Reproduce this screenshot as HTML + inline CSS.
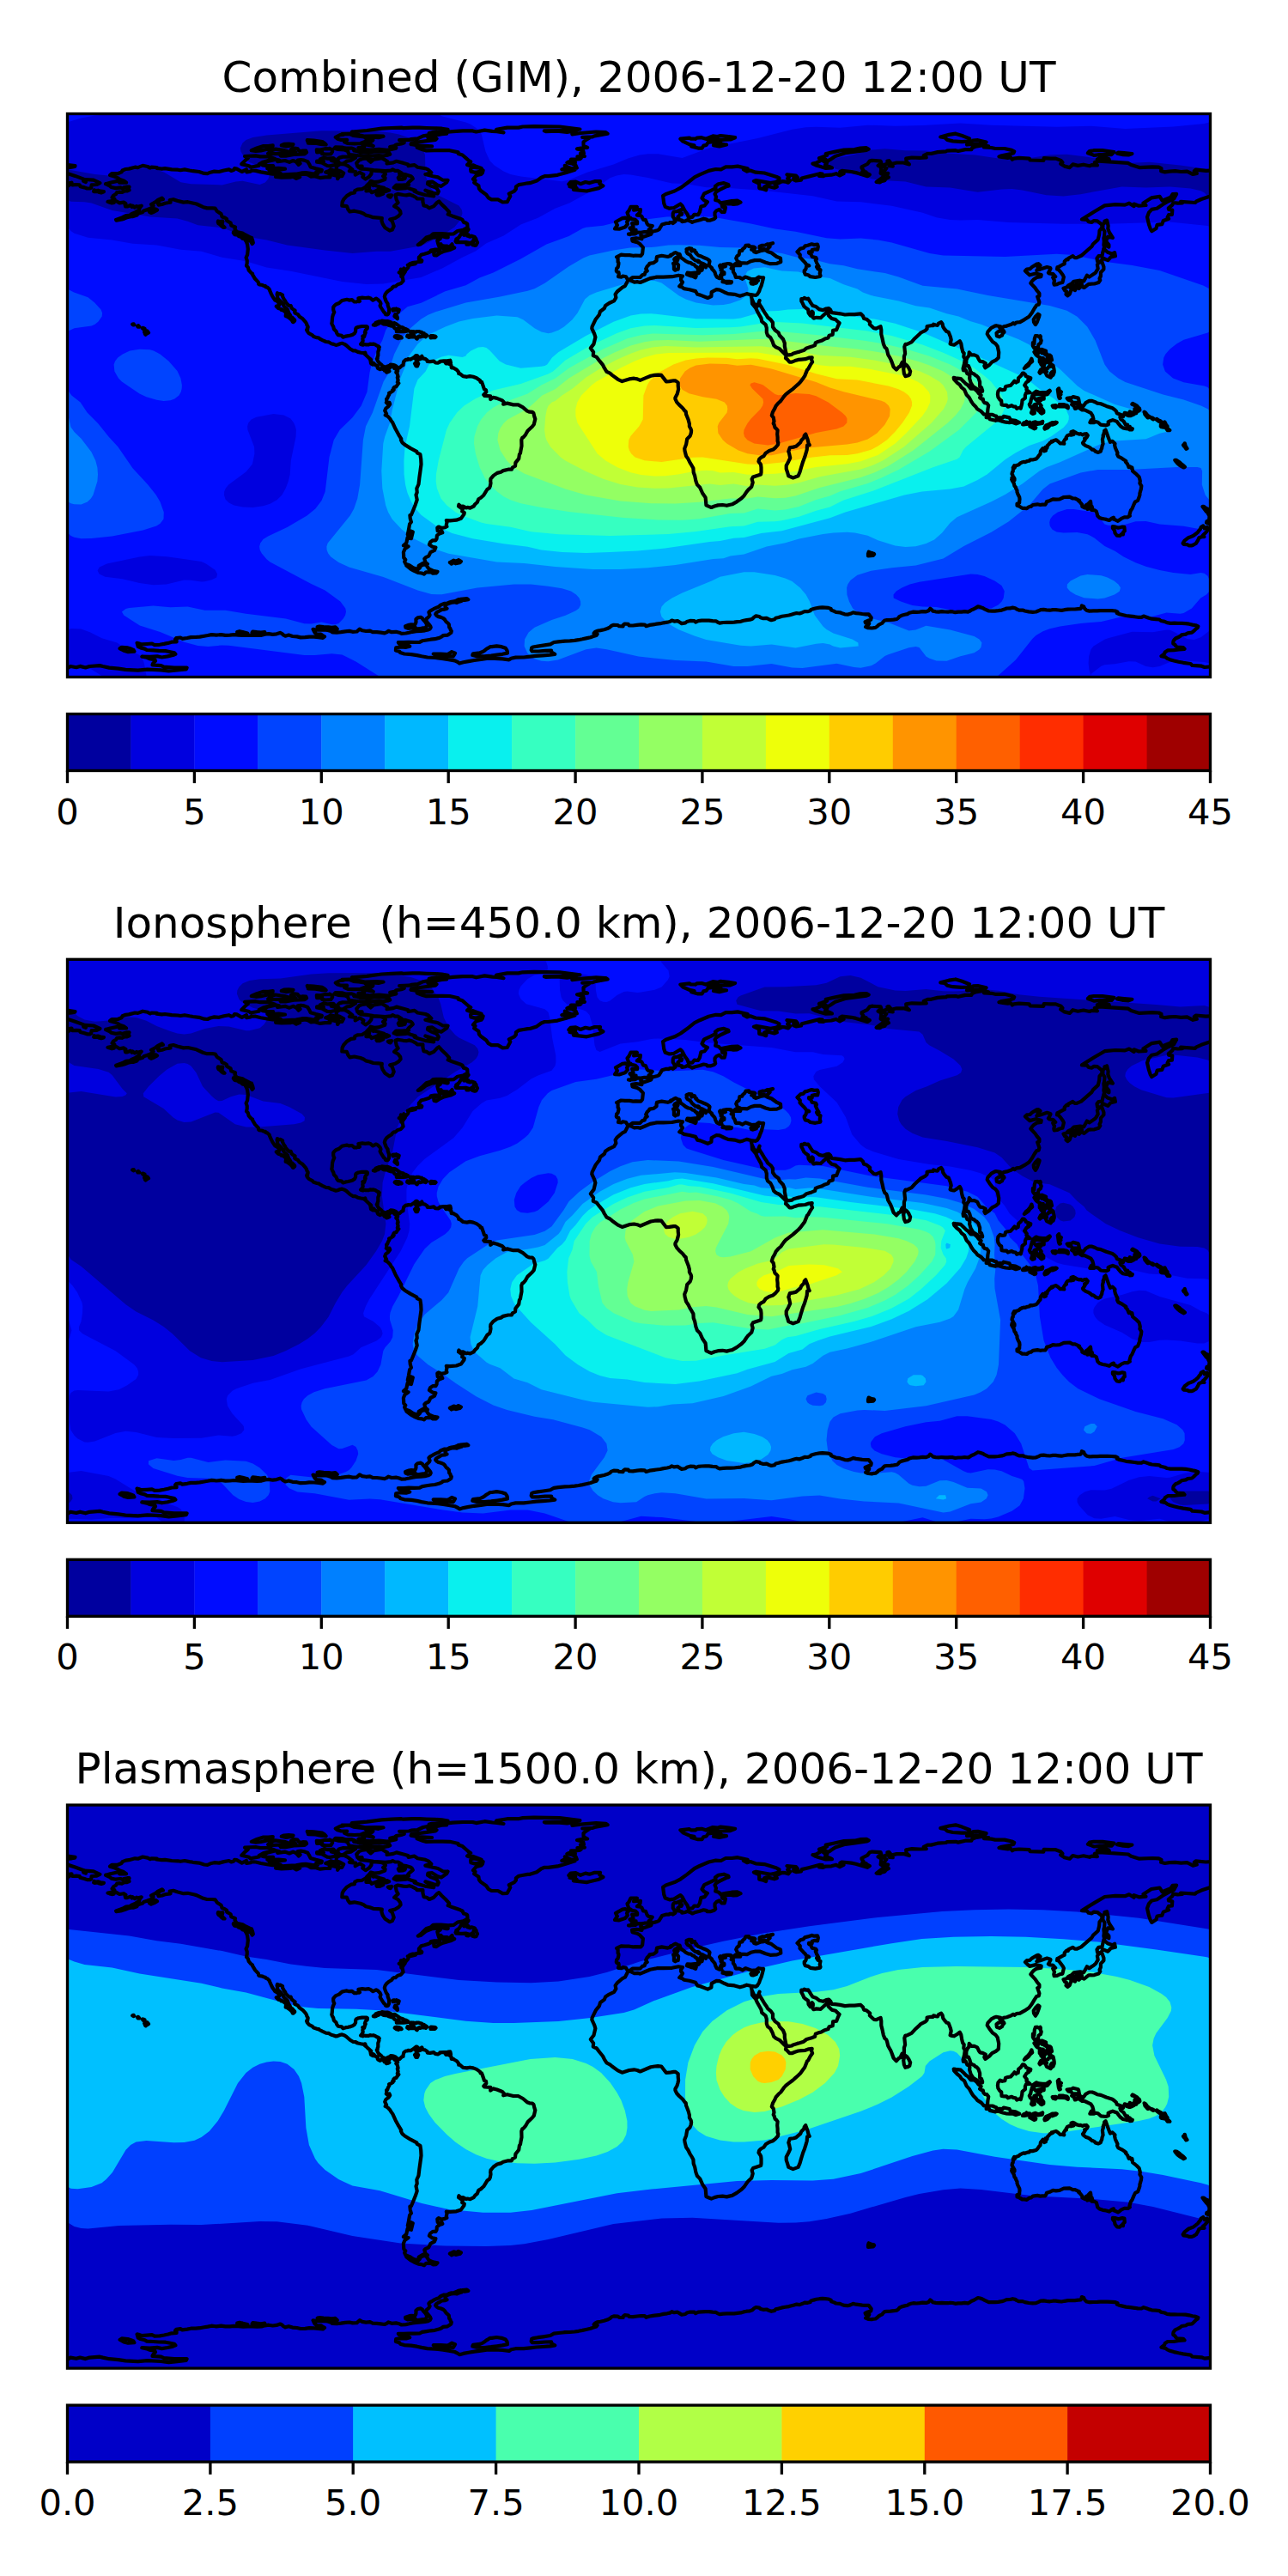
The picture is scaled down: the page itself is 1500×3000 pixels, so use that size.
<!DOCTYPE html>
<html lang="en"><head><meta charset="utf-8"><title>GIM TEC maps</title>
<style>html,body{margin:0;padding:0;background:#fff}body{width:1500px;height:3000px;overflow:hidden}svg{display:block}text{font-family:"DejaVu Sans","Liberation Sans",sans-serif;fill:#000}.ti{font-size:50px;text-anchor:middle}.tk{font-size:41.67px;text-anchor:middle}.fr{fill:none;stroke:#000;stroke-width:3.33;stroke-linejoin:miter}.co{fill:none;stroke:#000;stroke-width:4.2;stroke-linejoin:round;stroke-linecap:round}</style></head><body>
<svg width="1500" height="3000" viewBox="0 0 1500 3000">
<rect width="1500" height="3000" fill="#fff"/>
<g id="panel1">
<clipPath id="cl0"><rect x="78.5" y="132.5" width="1331" height="656"/></clipPath>
<g clip-path="url(#cl0)">
<rect x="76.5" y="130.5" width="1335" height="660" fill="#00009f"/>
<g transform="translate(0 0)" fill-rule="evenodd">
<path d="M74.5 128.5L1414.5 128.5L1414.5 198.1L1374.5 192.4L1338.5 188.8L1306.5 190.3L1266.5 182.8L1242.5 179.8L1222.5 180.3L1190.5 185.5L1174.5 186.2L1135.7 180.5L1102.5 178.4L1078.5 175.4L1054.5 175.3L1030.5 173.3L1014.5 174.6L990.5 180.9L974.5 183.9L970.5 185.1L965.8 188.5L966.4 192.5L972.4 196.5L1016.1 208.5L1026.5 210.1L1054.5 211.5L1078.5 217.4L1106.5 218.5L1138.5 223.7L1166.5 220.5L1178.5 220.1L1190.5 221.5L1218.5 227.3L1238.5 228.5L1258.5 226.2L1306.5 217.4L1334.5 218.5L1362.5 217.5L1386.5 219.5L1398.5 222.3L1402.7 224.5L1410.5 233.2L1414.5 234.9L1414.5 792.5L74.5 792.5L74.5 226.8L78.6 232.5L82.5 234.7L98.5 235.2L106.5 236.5L130.5 244.9L174.8 252.5L206.5 254.6L218.5 257.8L230.5 262.3L258.5 265.3L286.5 275.6L310.5 279.6L334.5 285.5L378.5 291.6L410.5 294.9L438.5 292.7L454.5 292.8L486.5 287.1L494.5 284.6L511 276.5L529.4 264.5L535.9 256.5L538.5 248.5L537.9 244.5L534.5 239.6L510.5 227.5L506.2 224.5L499.8 216.5L495.5 204.5L495 180.5L492 172.5L489.3 168.5L484.7 164.5L478.5 161.3L464.8 156.5L454.5 154.4L438.5 152.7L374.5 152.2L310.5 157.6L294.5 160L286.5 163.1L282.5 166.5L279.8 172.5L280.5 176.5L285.2 184.5L290.5 188.9L298.5 192.2L306.5 193.8L310.8 196.5L313.1 200.5L313.7 204.5L312.3 208.5L308.8 212.5L302.5 214.9L282.5 210.8L274.5 211.6L258.5 215.4L222.5 214.3L210.5 212.2L191 200.5L182.5 197.8L174.5 196.5L166.5 196.3L154.5 197.5L126.5 204.4L110.5 203L74.5 196.5Z" fill="#0000df"/>
<path d="M74.5 128.5L78.5 128.5L171.3 128.5L158.5 130.5L110.5 134.6L94.5 137.6L74.5 143.5ZM503.1 128.5L1414.5 128.5L1414.5 140.7L1402.5 144L1366.5 147.5L1310.5 149.9L1270.5 146.8L1230.5 147.8L1154.5 145.8L1118.5 143.6L1074.5 146.1L1042.5 146.7L1010.5 145.7L978.5 148.8L950.5 147.8L938.5 148.3L922.5 150.8L882.5 161L825.5 172.5L794.5 183.9L766.5 179.2L754.5 179.2L744.8 180.5L731.3 184.5L714.5 191.5L684.5 200.5L662.5 209.5L654.5 211.3L606.5 205.6L594.5 202.9L586.5 199.4L575.6 192.5L570.5 187.2L565.5 176.5L560.8 156.5L558.3 152.5L554.5 148.9L547.7 144.5L542.5 142.5L514.5 135.2ZM718 204.5L726.5 203L734.5 203.5L754.5 207.1L782.5 213.6L798.5 214L822.5 218.3L842.5 218.5L890.5 221.9L946.5 228.2L974.5 234.5L1002.5 235.3L1038.5 239.8L1074.5 247.8L1090.5 253.2L1106.5 256L1118.5 256.6L1138.5 255.9L1174.5 259L1238.5 260.7L1282.5 260.9L1362.5 258.5L1406.5 263.1L1409.6 264.5L1414.5 269.7L1414.5 731.8L1410.5 733.2L1398.5 742.2L1390.5 745L1382.5 743.9L1366.5 735.4L1362.5 733.7L1358.5 733.5L1342.5 736.3L1318.5 735.7L1290.5 743.2L1286.8 744.5L1273.5 752.5L1270.5 756.3L1268.1 764.5L1267.6 772.5L1268.5 780.5L1270.5 786.9L1271.1 784.5L1282.5 775.7L1286.5 774.3L1298.5 773.2L1314.5 770.3L1322.5 770.5L1334.5 775.9L1342.5 777.2L1350.5 776L1362.5 770.9L1366.5 770.1L1382.5 769.7L1402.5 771.1L1408.6 772.5L1414.5 775.7L1414.5 792.5L1270.8 792.5L1270.5 789.9L1266.5 788.8L1262.6 792.5L171.6 792.5L167.9 772.5L166.5 768.5L162.5 763.1L158.5 760.8L150.5 758.4L136.4 748.5L118.5 743.2L105.3 736.5L94.5 732.6L82.5 731.9L74.5 736.8L74.5 262.8L78.5 264.3L82.5 268.9L86.5 271.7L102.5 276.7L130.5 279.4L154.5 283.7L182.5 285.4L210.5 290.8L234.5 292.7L258.5 299.7L286.5 304.3L310.5 311.5L338.5 315.8L398.5 328L426.5 331L446.5 330.5L490.5 322.9L515 312.5L538.5 299.7L553.9 292.5L566.5 283.2L586.5 274.5L606.5 261.6L626.5 253.7L646.5 242.8L663.1 236.5L692.2 220.5L710.5 207.3ZM162.5 648.4L124.5 656.5L115.8 660.5L113.6 664.5L115.6 668.5L122.5 671.8L142.5 674.2L162.5 679.1L178.5 681.3L193.8 680.5L214.5 675.5L222.5 675.7L234.5 677.6L238.5 677.2L246.5 675.3L252.2 672.5L253.1 668.5L250.5 663.7L239.9 656.5L234.5 654.1L194.5 648.2L174.5 647ZM318.5 482.1L298.5 485.8L292.7 488.5L289.2 492.5L288.1 496.5L288.4 500.5L296.1 520.5L296.4 528.5L293.9 540.5L286.5 549.4L266.2 564.5L262.9 568.5L261.2 572.5L261 576.5L262.5 581.4L266.5 585.6L272.6 588.5L282.5 590.5L294.5 590.9L306.5 589.3L314.5 586.7L322.5 582.2L328.4 576.5L332.8 568.5L335.8 560.5L337.7 552.5L338.8 536.5L344.6 508.5L344.9 500.5L343.9 496.5L342.2 492.5L338.5 487.6L330.5 483.4ZM74.5 792.5L74.5 771.6L77.6 772.5L86.5 776.5L102.5 778.2L106.5 779.6L120.8 788.5L124.4 792.5Z" fill="#000cff"/>
<path d="M776.3 252.5L798.5 251.8L830.5 252.8L874.5 260.4L902.5 266.4L926.5 269.8L962.5 277.2L978.5 278.4L1002.5 277.6L1022.5 279.5L1038.5 282.6L1082.5 294.9L1098.5 297.4L1170.5 299.1L1230.5 295.7L1250.5 297.1L1286.5 304.8L1318.5 308.9L1350.5 315L1401.2 332.5L1414.5 339.4L1414.5 383.1L1406.5 387.4L1378.5 395.7L1370.5 400.2L1362.5 406.6L1357.3 412.5L1355.3 416.5L1354.1 424.5L1356.9 432.5L1366.1 440.5L1378.5 445.2L1402.5 449.5L1406.5 451L1414.5 460.6L1414.5 624.6L1406.5 618.6L1398.8 616.5L1378.5 612.7L1350.5 610.5L1334.5 607L1322.5 607.2L1306.5 611.9L1290.5 611.8L1286.5 610.6L1278.4 600.5L1273.1 596.5L1250.5 593L1242.5 593L1231.8 596.5L1226.1 600.5L1223.1 604.5L1222.2 608.5L1222.7 612.5L1225.3 616.5L1230.5 619.4L1238.5 620.4L1254.5 620L1266.5 622.2L1274.5 626.4L1286.5 636L1298.5 641.8L1308.7 648.5L1322.5 655.3L1334.5 659.8L1350.5 664.1L1366.5 666.9L1386.5 668.9L1398.5 667L1402.5 667.8L1406.5 670.7L1409.1 676.5L1409.7 684.5L1408.6 688.5L1404.9 692.5L1398.2 696.5L1387.9 708.5L1378.5 713.9L1374.5 714.8L1358.5 713.5L1334.5 720.1L1318.5 717.6L1306.5 718.3L1282.5 723.9L1258.5 725.9L1234.5 729.4L1222.5 732.3L1214.5 735.2L1206.5 740L1202.5 743.7L1182.9 768.5L1156.1 792.5L449.4 792.5L414.5 770.5L398.5 762.6L386.5 761.2L366.5 763L354.5 762.9L266.5 751.7L258.5 751.4L242.5 752.9L230.5 752.1L214.5 747.7L186.5 736L162.8 728.5L144.2 716.5L141.9 712.5L146.5 709.1L150.5 708L178.5 705.6L198.5 707.2L218.5 706.4L238.5 710.7L262.5 710.7L286.5 714.8L332.9 720.5L354.5 726.3L362.5 726.4L374.5 724.6L386.5 727.3L390.5 727.3L394.5 725.9L399.7 720.5L402.1 716.5L403 712.5L402.3 708.5L396.4 700.5L378.5 687.5L362.5 680L314.5 654.4L310.5 651.2L304.8 644.5L302.7 640.5L302.1 636.5L303.2 632.5L306.5 628.1L312.2 624.5L334.5 614.1L357.5 600.5L367.3 592.5L374.5 583L378.7 572.5L383.5 532.5L388.7 512.5L395.8 500.5L410.5 486.2L420.7 472.5L427.5 456.5L430.5 434.1L432.8 424.5L438.6 408.5L445.2 396.5L449.2 384.5L451.8 380.5L466.5 364.1L474.5 357.2L490.5 352.8L518.5 339.3L542.5 332.3L558.5 323.4L574.5 317.4L606.5 301.6L636.4 284.5L662.5 274.9L678.5 266L682.5 264.8L702.5 262.8L730.5 255.7L754.5 255.3ZM1130.5 668.5L1070.5 677.7L1059.5 680.5L1050.3 684.5L1043.8 688.5L1040.5 692.5L1040.7 696.5L1049.1 700.5L1062.5 705L1074.5 706.4L1090.5 706.9L1118.5 712.6L1154.5 708.4L1162.6 704.5L1166.6 700.5L1168.7 696.5L1169.8 688.5L1166.5 682.1L1158.5 676.5L1146.5 671.1L1138.5 669.1ZM74.5 387.8L74.5 334.3L86.2 340.5L102.5 346.2L110.2 352.5L117.5 360.5L119.1 364.5L118.7 368.5L114.5 374.5L110.5 377.8L106.5 379.6L86.5 382.2ZM151.2 408.5L162.5 406.8L174.5 407.2L179 408.5L186.5 412.4L196.4 420.5L206.5 432.1L210.4 440.5L211.9 448.5L211.7 452.5L210.7 456.5L208.4 460.5L203.3 464.5L198.5 466.3L190.5 466.9L182.5 465.7L170.5 462.2L162.5 458.5L141.9 444.5L138 440.5L133.4 432.5L132.6 424.5L134.1 420.5L137.2 416.5L142.8 412.5ZM74.5 618.3L74.5 450.5L78.5 453.7L83.4 460.5L93.6 468.5L101.6 480.5L114.5 493.5L126.5 508.5L137.5 520.5L154.5 545.3L172.3 564.5L181.8 576.5L186.5 584.5L190.8 596.5L190.5 604.5L186.5 609.7L182.2 612.5L166.5 617.4L130.5 624.5L106.5 627L94.5 627.2L86.5 625.8L82.5 624L78.5 620.2ZM74.5 692.2L74.5 669.7L76.7 672.5L78.8 680.5L77.8 688.5Z" fill="#0044ff"/>
<path d="M733.9 288.5L758.5 288.1L778.5 285.6L790.5 285.2L814.5 285.7L838.5 288L874.5 288.8L890.5 292.3L910.5 295L926.5 299.2L946.5 302.1L966.5 307.2L982.5 309.2L998.5 313.2L1030.5 318.1L1046.5 322.4L1074.5 332.8L1114.5 336.5L1150.5 343.9L1222.5 356.1L1242.5 361.8L1254.5 368.8L1266.2 380.5L1275.6 396.5L1286.5 424.5L1292.2 432.5L1302.3 440.5L1310.5 445L1354.5 459.6L1378.5 465.4L1398.7 472.5L1407.1 476.5L1409.6 480.5L1413 496.5L1414.5 499.3L1414.5 586.5L1410.2 584.5L1403.7 576.5L1399.8 564.5L1400.1 548.5L1398.5 545L1394.5 544.1L1370.5 544L1314.5 546.9L1278.5 546.9L1258.5 550.5L1222.5 563.5L1214.5 569.8L1198.5 588.5L1174.5 607.4L1154.5 619.8L1122.5 636L1098.5 650.6L1066.5 658.6L1038.5 661.3L1014.5 664.7L998.5 669.8L990.5 675.7L987.3 680.5L986.1 684.5L986.4 692.5L988.9 700.5L993.1 708.5L997.9 712.5L1004.9 716.5L1014.5 720.2L1034.5 724.9L1058.5 734.4L1066.5 733.6L1078.5 728.7L1106.5 733.4L1134.5 741.1L1140.5 744.5L1143.4 748.5L1142.5 753.7L1140.4 756.5L1134.5 760.3L1118.5 764.3L1102.5 769.7L1090.5 769.5L1082.5 766.7L1078.5 764.4L1070.5 754.1L1066.5 753.1L1058.5 754.3L1034.5 762.2L1030.5 764.1L1019.7 772.5L1014.5 775.3L1002.5 777.7L994.5 777.1L974.5 772.8L934.5 778L922.5 777.4L898.5 773.1L870.5 776.1L854.5 775.9L822.5 770.6L786.5 769L743.6 764.5L706.5 756.2L694.5 754.6L682.5 756.2L649.7 768.5L638.5 770.2L630.5 769.7L622.5 767.2L618.1 764.5L614.2 760.5L610.6 752.5L611.1 744.5L615.6 736.5L622.5 730.8L642.5 722L658.5 716.7L670.5 711.2L674.2 708.5L676.2 704.5L676.1 700.5L674.6 696.5L671 692.5L665 688.5L654.5 685.2L638.5 682.7L618.5 680.6L598.5 680.4L555.9 684.5L514.5 692.3L502.5 692L486.5 687.6L446.5 672L406.5 660.6L394.5 654.9L385.3 648.5L382.2 644.5L380.6 640.5L380.4 636.5L381.7 632.5L407.7 600.5L412.2 592.5L416.3 580.5L419.1 564.5L422.9 512.5L426 496.5L433.9 480.5L446.6 444.5L451.4 436.5L459.1 412.5L469.3 392.5L478.5 381.7L490.5 371.5L498.5 366.7L506.5 363.4L542.5 352.5L582.5 345.5L614.5 338.8L622.5 336.2L634.5 329.8L662.5 310.3L679.3 300.5L686.5 297.5L714.5 291.4ZM74.5 579.3L74.5 475.5L76 476.5L78.7 480.5L82.5 497.6L86.5 503L94.5 510.8L106.5 526.6L111.3 536.5L113.4 544.5L114 552.5L113.4 560.5L108.4 576.5L105.9 580.5L101.8 584.5L94.5 587.5L86.5 587.3L82.5 586.2L78.5 583.8ZM1246.7 676.5L1258.5 670.4L1266.5 669L1282.5 670.3L1289.7 672.5L1297.5 676.5L1302.4 680.5L1305 684.5L1303.8 688.5L1302.5 689.6L1297.9 692.5L1286.5 696.5L1278.5 697.4L1262.5 696.3L1252.5 692.5L1246.1 688.5L1242.7 684.5L1242.9 680.5Z" fill="#0080ff"/>
<path d="M877.8 312.5L890.5 311.3L910.5 315.5L929.8 316.5L946.5 321.6L966.5 324.1L982.5 331.3L998.5 336.4L1004.8 340.5L1014.5 344.1L1046.5 350.5L1066.5 356.3L1082.5 358.4L1102.5 365.3L1116.3 368.5L1130.5 374.2L1142.5 377.8L1186.5 395.2L1198.5 401.2L1210.5 412.6L1234.5 430.1L1254.5 449.2L1262.5 454.9L1298.5 471.1L1326.5 479L1346.5 490.1L1362.5 496.4L1364.5 500.5L1362.5 502L1350.5 504.8L1334.5 511.3L1298.5 513.5L1282.5 516.7L1234.5 538.2L1218.5 544.2L1210.5 548.5L1190.5 563.4L1170.5 576L1154.5 584.2L1114.5 602.2L1106.5 609L1097.1 620.5L1088.1 628.5L1078.5 633.1L1066.5 636.3L1054.5 636.9L1042.5 635.5L1022.5 629.3L1010.5 623.8L995.7 620.5L986.5 619.8L970.5 620.5L958.5 621.9L930.5 627.6L914.5 632.3L892.8 636.5L866.5 645.5L850.5 647.6L842.5 650.2L830.5 651L786.5 658.1L754.5 661.3L722.5 663L690.5 663L646.5 659.9L610.5 656.1L578.5 654.5L522.5 644.8L506.5 639.5L482.5 627.5L467.8 616.5L456.6 604.5L452.1 596.5L449.2 588.5L445.3 568.5L444.3 548.5L446.3 516.5L448.2 508.5L454 492.5L457 476.5L466.3 440.5L472.8 424.5L474.5 417.1L486.5 400.5L498.5 390.1L518.7 380.5L534.5 374.5L550.5 371.1L578.5 367.5L602.5 369.2L609.6 372.5L622.5 382.3L630.5 386.6L638.5 388.3L642.5 387.6L650.5 384.4L657 380.5L666.3 372.5L672.6 364.5L681.2 348.5L686.5 344.1L694.5 340.4L722.5 331.9L754.5 326.9L762.5 327L770.5 329.5L790.9 344.5L798.7 348.5L810.5 352.5L830.5 355.4L842.5 354.9L850.5 353.5L862.5 349.2L868.7 344.5L871 340.5L871.6 336.5L867.7 324.5L867.7 320.5L870.5 315.9ZM838.5 671.7L866.5 666.3L878.5 666.3L902.5 669.9L914.5 673.5L922.5 677L931.8 684.5L938.6 692.5L942.9 700.5L948.8 716.5L958.5 729.6L962.5 732.9L970.5 737.4L992.5 744.5L999.4 748.5L999.7 752.5L978.5 754.5L970.3 752.5L966.5 750.6L958.5 749.1L950.5 749.7L926.5 754.6L898.5 750.5L874.5 752.5L862.5 751.7L822.5 744.9L808.7 740.5L790.5 733.2L782.5 728.8L776.3 724.5L770.5 718.3L768.9 712.5L770.5 706.6L774.5 702.1L782.6 696.5L794.5 690.4L828.8 676.5Z" fill="#00b8ff"/>
<path d="M917.7 360.5L934.5 359.9L982.5 367.2L1018.5 371.5L1042.5 376.8L1074.5 387.3L1146.5 418.4L1195.1 440.5L1210.5 453.1L1227.7 464.5L1241.3 476.5L1244.8 484.5L1244.7 488.5L1243.2 492.5L1238.5 497.9L1223.8 508.5L1214.5 513.4L1198.5 518.9L1182.5 527.5L1170.5 535.2L1149.5 552.5L1138.5 559L1122.5 566.5L1106.5 569.5L1073.7 572.5L1053.3 576.5L984.4 596.5L966.5 603.3L910.5 618.3L886.5 621.1L866.5 626L854.5 626.8L838.5 629.9L826.5 630.9L774.5 638.5L742.5 641.4L710.5 643L682.5 643.9L654.5 643.1L630.5 640.4L614.5 636.7L586.5 633.3L550.5 627.2L526.5 621.1L508 612.5L490.5 599.7L484 592.5L479 584.5L474.5 574L472.1 564.5L470.6 552.5L470.4 536.5L471.6 520.5L477 496.5L482.4 452.5L486.5 442.2L495.7 432.5L499.7 424.5L502.5 421.3L506.5 418.9L514.5 415.5L522.5 413.8L538.5 416L542.5 414.5L543.6 412.5L548.4 408.5L556.9 404.5L562.5 403.9L566.5 405L570.5 408.2L581.7 420.5L589.1 424.5L606.5 428.7L630.5 426.7L634.5 426.1L637.2 424.5L642.9 416.5L650.5 410.1L682.5 390.9L714.5 374.7L734.5 367.6L746.5 365.6L758.5 365.2L810.5 371.3L854.5 371.6L862.5 370.6L890.5 362.5L906.5 362.1Z" fill="#09f0ee"/>
<path d="M862.5 380.4L898.5 374.8L934.5 376.4L1010.5 385.6L1038.5 391L1074.5 401.6L1098.5 410.8L1118.5 419.7L1134.1 428.5L1146.5 437.7L1154.2 444.5L1166.5 460.5L1169.7 468.5L1169.7 476.5L1165.8 484.5L1159 492.5L1124.9 520.5L1121.5 524.5L1117.6 532.5L1114.5 534.7L1086.5 544.2L1018.5 571.1L982.5 582.6L966.5 590.4L950.5 594.7L930.5 601.7L910.5 606.3L902.5 607.3L882.5 607.8L866.5 612.5L850.5 613.3L810.5 619L778.5 622.1L710.5 624.1L650.5 622.3L618.5 619.3L594.5 613.8L566.5 610.1L560.2 608.5L538.6 600.5L530.6 596.5L520.3 588.5L513.5 580.5L508.8 568.5L507.7 560.5L507.9 552.5L510.7 536.5L520 500.5L523.7 492.5L532.2 480.5L540.5 472.5L553.3 464.5L574.5 454.6L606.5 446.9L638.5 435.5L644.1 432.5L658.5 419.4L686.5 403.1L718.5 387.9L734.5 382.3L750.5 379.5L762.5 378.9L810.5 382.1L850.5 381.3Z" fill="#36ffc1"/>
<path d="M760 388.5L818.5 390.2L854.5 389L890.5 385.5L902.5 385.4L950.5 389.9L1006.5 396.7L1030.5 400.7L1054.5 406.3L1082.5 414.7L1106.5 424.4L1114.1 428.5L1126.7 436.5L1139.5 448.5L1143.3 456.5L1144.1 460.5L1143.5 468.5L1142 472.5L1136.9 480.5L1117 500.5L1082.5 525.8L1046.5 546.9L1026.5 556.6L1010.5 562.9L978.5 572.2L966.5 577.4L950.5 582.1L930.5 589.9L914.5 593.4L902.5 594.6L882.5 592.6L866.5 597.6L850.5 598L814.5 604.3L794.5 605.8L766.5 605.4L726.5 603L662.5 596.1L630.5 591.1L606.5 586.2L594.5 582.3L586.5 578.2L578.9 572.5L570.6 564.5L564.6 556.5L558.7 544.5L553.9 528.5L552 516.5L552.4 508.5L556 496.5L560.3 488.5L566.9 480.5L574.5 474.6L582.5 470.2L614.5 458.5L630.3 448.5L646.5 440.8L662.5 428.8L702.5 406.5L730.5 394.3L746.5 390.2Z" fill="#63ff94"/>
<path d="M762.2 396.5L778.5 396L814.5 397.7L882.5 394.9L898.5 395.1L962.5 403.1L998.5 406.4L1022.5 409.9L1046.5 414.7L1070.5 421.3L1082.5 425.4L1098.6 432.5L1111.1 440.5L1118.9 448.5L1123 456.5L1123.6 464.5L1122.7 468.5L1118.6 476.5L1112.1 484.5L1103.7 492.5L1063.6 524.5L1034.5 542.7L1018.5 550.3L1002.5 555.9L954.5 567.9L926.5 577.4L914.5 579.8L902.5 580.2L882.5 578.5L870.5 580.6L850.5 580.4L814.5 584.8L786.5 586.5L758.5 586.3L722.5 583.4L682.5 576.5L658.5 569.5L610.5 551.6L598.5 544.4L590.3 536.5L582.6 524.5L579.4 512.5L580.3 504.5L582.5 498.7L586.5 493L591.3 488.5L614.5 475.9L631.4 460.5L646.5 453.3L662.5 440.5L698.5 419.1L714.5 410.9L734.5 402.6L750.5 398.2Z" fill="#94ff63"/>
<path d="M759.6 404.5L774.5 403.1L810.5 404.5L886.5 403.2L922.5 407.6L954.5 413.7L990.5 415.7L1018.5 419.5L1054.5 427.1L1071.5 432.5L1082.5 437.4L1094.2 444.5L1098.4 448.5L1103 456.5L1103.8 464.5L1102.8 468.5L1098.8 476.5L1084.8 492.5L1052.7 520.5L1028 536.5L1014.5 542.6L1002.5 546.5L954.5 555.3L930.5 562.2L918.5 564.6L902.5 565.7L882.5 564.4L870.5 566.2L854.5 563.6L838.5 565L826.5 563.6L778.5 568.5L762.5 568.8L742.5 567.5L722.5 563.9L702.5 557.8L681.4 548.5L658.5 536.5L652.9 532.5L641.1 520.5L636.4 512.5L635.1 508.5L634.1 500.5L635.3 484.5L636.9 476.5L638.6 472.5L642.7 468.5L646.5 466.9L654.5 460.5L666.8 452.5L682.5 439.4L700.1 428.5L718.5 418.8L734.5 411.7L746.5 407.6Z" fill="#c1ff36"/>
<path d="M763.9 412.5L778.5 411L882.5 410.5L920.1 416.5L954.5 425.3L966.5 426.4L990.5 426.8L1014.5 430.1L1046.9 436.5L1059.6 440.5L1068.6 444.5L1074.6 448.5L1081.8 456.5L1083.3 460.5L1083.2 468.5L1079.6 476.5L1074.1 484.5L1055.3 504.5L1042.6 516.5L1022.5 529.9L1002.5 537.2L986.5 540.2L950.5 544L922.5 549.4L902.5 551.7L870.5 552.8L854.5 550L838.5 550.4L830.5 548.2L822.5 547.7L810.5 548.6L789.6 552.5L774.5 554.3L762.5 554.5L746.5 553.1L734.5 550.3L719.5 544.5L705.4 536.5L695.8 528.5L672.5 492.5L670.4 484.5L670.3 476.5L672.3 468.5L677 460.5L689.1 448.5L694.4 444.5L722.7 428.5L739.3 420.5L749.4 416.5Z" fill="#eeff09"/>
<path d="M823.9 416.5L846.5 416.8L858.5 418.2L874.5 417.2L882.5 417.8L915.6 424.5L950.5 435.3L974.5 441.2L998.5 442.5L1034.5 449.5L1046.5 453.2L1053 456.5L1058.1 460.5L1060.9 464.5L1062.1 468.5L1062 472.5L1058.9 480.5L1050.9 492.5L1042.5 502.8L1032.7 512.5L1022.5 519.6L1014.5 523.7L998.5 528.2L986.5 529.9L966.5 530.3L942.5 532.9L910.5 538.6L886.5 541.1L870.5 540.5L818.5 532.4L806.5 532.8L770.5 538L750.5 536.2L739.6 532.5L735.3 528.5L732.9 524.5L731.7 520.5L732.2 512.5L734.5 507.8L744.3 496.5L748.7 488.5L749.4 460.5L753.8 448.5L756.1 444.5L766.5 434.3L784.2 424.5L798.5 419.6L810.5 417.5Z" fill="#ffcc00"/>
<path d="M810.5 425.6L826.5 423.4L846.5 424L858.5 425.7L874.5 424.8L898.5 429.4L950.5 445.1L966.5 451.4L982.5 456.3L1026.5 466.8L1030.7 468.5L1035 472.5L1036.7 476.5L1036.1 484.5L1030.5 494.5L1021.4 504.5L1010.5 511.6L998.5 515.6L986.5 517.6L938.5 521.7L898.5 530.3L886.5 530.5L870.5 528.3L859.9 524.5L846.3 516.5L841.9 512.5L836.4 504.5L835.7 496.5L837.2 492.5L846.6 480.5L847.3 476.5L846.8 472.5L843.7 468.5L834.5 464.7L818.5 462.2L802.5 458.2L794.5 453.7L791.2 448.5L792.1 440.5L797.7 432.5L803.5 428.5Z" fill="#ff9400"/>
<path d="M873.4 448.5L874.5 446.6L878.5 445.3L886.5 447.5L888.9 448.5L902.5 459L906.5 460.2L926.5 457.9L942.5 459.1L950.5 461.2L964.6 468.5L980.7 480.5L984.9 484.5L986.5 487.4L986.3 492.5L982.4 496.5L974.5 499.6L950.5 504.1L906.9 516.5L894.5 518.4L878.3 516.5L870.5 512.6L867 508.5L866 504.5L866.5 500.5L870.5 492.9L874.5 487.7L885.5 476.5L888.1 472.5L889.1 468.5L888.4 464.5L876 452.5Z" fill="#ff6000"/>
</g>
<g transform="translate(0 0)">
<path class="co" d="M731.3 326.3L733.5 326L738.8 328.6L742.5 328.2L745.5 329L751.1 326.7L757.1 324.1L765 322.6L772.5 322.6L782.6 322.2L790.1 320.7L795 321.5L793.1 324.1L793.1 326.3L795 328.6L793.9 330.5L791.2 333.5L794.6 334.6L796.5 336.1L802.9 337.2L810 339.1L812.2 342.8L815.6 343.6L824.2 347L828.4 345.1L828.7 340.2L834.4 337.2L838.1 337.6L843.4 340.2L847.9 342.1L855.4 342.8L861.7 344.7L865.5 343.6L869.6 342.1L874.5 343.2L875.6 348.1L876 353.7L880.1 358.6L882 362.7L886.5 370.6L887.2 374.3L891.7 378.1L892.8 381.8L892.8 387.1L894 390.5L897.3 393.1L899.6 397.6L901.1 402.1L903.7 404.3L907.8 406.2L913.5 411.8L915.7 414.1L915 417.1L916.5 418.2L919.5 421.6L922.1 421.6L925.8 420.1L929.6 418.9L933.3 418.6L937.8 418.2L942 416.7L945.7 416.3L945 418.6L946.1 421.6L943.8 424.9L941.2 429.8L940.1 430.6L937.1 438.1L935.2 440.7L932.2 444.8L929.6 447.4L925.8 450.8L923.2 453.1L918.3 456.8L915 459.4L912.7 462.1L909.3 466.9L906.7 469.2L903.7 472.6L902.2 475.9L900 479.7L898.8 483.8L900.7 486.1L901.5 490.6L900.7 493.2L901.5 494.3L902.6 498.1L904.1 499.2L905.6 501.1L905.2 505.6L905.6 509.3L905.6 513.8L906.3 515.7L906 517.9L903 521.3L900.3 523.6L895.8 525.1L891.7 527.7L889.5 531.1L886.1 532.9L884.2 534.8L883.5 537.4L884.6 538.9L886.1 541.2L886.5 544.5L886.5 550.2L886.1 552.4L881.6 553.9L877.1 555.4L875.6 558L876.7 561.8L875.2 567L871.5 570.4L869.6 572.7L866.6 577.2L863.6 580.2L858 584.3L852.7 587.3L849.4 588L846.4 588.8L841.5 588L836.2 588.4L832.1 589.5L828.4 591L825.7 589.9L822.4 588.4L822 583.2L821.6 579.4L818.2 574.5L815.2 567.8L811.9 564.4L810.4 560.3L809.2 554.3L807.7 550.2L807.4 545.3L805.5 541.9L803.6 538.9L801.4 534.4L799.1 531.1L797.6 525.4L797.2 522.4L799.1 517.6L800.2 511.2L803.6 507.8L804.7 504.8L805.1 501.8L804.7 499.9L802.9 496.6L802.9 493.6L801.7 489.1L799.5 483.4L799.1 482.7L798.7 479.3L797.6 478.6L795 475.2L790.9 471.4L788.2 468.4L786.4 464.7L786.4 463.2L788.6 459.1L789.4 456.4L790.1 453.1L789.7 449.3L789.7 445.6L786.7 443.3L784.5 443.3L779.6 444.1L775.9 444.4L773.6 441.4L770.2 436.9L766.1 436.6L762.4 436.9L757.9 437.7L752.6 439.9L745.5 442.9L742.1 441.4L738.4 440.7L732.8 441.4L724.5 444.1L719.6 441.8L712.9 436.9L710.3 434.7L706.5 432.8L703.9 428.7L702 424.9L698.3 420.4L694.9 415.9L690.8 414.1L691.1 409.9L687.8 405.4L691.5 400.6L693.4 392.7L692.3 389L689.3 382.6L689.6 380.3L693.8 371.7L697.9 366.5L699 362.7L703.9 359L705 356L709.5 353L715.1 350.3L717.4 346.6L716.6 342.8L718.9 339.5L724.9 334.6L727.9 333.1L730.1 329L731.3 326.3M938.2 505.6L940.5 511.6L941.6 516.1L942.7 518.3L940.1 518.7L939.7 523.9L938.6 527.7L937.1 532.6L935.2 537.4L933 544.5L931.5 549.8L929.6 554.3L923.6 556.5L918.3 554.3L917.2 550.5L915.7 546L915.7 542.3L918.3 537.4L920.2 533.3L919.1 528.1L918.3 525.8L919.8 521.3L924 520.6L927 519.8L929.6 517.6L932.2 515.3L933.3 512.7L936.3 509.7L936.7 507.4L938.2 505.6M874.5 343.2L880.1 344L882 342.8L884.2 339.1L885 336.5L886.8 332.3L888 327.8L889.1 323.3L886.5 323.3L883.5 322.6L880.5 324.8L875.2 325.2L869.6 323L868.1 322.6L864.7 324.8L861 323L856.9 323L855.7 319.2L853.9 316.6L853.9 313.2L851.6 312.5L855.7 309.1L862.1 309.1L862.9 306.1L870 306.5L874.5 304.2L879 303.1L885.3 303.1L891.7 305.7L897 307.2L904.8 306.8L909.3 305L909 300.8L904.5 299L898.5 294.5L894 293L891 291.1L893.6 290.3L896.6 287.3L894.7 285.8L900 283.2L896.6 284L893.6 284.3L891.3 285.5L887.6 285.8L884.6 287L884.6 289.2L886.5 290.3L890.2 290L889.5 291.5L885.3 292.2L880.5 294.1L878.2 293.3L879 291.8L875.2 290.7L875.6 290L879.4 288.5L878.2 287.7L872.2 287L872.2 285.5L868.5 285.8L867.4 288.1L864.4 290.7L864.4 291.8L861.4 292.2L860.6 296.7L858.4 298.2L857.2 300.8L858.4 303.1L858.7 304.6L862.1 305.7L861.4 306.5L856.9 306.8L855.4 308L852.4 309.8L850.9 308.3L851.2 307.6L848.6 307.2L846.7 307.2L842.2 308L844.9 310.2L843 310.6L840.7 310.6L838.9 308.7L838.1 309.5L838.9 311.7L840.7 313.6L839.6 314.7L841.5 316.2L843.4 317.3L843.4 319.2L840 318.5L841.1 320.3L838.9 320.7L840.4 324.1L837.7 324.1L834.7 322.6L833.2 319.6L832.5 317L831 315.1L829.1 313.2L829.1 312.1L826.1 309.5L825.7 308L826.5 304.2L826.1 303.5L824.2 302L822.7 301.2L819 299.7L816.7 298.6L813.4 297.5L810.4 294.8L811.1 294.5L809.2 293L809.2 291.5L807 291.1L805.5 292.6L804.7 291.5L804.7 290L805.5 289.6L802.5 289.2L799.5 290.3L799.9 292.2L799.5 293.3L800.6 295.2L804 297.1L805.9 300.1L810 303.5L813 303.5L814.1 304.2L813 305L816.4 306.1L819 307.2L822.4 309.1L822.7 309.8L822 311.3L819.7 309.5L816.7 309.1L814.9 311.3L817.9 312.8L817.5 314.7L815.6 315.1L813.7 318.1L812.2 318.5L812.2 317.3L813 315.1L813.7 314.5L812.2 312.5L811.1 310.6L809.6 309.8L808.5 308.3L806.2 307.6L804.4 306.1L801.7 305.7L798.7 304.2L795.4 301.6L792.7 299.7L791.6 296L789.7 295.6L786.7 294.1L784.9 294.8L783 296.3L781.1 296.7L781.5 297.8L777.7 299L770.6 297.8L765 299L764.6 301.2L764.6 303.5L761.2 306.1L756.4 306.8L756 308L753.7 310.2L752.2 313.2L753.7 315.5L751.5 317L750.7 319.6L748.1 320.3L745.5 323L740.6 323L736.9 323L734.6 324.5L733.1 326L731.3 325.6L730.1 324.1L729 322.2L725.3 321.5L723.8 322.6L720 322.2L720.8 319.2L720.4 317L718.5 316.6L717.8 315.5L718.1 312.8L719.6 311.3L720.4 307.6L720.4 306.1L719.6 305L719.6 303.5L719.6 300.8L718.1 299.3L723.4 296.7L727.9 297.1L733.1 297.1L737.3 297.8L740.3 297.5L746.3 297.8L748.1 295.6L748.9 288.1L745.1 284L742.1 282.1L736.5 280.6L736.1 278L741 277.2L747.4 278.3L746.3 273.8L749.6 275.7L758.2 272.7L759.4 269.7L762.7 269L765.7 268.2L767.6 267.1L771 261.5L776.2 260L779.2 260L780 259.2L783 259.2L783.7 260L786.4 258.1L785.6 256.6L785.2 254.4L783.7 252.5L783.7 248.7L784.5 246.9L785.2 246.5L788.6 246.1L790.1 245.4L793.1 244.2L792.7 246.1L791.6 247.2L792.4 248.4L794.2 248.7L793.5 250.2L792.4 249.9L789.4 252.5L790.5 254.4L788.2 255.1L790.5 255.9L794.2 256.6L794.2 258.1L798.2 257.4L800.2 256.2L804.4 257.7L806.2 258.9L808.9 257.7L814.9 256.2L819.4 254.7L823.1 255.5L823.5 256.6L827.2 256.6L831.7 255.1L833.2 253.6L832.5 250.6L832.5 247.6L834.4 245.4L837.7 243.9L840.7 246.9L843.7 246.9L844.5 243.9L844.9 241.6L843.7 242L841.1 240.9L840.7 238.6L845.6 237.5L850.5 237.1L854.2 237.9L858.4 237.5L862.5 235.6L858.7 233.7L852 234.1L845.2 235.2L839.2 236.4L837 234.1L833.2 233L834 229.2L832.5 225.9L834 223.6L837.4 221.4L846 217.2L848.6 216.5L848.2 215L843 213.1L836.6 214.2L832.9 216.9L833.6 219.1L827.6 222.1L820.1 225.5L817.5 230.7L820.1 233.4L823.9 235.2L820.5 239.5L816.4 240.5L814.9 246.9L813 250.2L808.5 249.9L806.2 252.9L801.7 252.9L800.6 249.5L797.6 245.4L794.6 239.7L792.4 237.5L784.9 242L779.6 242.7L774.7 240.9L773.2 236.7L772.1 228.1L775.5 225.9L785.6 222.5L792.7 218.7L799.9 213.5L808.9 206.4L814.9 203.4L825.4 198.9L833.6 197L839.6 197.4L845.2 194.4L852.4 194.4L859.1 193.6L870.7 196.2L865.9 197.4L870 199.6L873.7 198.5L880.1 200.7L890.2 201.5L904.5 206L907.5 207.5L907.5 210.1L903.3 212L897.3 213.1L880.5 210.1L877.9 210.9L883.8 213.5L884.2 215.4L884.2 219.1L889.1 220.2L892.1 221.4L892.5 219.5L890.2 217.6L892.8 216.5L901.8 218.7L904.8 217.6L902.6 215L911.2 211.2L914.6 211.6L918 212.7L920.2 210.1L917.2 207.9L919.1 205.6L916.5 203.4L927 204.5L928.8 206.7L924.3 207.1L924.3 209.4L927 210.5L933 209.7L933.7 207.5L941.6 205.6L954.7 202.2L957.7 202.6L954 204.9L958.5 205.2L961.1 204.1L968.2 203.7L973.8 202.2L978 204.5L982.5 202.2L978.3 200L980.6 198.9L991.5 200L996.7 201.1L1010.2 205.2L1012.8 203.4L1009.1 201.5L1008.7 200.4L1004.2 200L1005.7 198.5L1003.5 195.5L1003.5 194.4L1010.2 191L1012.8 187.6L1015.5 186.9L1025.6 187.6L1026.3 189.9L1022.6 192.9L1025.2 194L1026.3 196.6L1025.6 201.9L1029.7 204.1L1027.8 206.7L1020.7 212L1024.8 212.4L1026.3 211.2L1030.4 210.1L1031.6 208.2L1034.9 206.4L1032.7 204.5L1034.2 201.9L1030.1 201.5L1029.3 199.6L1032.3 195.9L1027.4 192.9L1034.2 190.2L1033.4 187.6L1035.3 187.2L1037.2 189.5L1035.7 193.2L1039.8 193.6L1037.9 191L1044.3 189.5L1052.2 189.5L1058.9 191.4L1055.6 188.4L1055.2 184.6L1061.9 183.5L1070.9 183.9L1078.8 183.5L1075.8 181.2L1080.3 179L1084.4 179L1091.9 177.1L1101.7 176.4L1102.8 175.6L1112.9 175.2L1115.9 176L1124.2 174.1L1131.3 174.1L1132.1 172.2L1135.8 170.7L1144.8 169.2L1151.2 170.4L1145.9 171.5L1154.5 172L1159 173L1169.9 173L1178.2 174.9L1181.2 176.4L1180.4 178.2L1176.3 179.4L1166.5 181.2L1163.5 182.4L1168 183.1L1173.7 183.9L1177 183.2L1178.9 185.7L1180.7 184.6L1186.8 183.9L1198.8 184.6L1199.5 186.5L1215.3 187L1215.7 184.2L1223.5 184.6L1229.5 184.6L1235.5 186.9L1237.4 189.1L1235.2 190.7L1239.7 193.6L1245.7 195.1L1249.4 191.4L1255.4 192.9L1261.8 191.7L1268.9 193.2L1271.5 192.1L1277.9 192.5L1274.9 189.1L1280.2 187.6L1313.9 189.9L1317.3 192.1L1326.9 195.1L1342 194.4L1349.5 194.7L1352.5 196.2L1352.1 199.2L1356.6 200.4L1361.9 199.6L1368.6 199.2L1375.4 200L1382.5 199.6L1389.3 203L1393.8 201.9L1390.8 199.2L1392.6 197.7L1404.3 198.9L1412.1 198.5M875.6 348.1L877.9 353.3L882 356.7L883.5 352.6L884.6 350L883.8 352.2L885 355.2L886.8 357.8L890.6 364.2L892.8 367.2L894 369.5L897.7 372.5L900 375.8L900 380.7L902.6 384.5L906.7 387.5L907.8 390.5L912 395L913.8 399.5L913.8 403.2L915.3 410.7L916.5 413.3L919.1 413.3L922.1 412.9L923.6 411.8L928.5 410.3L931.1 409.6L936 408.1L939.3 405.4L945.3 403.6L949.1 402.1L949.8 399.1L952.5 398L956.6 396.8L960.7 394.6L964.5 393.5L965.6 390.8L969.7 389.7L970.1 384.8L974.2 384.1L976.1 379.2L977.6 376.2L975.3 374.4L973.1 372.1L968.6 371L964.8 367.2L964.5 362.3L963.7 362.7L961.1 365.3L958.5 367.6L955.8 370.2L950.6 369.8L947.6 370.6L946.8 369.8L946.1 368.3L946.8 366.1L946.8 363.8L945.7 362.7L943.5 365L943.8 367.6L941.6 364.6L941.2 360.5L939 359L936.3 356.7L934.8 353.3L933.3 350.7L933.3 348.1L935.6 348.1L936.7 347L939.3 348.1L941.2 347.7L944.2 352.6L946.5 356L950.2 357.1L954 360.1L958.5 361.2L962.2 359.5L965.2 359L967.1 360.8L968.6 364.2L972.7 364.6L978.3 365.3L984 366.5L989.2 366.1L995.2 366.1L1002.3 365.3L1005 368L1006.1 371L1009.1 371.7L1013.2 375.1L1012.8 377.7L1017.7 382.2L1020.3 382.6L1025.6 380.3L1026.3 384.1L1026.3 389.3L1027.4 393.5L1028.9 400.6L1030.4 404.3L1032.3 405.8L1033.1 408.1L1034.2 412.9L1036.1 416.3L1037.2 418.2L1038.7 421.9L1040.6 427.2L1043.9 430.6L1046.9 427.2L1050.3 426.1L1049.2 424.9L1050.7 421.9L1052.9 421.6L1052.9 415.2L1054.1 411.8L1053.3 403.9L1054.4 400.9L1056.3 400.8L1061.6 398.3L1065.3 394.2L1070.9 389L1072.4 387.5L1077.7 384.8L1079.6 383L1079.6 380L1084.1 379.2L1086.7 379.2L1087.1 377.7L1089.7 378.5L1091.9 378.8L1093.1 376.6L1096.1 375.1L1097.6 377.3L1098.3 380.7L1099.8 383L1102.4 386L1104.7 386.7L1106.9 392.3L1107.7 395.7L1106.6 400.6L1108.8 401.3L1111.1 401.7L1115.2 399.1L1117.8 397.2L1119.3 400.2L1120.1 405.1L1121.2 409.6L1122.7 411.4L1122.3 415.6L1123.8 417.8L1123.1 423.4L1121.6 429.1L1121.9 431.3L1122.7 429.1L1124.6 430.9L1126.4 435.1L1128.7 436.2L1129.4 438.1L1129.1 440.7L1130.6 445.9L1133.2 450.1L1138.1 453.2L1141.4 456.1L1144.1 455.7L1144.1 454.6L1142.9 451.2L1141.1 450.1L1141.1 447.8L1141.1 444.8L1139.4 439.9L1137.3 437.7L1136.2 437.3L1134.3 435.4L1132.1 434.7L1130.2 432.8L1129.4 429.4L1127.9 426.1L1125.3 426.1L1125.3 419.5L1126.8 415.9L1128.3 414.4L1128.7 410.3L1131.3 413.3L1134.7 413.3L1138.1 414.8L1139.9 418.6L1141.4 420.8L1144.4 421.2L1147.8 423.1L1146.3 426.1L1147.4 428.3L1152.3 424.9L1155.3 421.6L1159.8 419.3L1162.8 416.7L1163.2 410.3L1161.7 403.2L1159.4 400.2L1156 398L1152.3 393.1L1149.7 389L1150.4 386.3L1153.4 383L1154.5 381.8L1158.7 379.6L1160.2 379.2L1165.4 380.3L1164.3 381.8L1165.4 384.5L1167.3 384.5L1167.3 381.5L1168.8 380.3L1172.5 379.6L1177.8 377.7L1180 376.2L1181.5 377.3L1183.8 375.5L1187.9 375.1L1193.2 372.1L1198.4 368.7L1201.8 364.2L1204.8 359L1207.4 355.2L1209.7 354.8L1210.4 351.8L1208.2 345.5L1210.4 344.7L1210.4 341.7L1207.8 338.7L1205.5 335.3L1200.3 329.7L1202.2 327.1L1204 325.2L1207.4 323L1212.3 322.2L1212.7 320L1206.3 318.5L1199.2 320.3L1196.2 317.7L1193.9 315.5L1195.8 313.6L1199.5 313.2L1201.8 311L1207.4 307.6L1209.3 307.2L1211.5 309.1L1208.5 311.3L1209.3 312.8L1207.4 314.7L1211.5 313.6L1219.4 311L1223.2 312.1L1223.5 312.8L1222.4 315.1L1220.9 317.7L1222 318.5L1226.5 319.2L1229.2 322.2L1226.2 323L1228 326.7L1227.3 329.7L1227.7 331.6L1231 331.2L1234 329.7L1237.4 329L1238.9 322.6L1237.8 320.3L1234.4 315.8L1232.5 313.6L1231 313.6L1231.4 311.3L1233.2 310.6L1237.8 308L1239.7 307.2L1239.7 304.6L1242.3 302L1243.8 302.3L1244.2 300.8L1249.4 298.2L1251.7 300.1L1253.9 300.1L1259.2 297.8L1271.5 287L1273 284.3L1278.7 279.1L1280.2 273.1L1280.5 268.6L1283.5 264.9L1283.2 261.5L1277.9 257.4L1273.8 257L1271.5 258.9L1267.8 258.2L1265.9 255.9L1259.9 255.5L1274.4 246.5L1286.5 239.4L1298.9 238.2L1310.1 238.6L1315 236.7L1320.6 240.1L1320.6 237.5L1326.3 239.7L1334.5 239L1331.5 236.4L1340.9 230.4L1350.6 228.9L1353.6 233.7L1363.4 229.6L1365.6 226.2L1370.1 225.9L1367.1 231.5L1360.4 234.5L1354 238.2L1347.3 242.7L1341.3 243.9L1337.9 247.6L1336 252.9L1337.9 261.1L1339.8 266.7L1341.3 269.3L1346.5 266L1347.6 261.9L1353.3 261.1L1354.8 257L1361.1 254.7L1359.6 253.2L1361.1 250.2L1364.9 249.9L1365.3 244.6L1361.1 243.9L1360.8 242.4L1365.3 238.6L1366.4 236L1371.6 236.7L1376.9 236.4L1375 234.9L1391.9 236L1393.4 234.5L1399 232L1408 228.9M78.5 202L87.5 204.9L97.6 208.6L97.2 210.9L99.9 212L98.7 209L108.9 209.7L116.4 213.2L112.6 215L106.6 215.4L106.2 218.7L104.7 219.5L101.4 219.5L98.4 218.4L93.5 217.2L92.7 215.4L89 215L84.5 215.4L82.6 214.2L83.4 212.7L78.9 213.5L80.7 215.4L78.5 216.9M937.5 286.6L940.8 285.8L945.3 284.3L948.3 285.1L952.1 284.7L952.8 287.3L952.1 290.7L949.1 290.3L945.7 291.1L945.7 293.7L942 293.3L942 294.5L944.2 295.6L945.7 299L950.2 300.1L951 301.6L949.8 303.1L950.2 303.8L951.3 306.5L951.7 307.2L953.6 310.6L951 310.6L952.5 313.2L955.5 314.3L954.7 318.5L955.5 321.1L955.1 322L949.5 323L943.8 322.2L941.2 320.3L937.8 319.6L936.7 317L936.7 315.1L937.8 314.3L938.6 312.8L939.3 309.8L942.3 309.5L941.2 308.7L939.3 308.3L937.5 305.7L935.6 303.8L931.5 299.4L931.8 296.7L928.5 293.3L932.2 289.6L935.6 288.8L937.5 286.6M732 272.7L739.9 272.3L742.5 270.5L746.3 270.8L750.4 270.1L755.6 270.1L758.6 268.6L755.6 267.5L757.1 266.4L759.7 263L755.2 262.2L753.7 260.7L751.9 256.2L749.2 255.9L747.4 252.1L745.9 251L741.8 250.6L745.5 247.2L745.9 244.2L741.8 244.2L738 244.6L741.8 240.9L734.6 240.9L732.4 245.4L730.5 247.6L732.4 253.2L734.6 254L735.4 255.1L739.9 255.9L742.1 258.1L742.1 260.4L736.1 260L737.6 264.5L733.5 265.6L734.7 267.1L740.6 267.8L737.3 268.6L733.9 273.1L732 272.7M730.1 258.5L730.9 261.1L727.9 264.5L721.1 266.7L716 266.4L718.9 262.2L717 258.5L722.3 255.5L724.9 254L728.3 253.6L732 255.9L730.1 258.5M699 211.2L698.3 213.9L702.4 216.5L697.5 219.1L686.6 221.7L683.3 222.5L667.9 220.8L671.6 219.1L663.5 217.2L670.1 216.5L670.1 215.4L662.3 214.6L664.5 212L670.5 211.6L676.1 214.2L681.8 212L686.6 213.1L692.6 211.2L699 211.2M810 161.7L811.5 160.6L817.1 160.2L822 161.7L834 164.5L824.6 165.9L822.7 168.9L819.4 169.6L817.5 172.6L813 172.6L805.1 170.4L808.5 169.2L802.9 168.1L795.4 164.7L792.4 161.7L802.9 160.6L804.7 161.7L810 161.7M822 161.7L830.2 158.4L835.5 159.1L839.2 158L848.6 159.1L856.1 160.2L850.5 162.5L839.6 162.9L828.7 162.1L822 161.7M846 168.5L837.7 170.4L831 169.2L833.6 168.5L831.4 167L839.2 166.2L840.7 167.7L846 168.5M946.5 190.6L950.2 192.5L954 193.6L961.8 195.9L969 195.5L966.7 194.4L961.1 192.1L963.3 189.5L961.8 185.7L954 184.2L957.3 184.6L954.7 187.6L950.2 189.9L946.5 190.6M954 184.2L963 180.9L961.8 179L970.5 177.1L982.8 174.5L995.2 174.1L1001.6 172.6L1009.1 172.2L1011.7 173.7L1009.1 174.9L995.6 176.7L984.3 178.2L972.7 182L967.1 185.7L961.1 189.1L954 184.2M1112.9 155.7L1120.4 158L1129.1 161.4L1127.9 164.7L1120.1 165.1L1109.6 164.4L1103.2 162.9L1100.2 160.2L1095.3 159.5L1105.1 156.9L1112.9 155.7M1126.1 168.5L1133.2 163.6L1138.8 163.2L1148.6 165.5L1147.4 167L1126.1 168.5L1126.1 168.5M1273.8 175.2L1283.9 175.2L1297.4 177.1L1294.4 180.1L1280.5 180.1L1274.4 180.9L1266.9 178.2L1268.9 176L1273.8 175.2M1301.1 178.6L1302.3 177.5L1309 178.2L1318.4 179L1314.3 180.5L1308.2 180.1L1301.1 178.6M1277.9 185.4L1281.3 183.9L1286.1 183.5L1291.4 185L1291.8 186.1L1286.1 186.1L1278.3 185.7L1277.9 185.4M78.5 192.5L78.9 192.1L87.5 193.2L87.1 194L83.4 194.7L78.5 195.1L78.5 192.5M1289.1 256.6L1290.6 263L1290.3 266.4L1291.8 270.5L1295.9 276.9L1290.3 275.7L1288 281L1291.4 285.1L1291.4 287.7L1288.4 285.5L1286.1 288.2L1285.4 285.1L1285.8 281.3L1285.4 277.2L1286.1 274.6L1286.5 269.5L1284.3 266L1284.6 260.7L1288 258.9L1286.5 257.4L1289.1 256.6M1285.4 289.6L1289.9 293.7L1295.5 295.7L1298.1 294.1L1298.9 298.2L1293.6 299.4L1290.3 303.1L1284.3 300.5L1282.4 304.6L1278.1 304.6L1277.5 300.8L1279.4 298.2L1283.5 297.8L1284.6 292.6L1285.7 289.6L1285.4 289.6M1281.9 305L1283.5 305.3L1285.4 310.6L1285.4 313.6L1281.9 317.3L1281.9 321.5L1280.5 324.5L1281.3 326.3L1279.4 329L1274.5 330.5L1267.8 330.8L1262.5 335L1259.9 333.8L1259.9 330.8L1253.2 331.6L1249 333.5L1244.5 333.5L1247.9 336.5L1245.7 342.5L1243.4 344.3L1241.5 342.8L1242.3 339.5L1240 338.3L1238.5 335.7L1242.3 334.6L1244.2 332.3L1247.9 330.5L1250.5 327.8L1258 326.7L1262.2 327.5L1265.9 320.7L1268.5 322.6L1274.2 318.8L1276 317.3L1278.7 312.8L1277.9 308.3L1279.4 306.1L1281.9 305M1258 332.7L1258.8 333.8L1256.5 336.1L1255 335L1253.2 335.7L1252 338L1249.8 336.9L1249.8 335L1251.7 332.7L1253.9 333.5L1255.4 331.6L1258 332.7M1210 369.1L1207.8 375.1L1205.9 378.1L1204 375.1L1203.7 372.1L1205.9 368.7L1208.9 365.7L1210.6 366.8L1210 369.1M1166.9 390.5L1163.9 392.3L1160.9 391.2L1160.5 387.8L1162.4 386.3L1166.5 385.2L1168.8 385.2L1169.5 386.7L1168 388.2L1166.9 390.5M1060.1 432.4L1059.3 436.2L1057.8 437.3L1054.4 438.2L1052.9 435.1L1052.2 429.8L1053.7 423.8L1056.3 425.7L1058.2 428.3L1060.1 432.4M1208.2 391.2L1210.4 392.3L1211.5 391.2L1211.9 392.3L1211.5 393.8L1212.7 396.5L1211.9 399.5L1209.7 400.9L1208.9 403.9L1209.7 406.9L1211.9 407.3L1213.4 406.9L1218.1 408.8L1217.9 411.1L1219 411.9L1218.7 413.7L1215.7 411.8L1214.2 409.6L1213.4 411.1L1210.8 408.8L1207.4 409.6L1205.5 408.4L1205.9 406.9L1207 406.2L1205.9 405.1L1205.5 406.6L1203.7 404.4L1202.9 402.8L1202.9 399.1L1204.4 400.6L1204.8 394.6L1205.9 391.2L1208.2 391.2M1208.9 411.4L1208.2 414.8L1206.3 412.9L1204.4 409.9L1207.8 410.3L1208.9 411.4M1223.9 414.8L1225 419.3L1222 418.2L1222 419.4L1223.2 421.6L1221.3 422.7L1221.3 420.1L1220.2 419.7L1219.4 417.4L1221.7 417.8L1221.7 416.3L1219.4 413.3L1222.8 413.7L1223.9 414.8M1213 423.1L1213.8 421.9L1214.4 419.7L1216.4 419.7L1215.7 421.9L1218.7 418.6L1218.2 421.9L1216.8 423.3L1215.7 425.7L1214.5 426.8L1212.3 424.2L1213 423.1M1210.8 421.6L1210.7 419.7L1210.8 417.8L1210.4 415.9L1212.7 417.1L1214.9 417.1L1214.9 418.6L1213 420.4L1210.8 421.6M1201.4 417.8L1202.2 420.8L1199.5 423.1L1197.7 425.7L1192.8 429.1L1194.7 426.4L1197.3 424.2L1199.5 421.6L1201.4 417.8M1227.3 429.1L1227.7 431.5L1227.7 433.6L1226.5 436.9L1225 433.2L1223.5 435.1L1224.7 438.1L1223.5 439.6L1219 437.3L1217.9 434.7L1219 432.8L1216.8 431.3L1215.7 432.8L1213.8 432.4L1211.2 434.7L1210.4 433.6L1211.9 430.6L1214.2 429.4L1216.4 427.9L1217.5 429.8L1220.5 428.7L1221.3 427L1223.9 426.9L1223.5 423.8L1226.5 425.7L1227.3 429.1M1195.4 445.2L1193.2 448.6L1195.8 451.9L1195.4 453.8L1199.5 457.2L1195 457.6L1193.9 460.2L1193.9 463.6L1190.5 466.2L1190.2 469.9L1188.7 475.6L1188.3 474.4L1184.2 475.9L1182.7 473.7L1180 473.3L1178.2 472.2L1173.7 473.7L1172.2 471.8L1169.5 471.8L1166.5 471.4L1166.2 466.6L1164.3 465.4L1162.4 462.4L1161.9 459.1L1162.4 455.7L1164.7 453.1L1167.3 454.2L1170.3 453.6L1171 450.4L1172.5 449.7L1177 448.9L1179.7 445.9L1181.5 443.7L1183.4 445.6L1184.2 444.4L1185.7 444.4L1186 440.3L1189 437.7L1190.9 434.7L1192.4 434.7L1194.3 436.6L1194.7 438.1L1200.3 440.3L1199.9 441.8L1197.3 441.9L1198 443.7L1195.4 445.2M1150 482.5L1145.9 482.7L1142.9 479.3L1138.1 476.3L1136.6 474.1L1133.6 471.1L1131.7 468.4L1128.7 463L1125.7 459.8L1124.4 456.8L1123.1 453.8L1119.7 451.2L1117.8 448.2L1114.8 445.9L1111.1 441.9L1110.7 439.9L1112.9 440.3L1118.9 441.1L1122.3 444.4L1124.9 447.1L1127.2 448.6L1130.6 452.7L1134.7 452.7L1137.7 455.3L1139.9 458.3L1142.6 460.2L1141.1 463.2L1143.3 464.7L1144.8 464.7L1145.2 467.3L1146.7 469.2L1149.3 469.6L1151.2 472.2L1150.4 476.7L1150 482.5M1160.5 486.1L1167.7 486.4L1168.8 484.9L1175.5 486.4L1177 489.1L1182.7 489.8L1187.2 492.1L1183 493.4L1178.9 491.7L1175.5 492.1L1171.4 491.7L1168 490.9L1163.5 489.4L1160.9 489.1L1159.4 489.8L1152.7 488.3L1151.9 486.4L1148.6 486.2L1151.2 482.7L1155.7 482.9L1158.7 484.2L1160.2 484.6L1160.5 486.1M1222.8 455.3L1219.8 459.1L1217.2 459.8L1213.4 459.1L1207.4 459.1L1204 459.8L1203.7 462.4L1206.7 465.8L1208.9 464.2L1215.7 462.8L1215.7 464.7L1213.8 463.9L1212.3 466.2L1208.9 467.7L1212.7 472.6L1211.9 473.7L1215.3 478.2L1215.3 480.4L1213 481.6L1211.5 480.4L1213.4 477.4L1209.7 478.7L1208.9 477.8L1209.3 476.3L1206.7 474.1L1206.9 470.3L1204.4 471.4L1204.8 481.2L1202.5 481.9L1201 480.8L1202.2 477.4L1201.4 473.7L1199.9 473.7L1198.8 471.1L1200.3 468.4L1200.7 465.8L1202.5 460L1203.3 458.3L1206.7 455.7L1209.7 456.8L1214.2 457.2L1218.7 457.2L1222.4 454.6L1222.8 455.3M1195.4 490.9L1196.9 492.1L1199.2 491.7L1199.9 493.2L1195.7 493.9L1193.2 494.3L1190.9 494.3L1192.4 492.4L1194.3 492.1L1195.4 490.9M1214.2 490.9L1213.8 493L1208.2 493.9L1202.9 493.6L1202.9 492.1L1205.9 491.3L1208.2 492.4L1210.8 492.4L1214.2 490.9M1204.4 499.2L1199.4 496.6L1202.9 495.8L1204.8 496.9L1206.3 497.9L1205.9 498.8L1204.4 499.2M1221.9 493.9L1222.4 495.8L1222.4 495.8L1219.8 498.4L1216.8 499.6L1216.4 498.8L1216.6 497.7L1218.2 495.4L1221.9 493.9L1225.4 492.1L1228 492.1L1229.4 491.7L1230.7 492.1L1229.4 493.2L1225.4 494.7L1221.9 493.9M1235.9 456.4L1233.3 454.6L1233.2 452.3L1231.8 453.8L1232.9 461.5L1233.7 463.9L1234.8 463.6L1233.3 459.1L1235.5 459.4L1233.7 458.3L1235.9 456.4L1235.9 456.4M1242.7 472.2L1238.5 471.1L1233.7 471.1L1232.9 473.3L1237 473.3L1240.7 473.5L1243.8 475.2L1243.8 473.3L1242.7 472.2M1230.3 473.7L1229.2 474.8L1226.5 474.1L1225.7 472.6L1229.5 472.2L1230.3 473.7M1256.2 464.9L1257.3 471.1L1261.4 473.3L1264.4 469.2L1268.5 466.9L1271.9 466.9L1275.3 468.2L1277.9 469.6L1282 470.3L1288.4 472.9L1295.5 475.2L1298.1 477.1L1300 478.9L1300.7 481.2L1306.8 483.4L1307.9 485.3L1304.4 485.7L1305.3 488.3L1308.6 490.6L1310.9 494.7L1313.1 494.7L1313.1 496.2L1315.8 496.9L1314.6 497.7L1318.8 499.2L1318.4 500.3L1315.8 500.5L1315 499.6L1311.6 499.2L1307.9 498.4L1304.9 496.2L1303 493.9L1300.8 490.9L1295.9 489.1L1292.9 490.2L1290.6 491.3L1291 494.2L1288 495.4L1282 494.7L1278.7 491.7L1274.9 490.9L1274.2 492.1L1269.3 492.1L1270.8 489.1L1273.4 487.9L1272.3 483.8L1270.4 480.8L1263.2 477.4L1260.3 477.4L1254.7 473.7L1253.5 475.6L1252 475.9L1251.3 474.4L1251.1 472.9L1248.2 471.1L1252.4 469.9L1255 469.9L1254.7 468.8L1249 468.8L1247.5 466.6L1244.2 465.8L1242.7 463.9L1247.9 463.2L1249.8 462.1L1255.7 463.6L1256.2 464.9M1323.6 476.1L1324.4 478.9L1323.2 481.2L1321.4 481.6L1320.6 482.3L1318.6 483.4L1316.5 484.2L1314.6 484.2L1311.6 483.1L1309.4 481.9L1309.8 480.8L1313.1 481.6L1315 481.2L1315.8 479.3L1316.1 479.3L1316.5 481.2L1318.8 481.2L1319.9 479.7L1321.8 478.6L1321.4 476.3L1323.6 476.1M1318.4 470.7L1319.1 469.9L1321.4 471.1L1324 472.6L1325.5 474.4L1327 475.6L1327.4 477.4L1326.3 478.6L1325.5 476.3L1324.8 474.8L1323.1 473.7L1321 471.8L1318.4 470.7M1333.8 480.4L1334.9 481.6L1336.4 483.8L1338.3 484.9L1337.9 486.1L1336.8 486.4L1335.3 484.9L1333.4 482.7L1332.6 479.7L1333.8 480.4M1340.1 486.1L1342.4 486.8L1343.9 487.9L1343.1 488.3L1341.6 487.6L1340.1 486.1L1340.1 486.1M1351.8 490.6L1352.9 491.7L1352.9 492.4L1349.9 490.9L1348 489.6L1346.5 488.3L1347.3 487.9L1348.8 489.1L1351.8 490.6M1351.8 495.1L1354.8 495.8L1355.9 496.6L1356.4 497.7L1355.1 497.7L1352.7 497.3L1351.8 496.6L1352.1 495.1L1351.8 495.1M1356.6 491.7L1358.1 494.7L1359.6 496.6L1358.9 497.3L1356.3 493.9L1355.5 491.7L1356.6 491.7M1359.6 498.8L1361.1 499.9L1362.3 501.1L1359.6 501.1L1358.1 498.8L1359.6 498.8M1368.3 535.9L1370.1 535.9L1373.9 538.5L1375 539.7L1378 541.9L1379.9 543.8L1378.4 544.5L1376.5 543.4L1373.9 541.9L1371.3 539.7L1369 537L1368.3 535.9M1378.8 519.4L1379.5 516.4L1380.3 520.2L1378 518.3L1378.8 519.4M1379.9 516.4L1380.6 519.4L1382.5 522.4L1381.4 522.8L1380.3 521.3L1380.3 520.2L1379.9 516.4M1287.6 500.7L1291.8 512.3L1292.9 514.9L1295.5 513.8L1298.5 516.7L1298.1 518.3L1298.9 521.7L1301.5 527.3L1301.1 529.2L1302.3 531.7L1306.4 533.7L1309 535.4L1311.3 537L1310.9 537.8L1313.1 540.4L1314.6 544.2L1316.1 543.4L1317.6 545.3L1318.4 544.5L1319.1 548.7L1323.6 552.4L1326.6 555.4L1327.4 558.4L1327.8 560.3L1327.4 562.9L1329.3 565.9L1328.9 569.3L1327.4 574.5L1327.4 576.4L1326.6 579L1325.1 582.8L1322.1 584.3L1320.6 587.3L1318.4 592.5L1316.9 594.4L1316.1 597L1315.4 599.7L1315.8 600.8L1313.5 602.3L1309.4 602.3L1306 603.8L1304.1 605.3L1301.9 606.8L1298.9 605.3L1296.6 604.5L1297 602.7L1295.1 603.4L1291.8 606L1288.4 604.9L1286.5 604.5L1284.3 604.2L1280.5 603L1278.2 600.8L1277.5 597.8L1276.8 595.5L1274.9 594.4L1271.2 594L1272.3 592.2L1271.5 589.5L1269.7 592.2L1266.3 592.9L1268.5 590.7L1268.9 588.4L1270.4 586.5L1270 583.9L1267 587.1L1264.8 588.4L1263.2 591.4L1260.3 589.9L1260.3 587.9L1258 585L1256.2 583.5L1256.9 582.8L1252 580.5L1249.4 580.5L1245.7 578.7L1238.9 579L1234 581.3L1229.9 581.7L1226.2 581.3L1222.4 583.2L1219 584.1L1218.3 586.2L1217.2 587.7L1213.8 587.7L1211.5 588L1208.2 587.3L1202.9 588L1200.7 589.9L1199.5 589.9L1197.7 590.7L1195.8 592.2L1193.2 591.8L1190.5 591.8L1186.8 589.5L1184.5 588.8L1184.5 586.5L1186.4 586.2L1187.2 585.4L1187.2 583.9L1187.5 581.3L1187.2 579L1185.3 575.3L1184.5 573L1184.5 571.2L1183 568.5L1183 567.4L1181.5 565.9L1180.8 562.9L1178.9 559.9L1178.2 558.4L1180 559.9L1178.5 556.5L1180.4 557.7L1181.5 559.2L1181.5 557.3L1179.7 554.3L1179.3 553.2L1178.5 552L1178.9 549.8L1179.7 549L1180 544.9L1179.7 544.9L1181.2 542.3L1181.5 544.9L1183 542.3L1186.4 541.2L1187.9 539.7L1190.9 538.2L1192.8 537.8L1193.5 538.2L1196.5 537L1198.8 536.7L1199.5 535.5L1200.7 535.4L1202.5 535.5L1206.7 534.4L1208.5 532.6L1209.7 530.7L1211.5 528.8L1211.9 525.4L1214.5 522.1L1216 525.4L1217.9 524.7L1216.4 522.8L1217.5 520.9L1219.4 521.7L1219.8 519.1L1221.7 517.2L1222.8 515.7L1224.7 514.9L1224.7 513.8L1226.2 514.2L1226.2 513.4L1229.9 512.3L1232.5 514.2L1234.8 516.4L1237 516.4L1239.3 516.7L1238.5 514.6L1240.4 511.6L1241.9 510.8L1241.5 509.7L1243 507.4L1245.3 506.3L1247.2 506.7L1250.5 505.9L1250.5 504.1L1247.5 502.9L1249.8 502.2L1252 503.3L1254.3 504.8L1257.3 505.6L1258.4 505.2L1260.7 506.3L1262.9 505.4L1264.4 505.6L1265.2 505.2L1266.8 507.1L1265.9 508.9L1264.4 510.4L1263.1 510.4L1263.7 511.9L1262.5 513.8L1261 515.7L1261.4 516.8L1264.4 519.1L1267.4 520.2L1269.3 521.3L1271.9 523.6L1273 523.6L1274.9 524.7L1275.7 525.8L1279 526.9L1281.7 525.8L1282.4 523.6L1283.2 522.1L1283.5 519.8L1284.6 516.8L1284.3 515.3L1284.3 514.2L1283.9 511.9L1284.6 508.9L1285 508.2L1284.6 507.1L1285.4 505.2L1286.1 502.9L1286.1 501.8L1287.6 500.7M1298.5 613.5L1302.3 614.7L1304.1 614.3L1307.1 613.5L1309.4 613.9L1309.8 618.4L1308.3 619.5L1307.9 622.5L1306.8 621.4L1304.1 624L1303.4 624L1300.8 623.7L1298.5 620.7L1298.1 618L1295.9 615L1295.9 613.2L1298.5 613.5M1402 613.9L1402.8 615.4L1405.6 613.9L1406.5 615.4L1406.5 617.3L1405.4 618.8L1402.8 621.7L1400.9 623.3L1402.4 625.2L1399.4 625.2L1396.4 626.3L1395.3 628.9L1393 632.7L1390 634.5L1388.1 635.3L1384.8 635.3L1382.5 634.2L1378.4 633.8L1377.6 632.7L1379.5 629.7L1384.4 625.9L1386.6 625.2L1389.6 624L1392.6 621.8L1394.9 619.9L1396.8 617.3L1397.9 616.2L1398.6 614.1L1401.3 612.4L1402 613.9M1408 596.3L1410.6 600L1411 597.4L1412.5 598.5L1413.1 601.5L1416.3 602.7M1415.1 612.8L1413.3 615.4L1410.3 616.9L1409.9 615.8L1408.4 615.4L1410.3 612.4L1409.1 610.2L1405 608.7L1405.4 607.2L1408 606L1408.4 603L1408.4 600.8L1406.9 598.2L1406.9 597.4L1405 595.9L1402.4 592.5L1400.5 589.9L1402 589.9L1404.3 591.8L1406.9 592.9L1408 596.3M811.5 317.3L810.4 320.3L810.7 321.5L810 323.3L807 321.8L805.1 321.5L799.9 319.6L800.6 317.7L804.7 318.1L811.5 317.3L811.5 317.3M787.9 306.1L790.1 308.7L789.7 313.6L787.9 313.6L786.4 314.7L784.9 313.6L784.9 309.1L784.1 306.8L786 307.2L787.9 306.1M789.4 302.3L787.9 305.3L786.4 304.6L785.2 302L786 300.8L788.6 299.3L789.4 302.3M842.2 326.7L844.1 327.8L847.1 327.8L850.1 327.8L849.7 328.6L852 328.2L851.6 329.3L846 329.7L846 329L841.5 328.2L842.2 326.7M876 329L876.7 327.8L879.7 327.8L883.1 326.7L880.5 328.6L880.9 329.4L877 330.8L875.2 330.5L874.5 329L876 329M1011.7 642.8L1014.3 643.9L1017.7 644.7L1018.1 645.4L1016.9 646.9L1011 647.3L1011 645L1011.7 642.8M170.4 389L169.6 389.7L168.9 389L168.9 388.2L168.1 386.7L169 385.7L168.9 384.8L171.5 385.6L173 387.5L170.4 389M168.1 383.3L167 383.3L165.9 382.2L166.2 381.8L167.4 382.2L168.5 382.6L168.1 383.3M162.1 380.7L160.6 380.7L159.9 379.6L161 379.2L162.3 380.7L162.1 380.7M156.1 378.2L155.4 378.5L154.2 377.7L155 377.3L155.7 377.3L156.1 378.2M523.9 655L528.4 652.7L531.6 653.7L533.9 652.2L536.9 653.8L535.7 655.2L530.7 656.3L529 655L525.8 656.7L523.9 655M123.1 214.2L128.4 212.7L136.6 210.9L139.6 210.9L139.2 212.7L147.1 212.7L144.1 210.5L139.6 209L137 207.1L133.2 205.6L128 204.1L130.2 202.2L137 202.2L141.5 200.4L142.6 198.5L146.4 197L150.1 196.6L157.2 194.7L160.6 195.1L166.2 192.9L171.9 194L174.9 195.5L176.4 194.7L182.7 195.1L182.4 195.9L188.4 196.6L192.1 196.2L200 197.4L207.1 197.7L210.1 198.2L215 197.4L220.6 198.5L224.8 199.2L231.8 200L237.8 201.9L241.6 202.2L245 200.7L249.5 199.6L255.1 200L260.7 198.5L266.7 197.4L269.3 198.9L272 198.1L273.1 196.2L275.7 196.6L281.7 200L287 197.4L287.3 200.4L291.8 199.6L293.3 198.5L297.8 198.9L303.8 200.4L312.5 201.9L317.7 202.6L321.5 202.2L326.3 204.1L321.1 206L327.8 206.7L338 206.4L341.3 205.7L345.1 207.9L349.2 206L345.5 204.5L347.7 203.2L352.4 203L355.2 202.6L358.6 203.4L362.3 205.6L366.4 205.2L372.8 207.1L378.8 206.4L384.4 206.4L383.7 204.1L387.1 203.4L393.1 204.9L393.1 208.2L395.3 205.2L398.3 205.2L400.2 201.5L396.1 199.2L391.6 197.7L391.9 193.6L396.4 191L401.3 191.4L405.1 193.2L410.3 197.4L406.9 199.2L414.1 200L413.7 203.7L418.9 200.7L423.4 203.4L422.3 206L425.7 208.6L429.8 206L432.4 202.6L432.8 198.5L438.1 198.9L443.7 199.2L448.6 201.1L448.9 203L446.1 205.2L448.6 207.1L448.2 209L441.1 211.6L435.8 212L431.7 210.9L430.6 212.7L427.2 216.1L426.1 217.6L421.6 220.2L416.3 220.6L413.3 222.1L412.9 224.5L408.8 225.1L403.9 228.1L400.2 232.2L398.7 235.2L398.3 239.7L403.9 240.1L405.4 243.9L407.3 246.5L412.6 245.7L419.7 247.2L423.4 248.7L426.1 250.6L430.6 251.7L434.7 253.2L440.7 253.6L444.8 254L444.4 257L445.6 260.7L448.2 264.9L453.8 268.6L456.8 267.5L458.7 263.4L456.8 257.7L454.2 255.5L460.2 254L464.3 251.4L466.6 248.7L466.2 246.1L463.6 242.7L459.1 240.1L463.6 236L461.7 232.6L460.6 227L463.2 225.9L469.6 227L473.3 227.4L476.7 226.6L480.1 227.7L484.5 230L485.7 231.5L492.4 231.5L492.4 234.9L493.5 239.5L496.9 240.1L499.9 242.4L505.2 240.1L508.9 236L511.2 234.5L514.2 237.9L519 242.4L523.2 247L521.7 249.5L526.5 251.4L536 254.7L538.5 255.9L540 258.9L542.7 259.6L544.2 260.7L544.5 265.2L541.9 266.4L539.3 267.8L532.9 269L528.4 272.3L522 272.7L513.8 272L508.2 272L504.4 272.3L501.4 275L496.5 276.5L491.1 281.7L486.8 285.1L489.8 284.4L496 279.5L503.7 276.5L509.3 276.1L512.7 278L509.3 280.2L510.4 284.4L511.5 287.3L516.4 289.2L522.8 288.5L526.5 284.3L526.9 287L529.2 288.5L524.7 290.7L516 293L512.7 294.5L508.2 297.5L505.5 297.1L505.2 293.7L511.9 290.7L505.9 290.7L501.8 291.5L502.3 292.6L498.4 294.5L494.3 295.7L490.5 296.7L488.7 299L487.9 299.7L487.9 302L489 303.8L490.5 303.8L490.2 302.7L491.3 303.5L491 304.6L488.7 305L486.8 305L483.8 305.7L480.1 306.1L477.1 307.2L482.7 306.5L483.8 307.2L478.6 308.3L476 308.3L474.8 308.7L476.1 309.1L475.2 311.7L472.6 314.7L471.4 313.6L470.3 312.5L471.1 314.5L471.8 315.1L471.8 316.6L470.7 318.1L468.8 321.1L469.6 318.5L467.7 317L466.9 313.6L466.6 315.5L467.3 317.7L464.7 317.3L467.3 318.5L467.3 322L468.5 322.2L468.8 323.3L469.6 327.1L466.9 330.1L463.2 331.2L460.6 333.5L458.7 333.5L456.8 335L456.4 336.1L452.3 338.7L450.1 340.6L448.6 342.8L447.8 345.5L448.6 348.1L449.8 351.1L451.6 353.7L451.6 355.6L453.1 359.7L453.1 362.3L453.1 363.8L451.9 366.1L450.8 366.5L448.9 366.1L448.6 364.6L447.1 363.5L445.2 360.5L443.3 357.5L442.6 356L443.5 353.5L442.6 351.5L439.6 348.5L438.1 347.7L434.3 349.6L433.6 349.2L431.7 347.5L429.4 346.6L425.3 347L421.9 346.6L418.9 347L417.4 347.3L418.2 348.5L418.2 350L418.9 350.7L418.2 351.1L416.7 350.7L415.2 351.5L412.6 351.5L409.9 349.2L406.6 349.6L403.9 348.8L401.7 349.2L398.3 350L394.9 353L391.2 354.5L389.3 356.3L388.2 357.8L388.2 360.5L388.6 362.3L389.3 363.5L387.8 366.8L387.1 369.5L386.7 374.7L386.3 376.6L387.1 378.5L388.2 380.3L388.9 383.3L391.6 386L392.3 388.2L393.8 390.1L397.9 390.8L399.4 392.7L402.8 391.6L405.4 391.2L408.4 390.5L410.7 389.7L412.9 388.2L414.1 386L414.2 383L414.8 381.8L417.4 380.7L421.6 380L424.6 380L426.8 380L427.9 380.7L427.7 382.6L425.7 384.5L424.9 387.1L425.7 387.5L424.9 389.3L424.2 392L423.1 391.2L422.3 391.6L423.1 392.7L422.3 394.6L422.7 396.8L421.9 398.7L420.1 400.9L422.7 401.7L423.8 400.9L425.7 401.3L429.4 401.3L430.9 400.6L433.2 400.9L434.8 400.6L436.9 401.3L439.2 402.8L440.7 403.2L441.8 404.3L441.1 405.4L441.4 406.9L440.3 409.6L440.3 412.2L440.3 414.1L439.6 415.9L439.7 417.1L438.8 417.8L439.6 419.7L440.7 421.6L442.2 423.1L444.1 424.6L445.2 426.1L445.2 426.8L447.1 426.8L448.2 427.6L450.1 427.2L451.6 426.4L453.8 425.7L454.9 424.6L457.2 424.8L459.1 425.3L460.6 425.9L462.1 427.2L463.4 427.9L465.4 428.3L468.1 425.7L469.6 425.3L469.6 423.8L470.3 420.8L472.6 418.9L474.8 418.9L475.2 418.2L478.2 418.6L481.2 416.7L482.7 415.7L484.4 414.1L485.7 414.1L486.8 415.2L486 416.3L485.7 417.4L483.8 417.8L484.9 419.4L484.9 421.6L483 423.4L484.5 426.4L486 426.4L487.2 423.4L485.9 422.3L485.7 419.4L490.2 417.8L489.8 416.1L491.3 414.8L492.4 417.4L495 417.8L497.7 419.7L497.7 421L501 421.2L505.2 420.6L507 422.3L510 422.7L512.3 421.6L512.3 420.8L516.8 420.4L521.3 420.4L518.3 421.6L519.4 423.4L522.4 423.4L525.4 425.3L525.8 428.3L527.9 428.3L529.2 429.1L531.8 430.6L534 433.2L534.2 435.1L535.5 435.1L539.3 438.2L543.8 438.8L547.2 438.1L551.1 438.8L555 440.3L559.2 443.3L559.5 444.8L561 444.8L561.8 446.9L564 453.4L566 454.2L566.3 456.6L563.3 459.8L564.4 460.9L571.2 461.3L571.2 465.1L574.2 462.8L578.7 463.9L585 466.4L586.9 468.4L586.2 470.7L590.7 469.6L597.8 471.4L603.5 471.4L609 474.4L613.9 478.6L616.7 479.7L619.9 479.9L621.4 481.2L622.5 485.7L623.3 487.9L621.8 494.3L619.9 496.7L614.5 501.8L612 506.3L609.4 509.3L608.3 509.7L607.3 512.3L607.5 519.4L606.4 525.1L606 527.7L604.9 529.2L604.2 534.1L600.4 538.9L600 542.7L596.8 544.5L595.9 546.7L591.8 546.7L586 548.1L583.3 549.8L579 550.9L574.7 553.9L571.5 557.7L571.2 560.3L571.5 562.5L570.8 566.3L570 568.2L567.4 570L563.3 576.7L559.9 579.8L557.3 581.3L555.8 585L553.2 587.3L551.7 589.5L547.5 591.6L544.5 590.9L542.7 591.4L539.3 589.5L536.7 589.9L534.4 587.7L534 589.5L538.9 592.9L538.2 595.5L540.8 597L540.4 598.9L536.9 603.8L531.4 605.7L523.9 606.4L519.8 606L520.5 608.3L519.8 611.3L520.4 613.2L518.1 614.3L514.2 615L510.8 613.5L509.3 614.7L509.7 618.4L512.3 619.5L514.2 618L515.3 620.3L511.9 621.4L508.9 623.7L508.5 627.4L507.4 629.3L504 629.3L501 631.5L499.9 634.2L503.7 636.8L507.4 637.5L506 640.9L501.4 643.2L499.2 647.7L495.8 649.2L494.3 650.7L495.4 654.8L497.9 656.8L496.2 656.7L492.8 655.9L487.7 658.9L487.2 662.3L485.7 662.7L481.2 661.2L477.1 658.5L472.4 656.7L471.1 654L472.3 651.8L470.3 649.5L469.9 643.2L471.4 639.4L475.6 636.4L469.9 635.3L473.3 632.3L474.6 625.9L478.9 627.2L480.8 619.5L478.2 618.4L477.1 623.3L474.8 622.5L475.9 617.3L477.1 610.2L478.9 607.9L477.8 604.2L477.4 600L478.9 599.7L481.4 593.7L483.8 587.7L485.7 582L484.5 576.4L485.7 573.4L485.3 568.9L487.5 564L488.3 556.9L489.4 549L490.5 540.8L490.2 534.8L489.4 529.2L485.7 527.3L485.3 525.8L478.2 522.1L471.4 517.9L468.4 515.3L466.9 512.3L467.3 511.2L464.3 506.3L460.6 499.6L457.2 492.1L455.7 490.2L454.2 487.6L451.6 484.9L448.7 483.4L450.1 481.9L448.2 478.2L449.3 475.6L452.3 473.3L454.2 470.7L453.5 468.8L451.9 470.7L449.8 468.8L450.4 467.9L450.1 464.7L451.2 463.9L451.9 461.7L453.4 459.1L453.1 457.6L455.3 456.8L457.6 455.3L457.2 454.2L458.7 453.8L458.3 451.9L459.4 450.8L461.3 450.4L462.8 448.2L464.3 446.3L462.8 445.2L463.6 442.9L462.8 439.6L463.6 438.8L462.8 435.4L461.3 433.6L461.9 431.7L463.2 432.1L462.8 428.7L460.2 429.4L459.4 429.1L458.7 427.9L456.8 426.8L454.9 427.2L454.2 428.3L452.7 429.4L451.6 430.2L453.4 432.4L451.9 433.2L450.1 433.6L449.3 431.3L447.8 431.7L447.1 430.2L444.4 429.4L442.9 429.4L442.6 430.2L440.3 429.1L439.6 427.9L439.9 426.4L438.8 425.7L436.2 424.6L435.8 423.4L434.8 422.7L435.1 423.8L434.3 424.6L432.1 423.4L431.7 421.6L432.1 420.3L431.3 419.7L432.1 418.9L429.1 416.3L426.4 413.7L424.6 412.2L425.7 412.2L425.3 410.7L423.8 411.3L420.4 410.7L416.7 409.9L413.7 408.4L411.4 408.4L407.7 406.2L403.2 402.1L401.3 400.9L398.3 399.8L396.3 400.2L393.1 401.5L391.2 401.9L388.6 400.9L385.9 400.2L382.6 398.3L379.6 398L375.4 396.1L372.1 394.4L371.3 393.5L369.1 393.2L365.3 392L363.8 390.3L359.7 388.2L357.8 385.8L357.1 384.1L358.2 383.7L357.8 382.6L358.6 381.5L358.6 380.3L357.4 378.5L357.1 377L355.9 375.1L352.6 371.3L348.8 368.7L346.9 366.1L343.6 364.6L343.2 363.8L343.6 361.6L341.7 360.5L339.5 358.6L338.7 356L336.5 356L334.2 353.7L332.7 352L332.3 350.7L330.5 348.1L329 345.1L329.1 343.6L326.3 342.1L325.2 342.5L323 341.3L322.6 342.8L323 344.7L323.3 347.3L324.8 349L327.5 351.5L328.2 352.6L329.3 354.1L330.5 356.3L331.6 357.5L332.7 358.6L335 360.5L336.1 364.2L337.2 365.7L338.3 367.6L338.3 369.5L340.2 369.5L341.7 371.3L343.2 372.8L343.2 373.6L341.5 375.1L341 375.1L339.8 372.8L337.4 370.6L334.6 368.7L332.7 368L333.1 365L332.3 363.1L330.5 362L327.8 360.1L327.5 360.8L326.7 359.7L324.1 359L321.8 356.7L322.3 356.3L323.7 356.7L325.2 355.2L325.2 353.3L322.6 350.7L320.3 349.6L318.8 347.3L317.3 345.1L315.8 342.1L314.3 338.7L313.6 336.8L311.3 334.6L309.5 334.2L309.1 333.1L306.8 332.7L305.7 332L302 331.4L301.2 330.8L300.8 328.6L297.1 324.8L294.1 319.8L294.1 318.8L292.4 317.7L289.6 314.5L288.8 311.3L287 309.5L287.7 306.5L287.7 303.1L286.6 300.1L288.1 296.7L288.8 290L288.1 284.7L287 281.7L285.8 279.8L286.2 279.1L291.8 280.6L293.7 284L294.8 282.8L294.1 279.8L293 276.8L292.3 276.8L285.1 273.2L282.5 271.6L275.7 270.1L273.5 266.7L274 264.5L269.3 262.6L268.6 259.6L264.1 257L264.1 255.1L261.8 253.6L258.6 252.5L257.5 249.1L252.8 246.1L250.6 242.7L247.2 242.4L241.2 242.4L236.7 241.2L228.8 237.5L225.5 236.7L218.7 235.2L213.6 235.6L206.4 233.7L201.9 232.2L197.7 233L198.5 235.7L196.2 236L192.1 236.7L188.7 237.9L184.6 238.6L183.9 236.7L185.7 233L189.9 231.9L188.7 230.7L183.9 233L181.2 235.2L176 238L178.6 239.7L175.2 242.7L171.1 244.2L167.4 245.4L166.2 246.9L160.6 248.7L159.5 250.6L155 252.1L152.4 252.1L149 252.9L145.2 254.4L141.9 255.5L135.5 256.6L135.1 255.9L139.2 254.4L142.6 253.2L146.7 251L151.2 250.6L153.1 249.1L158.4 246.9L159.1 246.1L162.1 244.6L162.7 242L164.7 239.7L160.2 240.9L159.1 240.1L156.9 241.6L154.6 239.7L153.6 240.9L152 239L148.2 240.5L146.1 240.5L145.6 238.2L146.4 237.1L144.1 235.6L139.2 236.4L135.9 234.5L133.6 233.7L133.4 231.5L130.6 230L132.1 227.7L135.1 225.9L136.2 224L139.4 223.6L141.9 224L144.9 222.5L147.9 222.5L150.5 221.4L149.9 219.9L147.9 219.1L150.5 217.6L148.2 217.6L144.1 218.4L143 219.5L140.4 218.4L134.9 219.1L129.5 218L128 216.5L123.1 214.2L123.1 214.2M496.2 657.8L497.5 659.7L499.4 662.5L504.2 664.7L509.5 665.7L507.8 667.5L504.2 667.7L502.3 666.4L500.1 666.3L496.1 666.3L493.9 668.6L491.1 667.5L487.2 667L482.3 664.9L478.6 662.9L473.3 658.7L476.7 659.5L481.9 661.9L486.8 663.3L488.7 661.5L489.9 659L493.4 657.4L496.2 657.8M478.6 168L479.1 166.6L493.2 164.7L507 162.9L508.5 161.5L498.4 160.2L501.6 158.7L514.5 156.1L520.2 155.7L518.5 154L527.3 153.1L538.9 152.4L550.5 152.4L554.5 153.5L564.4 151.6L573.4 152.9L578.7 153.2L586.5 154.4L577.5 152.4L578.1 150.8L590.7 148.6L603.8 148.6L608.7 147.5L621.8 147.1L651.8 147.5L675.4 150.5L668.3 152L654 152L633.8 152.4L635.6 153.1L648.9 152.7L660.4 153.9L667.5 152.7L670.6 154.2L666.4 156.3L676.1 155L694.1 153.5L705.5 154.2L707.6 155.7L692.3 158.4L690.2 159.3L678.2 159.9L687 160.2L682.5 162.9L679.5 165.3L679.6 169.6L684.1 171.9L678.2 172.2L672 173.4L679.1 175.2L679.9 178.4L675.9 178.8L680.8 182L672.4 182.4L676.9 183.9L675.5 185.1L670.3 185.7L665 185.7L669.8 188.4L669.8 189.9L662.3 188.4L660.4 189.5L665.6 190.3L670.5 192.5L671.8 195.6L665.3 196.2L662.3 194.9L657.8 192.9L658.9 195.3L654.4 197.4L664.5 197.4L669.6 197.7L659.5 200.9L649.3 203.8L638.4 205.2L634.2 205.2L630.4 206.7L625.1 210.6L617.1 213.2L614.5 213.3L609.5 214.2L604.2 215.1L600.9 217.5L600.9 220.1L598.9 222.6L592.8 225.6L594.3 228.5L592.6 231.6L590.7 235.2L585.4 235.5L579.9 232.4L572.4 232.4L568.8 230.4L566.3 226.7L559.8 222L557.9 219.6L557.4 216.2L552.2 212.7L553.5 210.1L551 208.6L554.7 204.3L560.4 202.9L561.9 201.3L562.6 198.4L558.4 199.7L556.3 200.2L552.9 200.8L548.4 199.6L548.1 197L549.6 195L553 195L560.7 196L554.2 193.6L550.9 192.3L547.2 192.9L544.1 191.9L548.2 188.4L545.9 187L543 184.4L538.5 180.5L533.7 179L533.7 177.4L523.7 175.2L515.7 175L505.7 175.1L496.5 175.4L492.2 174.2L485.7 171.8L495.5 170.7L503.1 170.4L487 169.5L478.6 168M521.5 209.9L520.2 212.4L513.8 216.9L509.3 215.4L503.3 211.6L498.4 212L498 214.2L501.8 216.5L507 218.4L508.5 219.1L510.8 222.9L509.7 225.5L504.8 224.7L495.4 221.7L500.7 224.7L504.8 227L505.2 228.5L495 227L487.2 224.7L482.7 222.9L483.8 221.7L478.2 219.9L472.9 218L472.9 219.1L462.1 219.9L458.7 218.4L461.3 215.7L468.4 215.7L476.1 215L474.8 213.9L476.3 212L480.8 208.2L480.1 206.7L478.6 205.2L472.9 203.4L465.1 202.2L467.7 201.5L463.6 198.9L460.2 198.9L457.3 197.4L455.3 198.5L448.6 199.2L435.1 198.2L426.8 197L420.8 196.6L417.8 195.1L421.6 193.6L416.3 193.6L415.2 189.9L418.2 186.5L421.9 185L431.7 183.9L428.7 186.1L431.7 188.7L435.2 185.7L444.8 184.1L451.2 188L450.6 190.4L458 189.3L461.7 187.8L469.9 189.9L475.2 191.4L475.6 193.2L482.7 192.1L486.4 194.7L495.4 196.2L498.8 197.7L502.3 201.1L495.4 203L504.2 205.2L510 206.4L515.7 209.7L521.5 209.9M321.5 185.7L325.2 186.5L323.3 188.2L332 187L337 188.9L341.3 187L344.7 188.4L347.7 191.9L349.6 190.4L346.9 186.5L350.3 186L354.1 186.6L358.2 188.1L360.4 191.7L361.6 194.4L367.9 196.2L374.8 198L374.3 199.7L368.3 200L370.6 201.4L369.4 202.8L362.7 202.2L356.1 201.2L351.8 201.4L344.7 202.7L335.3 203.2L328.6 203.7L326.5 201.9L321.5 200.8L318.1 201.2L313.6 198.3L315.8 197.9L321.8 197.2L327.1 197.4L332 196.7L324.6 195.9L316.6 196.2L311.3 196.2L318.1 193.2L312.1 193.2L305.7 192.3L308.9 189.5L311.3 188L321.5 185.7M301.6 192.9L291.8 194.7L290 193.2L281.3 191.1L285.5 186.9L288.8 184.2L285.1 182L297.8 181.4L303.1 182.4L312.5 182.4L316.2 183.5L320.3 185L315.5 186.1L306.5 188.7L301.6 191.4L301.6 192.9M409.9 153.5L427.2 152L444.4 149.7L456.1 149L467.5 148.6L469.6 149.1L480.4 148.6L488.3 148.6L496.5 149L506.7 149.3L514.5 149.7L521.5 150.9L521.3 151.6L512.3 153.5L503.1 154.2L499.7 155L507.8 155L499.2 157.2L492.8 158.4L486.4 161.4L478.9 162.1L476.3 162.9L465.1 163.2L470.3 163.6L467.7 164.4L470.7 166.2L467.3 167.4L461.3 168.5L459.4 170L454.2 171.1L454.9 171.9L461.3 171.8L461.3 172.6L451.2 174.9L441.4 173.9L430.6 174.5L424.9 174.1L417.8 173.7L417.4 172.1L424.2 171.1L422.3 168.5L424.7 168.2L434.8 170L429.8 167.4L423.6 166.6L426.4 164.2L433.2 164.4L434.3 163.1L429.1 161.7L427.6 159.7L437.7 159.9L440.7 160.2L446.5 158.7L438.1 158.4L424.9 158.7L418.2 157.2L415.2 155.7L410.7 154.8L409.9 153.5M427.2 161.7L431.7 163.2L426.4 164.4L419.7 167L412.9 167.4L405.1 167L401.1 165.3L401.3 164L404.1 162.9L397.3 162.9L393.1 161.7L390.8 159.9L396.1 157.2L399.8 156.9L398.3 156.1L406.9 155.9L411.8 158L418 158.7L424.2 159.5L427.2 161.7M402.4 172.7L409.9 172.6L413.3 173.9L412.3 175.4L416.7 176.2L418.9 177.1L424.2 177.2L429.4 177.5L435.4 176.7L443.1 176.4L449.3 176.7L453.2 178.1L454.2 179.7L451.7 180.6L446.1 181.5L441.4 181L430.6 181.6L422.9 181.6L416.8 181.2L406.9 180L405.6 177.9L405.1 176L401.3 174.5L393.6 174L389.3 172.8L390.6 171.3L398.3 171.5L402.4 172.7M347.7 174.9L349.2 176.2L352.6 175.6L356.3 175.7L357.1 177.5L354.8 179.4L342.1 179.9L332.7 181.6L327.1 181.6L326.3 180.5L334.2 178.6L317.3 179.2L312.1 178.6L317.1 174.9L320.7 173.7L331.2 175.2L338 177.3L344.4 177.6L339.1 174L342.5 172.6L346.4 173L347.7 174.9M376.9 183.7L381.4 184.6L388.2 184L389.3 185.1L385.8 186.9L391.6 188.5L390.8 191.9L384.4 193.4L381.1 193L374.7 189.5L369.1 188.7L369.1 187.5L376.9 188L372.8 185.5L376.9 183.7M403.9 187.7L399.8 190.5L395.7 190.4L393.3 187.1L393.4 185.2L395.3 183.6L399.1 182.6L406.9 182.7L414.1 183.6L408.4 187L403.9 187.7M384.1 173L387.1 174.6L387.1 176.6L385.3 179.4L379.2 179.7L375.1 179.1L375.2 177L369.1 177.3L368.8 174.3L372.8 174.5L378.5 173.2L383.8 173.4L384.1 173M394.8 201.5L392.4 202.8L387.4 201.6L384.4 202L379.2 200.4L382.6 199.2L385.2 197.6L389.1 198.6L391.3 199.3L392.5 200L394.8 201.5M434.1 214.4L434.8 216.1L436.7 215.5L438.9 216.5L442.9 217.7L447.3 218.9L447.6 220.7L450.4 220.4L453.1 221.6L449.7 222.9L443.9 221.9L441.8 220.2L438.1 222.2L432.8 224.2L431.4 222L426.4 222.3L429.6 220.5L430.2 217.6L431.3 214.1L434.1 214.4M317.7 169.4L317.3 172.2L314.3 173.6L310.8 173.8L303.8 175.4L297.8 176L292.8 175.2L299.1 172.4L306.8 170L312.5 170L317.7 169.4M357.8 163.2L365.3 163.7L375.4 165.1L378.2 167L379.6 168.5L373.6 168L367.4 166.8L358.9 166.6L362.7 165.5L358.2 164.7L357.8 163.2M340.2 169.2L333.3 170.4L327.8 169.2L330.8 167.9L336.1 167.6L341.5 168.1L340.2 169.2M468.8 204.5L471.8 205.6L471.8 207.1L471.4 207.9L468.8 208.8L464.7 209L463.8 207.1L465.4 205L468.8 204.5M456.1 227.4L454.7 229.6L453.1 229.2L451.9 228.1L452.3 227.7L456.1 227.4M441.2 224.7L446.3 224.7L446.3 225.5L441.8 227.4L439.2 227.4L438.5 226.4L441.2 224.7M543 270.5L540.4 273.8L542.9 272.5L545.4 273.3L544.2 274.6L547.5 275.7L549.1 274.7L552.9 275.9L551.7 278.7L554.3 278L554.8 280L556 282.5L554.4 285.6L552.8 285.8L550.2 285.1L551.1 282.1L550.2 281.5L545.7 284.7L543.4 284.6L546 282.9L542.5 282L538.4 282.2L531.2 282.1L530.6 281L532.9 279.7L531.3 278.6L534.5 276.4L538.3 270.4L540.6 268.3L543.9 267L545.6 267.1L544.9 268.1L543 270.5M513.4 284.3L514.7 286L517.5 286.6L520.9 286.6L519 288.1L517.7 288.2L512.9 286.6L511.9 285.5L513.4 284.3M511.5 273.6L512.8 273.2L517.7 274.2L521.7 275.7L521.7 276.5L519.8 276.5L514.9 275.3L511.5 273.6M290.3 278.7L288.5 279.1L282.1 277.6L281.1 276.1L277.8 275L277.1 273.8L273.2 273.1L271.8 271.1L272.1 270.2L276.1 271L278.3 271.6L281.9 272L283.2 273.3L285.1 275L288.8 276.6L290.3 278.7M254 257.5L255.8 258L259.4 257.7L258.3 261.9L261.5 264.9L260 264.9L257.8 263.2L256.4 261.5L254.5 260.3L253.8 258.7L254 257.5M179.7 246.5L176 248L174.1 246.9L173.5 245.1L176.9 243.9L179 243.2L181.4 243.5L183 244.6L179.7 246.5M109.6 221.4L111.9 222.1L114.1 221.7L117.1 222.7L120.9 223.2L120.5 223.6L117.9 224.4L114.9 223.6L113.5 222.9L110.2 223.2L109.2 222.9L109.6 221.4M132.6 236L130.3 236.5L127.8 235.8L125.5 234.9L129.2 234.2L132.2 234.5L132.6 236M444.8 373.6L448.2 374L451.2 374L454.6 375.1L456.1 376.6L459.6 376.2L461 377L464.3 379.4L466.6 381.1L467.7 381.1L469.9 381.8L469.7 383L472.6 383L475.3 384.5L474.8 385.4L472.3 385.9L469.8 386.1L467.3 385.8L461.8 386.1L464.4 384.1L462.8 383.1L460.4 382.8L459.1 381.7L458.2 379.6L456.1 379.7L452.7 378.7L451.6 377.9L446.7 377.3L445.3 376.6L446.7 375.7L443 375.5L440.3 377.4L438.8 377.5L438.2 378.4L436.4 378.8L434.8 378.5L436.7 377.3L437.6 375.9L439.3 375.1L441.2 374.4L444.1 374L444.8 373.6M478.9 386L481.2 386L484.5 386.7L484.9 386L487.9 386L490.2 387.1L491.1 386.9L491.8 388.2L493.8 388.2L493.7 389.3L495.4 389.4L497.3 390.8L495.8 392.3L494.1 391.5L492.3 391.7L491.1 391.5L490.4 392.1L489 392.4L488.4 391.5L487.2 392L485.7 394.6L484.7 394L484.5 392.9L482 392.3L480.3 392.5L478 392.3L476.2 393L474.2 391.8L474.5 390.6L478 391.1L480.8 391.4L482.2 390.6L480.5 389L480.5 387.5L478.1 386.9L478.9 386M462.5 391.2L465.1 391.6L467 392.5L467.7 393.5L465.1 393.6L463.9 394.2L461.8 393.6L459.7 392.2L460.1 391.4L461.7 391.1L462.5 391.2M504.9 391.2L506.8 391.5L507.5 392.2L506.5 393.2L503.7 393.2L501.5 393.3L501.3 391.7L501.8 391.1L504.9 391.2M462.8 371.3L460.9 369.5L459.4 368.3L460.2 366.1L461.3 366.1L462.8 369.5L462.8 371.3M461.7 359.7L464.7 360.8L463.9 363.5L463.2 361.2L461.7 359.7M457.3 360.1L459.1 359.7L461.5 360.1L461.7 360.8L457.6 361.6L457.3 360.1M522 420.1L524.3 419.7L525 422.7L521.7 423.1L521.1 422.7L522.2 421.6L522 420.1M78.5 778.2L82 776L88.8 777.2L93.2 775.9L99.6 777.5L104.3 776L116.2 775.1L119.7 776L127.2 777.6L137.8 778.6L146.2 779.8L160.7 780.6L171.5 779.6L187.5 780.4L196.5 781.5L206.4 780.5L216.8 779.4L217.6 777.6L202.9 777.5L190.8 776.6L187.6 775.1L177.5 774.3L178.2 772.7L179.6 771.1L181 769.7L180.3 768.2L174 767.1L171.1 765.8L165.3 764.6L174.4 764.9L183.1 764.3L188.5 765.5L195.2 764.4L201.4 763L204.4 761.8L203.1 760.2L198.3 759.2L192.7 758.1L185 757.9L178.3 757.4L171 757L168.6 755.6L163.7 754.4L160.8 753.1L159.6 748.8L161.4 749.2L164.8 750.4L171 750L177 749.5L180 751.1L186 750.8L191 749.9L195.7 748.9L199.9 747.7L205.6 747.3L205.5 745.9L204.1 744.5L205.2 743.2L210.1 742.5L212.3 743.8L218 743L222.3 742.1L227.7 742L232.7 741.6L237.8 740.7L241.9 740L246.4 739.1L249.4 739.4L251.9 739.7L257.5 739.1L262.5 739.8L267.7 739.7L272.6 739.2L277.6 739.6L283.2 740L288.4 739.8L293.9 739.9L299.4 740L304.6 739.8L308.4 738.7L312.9 738.1L317.6 738.9L322.1 738.3L326.2 736.9L328.6 738.1L329.9 739.4L332.3 740.7L336.2 739.6L340.7 741L345.8 741.4L350.1 742.4L355.4 742.2L360.1 741.6L365.8 741.7L370.9 742.2L376 742.9L378 741.3L375.6 740L373.8 738.7L368.9 738.4L366.8 737L366 735.6L364.6 732.8L367.5 733.3L372.4 733.6L377.3 733.3L381.7 733.9L385.5 735.1L387.1 736.4L392.2 736.6L397 736.1L402.2 735.3L406.8 734.9L410.6 735.8L415.6 735.5L418.8 732.6L421.9 734.3L426.2 735L430.9 734.6L434 736.1L438.9 736.2L443.4 736.7L447.9 737.4L450.8 736.1L452.3 734.8L456.1 736.2L461.2 735.8L465 736.7L467.6 737.9L472.6 737.5L476.5 736.7L480.3 735.8L484.8 735.2L490.1 734.8L494.9 734.3L498.6 733.5L500.8 732.3L501.7 730.7L501.2 729.2L500.1 727.7L498.7 726.2L497.6 724.7L496.6 723.4L496.4 722L496.7 720.5L498.5 719.1L500 717.5L500.6 716.1L499.8 714.5L499.4 713L501.2 711.3L503.3 710.2L505.7 708.8L508.3 707.6L511.3 706.5L512.7 704.9L514.8 703.9L517.2 702.9L520.8 702.7L523.1 701.5L525.8 700.8L528.8 700.4L531.6 699.4L533.7 698.2L536.6 697.8L538.8 698.8L537.4 700L533.6 701.1L532 701.9L529.2 701.3L526.1 701.7L523.5 702.5L520.8 703.5L519 704.6L518.5 706.1L518.7 707.5L520.5 708.7L517.9 709.6L514.4 709.9L512.3 711.2L510.1 712.3L507.8 713.9L507.2 715.3L508.5 716.9L510.5 718.1L513.6 718.9L516.4 720.1L518 721.6L518.8 723L519.9 724.4L521.6 725.7L522.8 727.1L523.2 730.6L524.4 731.9L524.7 733.4L525.8 734.9L525.3 736.9L523.2 738.4L521.1 739.7L516 740.2L514.4 741.5L512.1 742.7L506.4 744.2L501.5 744.7L496.7 745.5L491.7 746.3L488.7 747.9L482.6 748L476 747.9L470.1 748.2L463.8 748.2L464.9 749.6L470.7 750.3L474.9 751.4L477.2 752.7L473 753.8L466.6 753.5L461.2 754.4L460.9 757.4L465.2 758.7L466.1 760.1L470.8 761.5L478.8 762.1L485.5 763.1L490.9 764.3L497.7 765.5L507 766L516.2 767.1L522.6 768.2L529.6 769.4L533.3 771.2L535.1 772.6L539.6 771.3L545.8 770.1L552.3 769L560.1 768L566.8 767L576.1 766.9L585.3 767.4L592.9 768.3L595.3 766.7L600.5 765.6L610 765.5L617.4 764.7L624.4 763.9L632.2 763.4L640.5 762.7L646.3 761.8L643.7 760.5L642.1 759.1L642.1 757.7L634.8 757.9L627.1 758.5L619.7 758.5L618.7 757.1L619.2 754.3L620.9 753.5L626.3 752.6L632.6 751.7L640.9 750.4L645.1 748L650.2 747.4L655.3 746.9L657.9 746.6L663.7 746.4L669.2 745.9L673.8 745.2L678.4 744.3L682.5 743.4L687.7 742.2L691 741L694.5 739.9L695.6 738.4L691.6 737.5L693 736L695.4 734.8L699.3 734.1L703.5 733.2L707.3 732L710.2 730.6L712.1 728.8L714.8 727.8L719.3 728L721.1 729.2L725.6 729.4L725.7 728L727.6 726.5L731.7 726.9L732.6 728.3L737.1 728.5L741.9 727.9L746.6 727.4L750.9 727.6L752.5 729.2L756.6 727.9L760.5 727.3L764.7 726.7L768.9 726.2L772.7 725.3L776.9 724.7L780.1 724L782.4 722.6L785.2 723.6L789.1 723.1L791.8 724.8L793.9 726.1L798.2 725.4L799.9 724L803.7 722.9L808.6 723.1L810.1 724.5L813.2 723.1L817.2 722.7L821.6 722.5L825.6 722.6L829.8 723.1L833.8 723.3L835.6 724.5L838 725.6L842.1 725L846.5 724.8L850.8 724.8L854.9 724.7L858.7 724.2L862.7 723.8L866 722.8L869.5 722.1L873.3 721.7L876.2 720.7L878.2 718.7L880.4 717.4L884.3 718L885.7 719.3L888.9 720.2L892.8 719.9L895.5 721.2L898.3 722.2L902.1 721.3L903.4 719.7L906.8 719L910.7 717.8L914.4 717.2L918.8 716.5L921.7 715.7L924.8 714.8L927.7 714L931.2 714.5L934.6 713.2L937.1 712.1L940.6 712.2L943.7 711.3L944.4 710L947.6 709L950.6 708.2L954.4 707.6L957.8 707.3L961.1 707.6L964.7 707.9L967.7 709L968.1 710.6L971.4 711.8L973.6 712.9L978.1 713.3L980.6 714.3L983.7 715.3L987.3 715.6L990.3 714.8L993.5 713.3L997 714.1L1000.7 714.5L1004.2 715L1007.9 715.3L1011.7 715.3L1014.7 719.2L1014.6 720.1L1014.2 721.8L1010.6 722.8L1007.6 724.2L1008.1 725.6L1012.3 725.6L1011.8 727L1009.9 728.4L1008.1 730L1011 731.2L1015.3 731.5L1019.6 730.9L1021.7 729.4L1023 728L1025 726.8L1027.4 725.7L1028.3 724.4L1030.3 722.5L1032.7 722.2L1036.9 722L1040.7 721.6L1044.5 721L1046.3 719.5L1047.4 718.1L1050 716.8L1053.7 715.8L1056.8 715.1L1058.9 713.8L1061 713.2L1063.7 712.6L1067.5 712.9L1070.9 712.6L1074.5 712.1L1078.6 712.3L1081.4 711.3L1083.3 708.8L1084.7 709.8L1086.4 711.6L1089.6 712.3L1093.2 712.6L1096.8 712.2L1100.6 712.5L1104.1 712.6L1106.5 712.2L1109.6 712.4L1112.5 713.2L1115.9 712.7L1119.9 712.7L1123.4 712.2L1127.3 712.7L1129.7 711.5L1131.6 710.2L1134.2 709.2L1138.9 706.4L1141.4 706.9L1144.2 707.9L1146.7 709.3L1151.5 711.5L1155.1 711.6L1158.6 711.6L1162.6 711.2L1166.7 710.6L1169.8 709.6L1172.3 708.5L1176.5 708.4L1179.3 707.6L1182.3 708.3L1184.2 709.5L1186.8 710.6L1190.9 710.5L1193.5 711.5L1198 712.4L1202.7 712.8L1206.6 712.5L1209.5 711.3L1212 710.1L1215.4 709.8L1218.7 710.3L1222.6 710.7L1226.2 710.1L1229.5 710.1L1232.8 710.5L1236.3 710.9L1239.7 710.2L1243.7 709.6L1247.5 709.5L1251.8 709.5L1255.3 709.1L1258.6 708.8L1259.6 707L1259.8 705.4L1262.2 706.4L1262.8 708.1L1264.1 709.7L1265.6 710.9L1268.8 711.6L1273 711.4L1277.9 711.3L1281.3 711.1L1286.2 711.1L1289.7 711L1294.7 711.2L1298.9 711.5L1301.5 712.6L1300.8 714L1303.2 715.1L1307.2 716L1311.4 717L1316.3 717.6L1321.3 718.2L1325.1 718.8L1329.4 718.9L1331.8 717.6L1335.2 718.7L1338 719.8L1341.3 720.7L1345.9 721.1L1350.2 721.5L1352 723L1356.3 723.9L1359.1 725.2L1363.3 725.8L1367.7 725.7L1371.7 725.9L1376.2 725.9L1380.7 726.1L1384.9 726.7L1388.7 727.6L1392.6 728.3L1395.3 729.4L1394.8 730.9L1392.9 732.2L1391.2 733.9L1389.9 735.2L1388.1 736.7L1383.2 737.3L1381 738.6L1376.1 739.4L1374.4 740.9L1371.9 742.3L1369.1 743.5L1367.6 745L1366.6 746.4L1366.3 748.1L1366.3 749.5L1368.5 751L1369.3 752.4L1371 753.7L1378 754.2L1379.5 755.8L1372.7 756.4L1367 757.2L1359.9 757.4L1356.7 759.5L1356.1 761.3L1352.5 764.1L1357.5 765.3L1359.4 766.8L1362.6 768.2L1367.2 769.5L1372.4 770.7L1378 771.8L1386.6 773L1388.5 774.9L1399.3 775.7L1402.8 777L1413.2 776.1M496.7 726.6L497.2 728.3L496.5 729.8L495.5 731.2L491.1 731.7L486.9 732.4L482 732.3L483.8 730.9L475.2 731.9L472.4 730.8L472.1 729.2L476.2 727.8L478.8 727.3L483.2 727.5L484.2 725.6L484.5 724.2L484.4 721.2L486.5 719.4L490 718.8L492 720.2L492.8 721.6L494.4 723.3L495.7 724.9L496.7 726.6M369.7 730.1L372.1 729.5L376.8 730L382.3 730.3L386.4 730.8L390.5 730.3L392.7 732.5L389.8 732.2L385.2 732.3L380.6 732.2L375.5 732.4L371.7 731.7L369.7 730.1M590.9 760.6L585.1 761.8L579 762.7L571.9 763.6L564.1 764.4L555.2 764.1L550.3 762.9L550.9 761.3L559 760.3L562.2 759L564.6 757.4L566.2 756L568.5 754.7L570.9 753.2L572.8 753.2L578.4 752.4L584.1 753.2L588.7 754.8L590.3 757.1L590.8 758.7L590.9 760.6M139.6 755.3L141.8 753.8L148.8 754.4L152.5 755.6L155.4 756.9L156.4 758.6L149.2 759.1L144.3 757.8L142.1 756.5L139.6 755.3M298.9 736.1L303.8 736.7L308.3 736.1L306.1 737.4L302.6 738.3L297.4 738L293.6 736.7L294.4 735.5L298.9 736.1M282.6 736.1L288.3 737.5L286.1 737.4L281.3 737L276.2 736L278.9 735.2L282.6 736.1M530 760.7L528.9 762.6L527.8 764.3L519.9 763.7L511.6 764L506.9 762.7L506.9 762.6L504.8 761.5L513.3 761.6L521.4 762L524.1 760.4L526.1 759.1L530 760.7M536.3 697.9L538.9 697.5L543.8 697.1L545.3 698.3L541.2 699L536.3 697.9"/>
</g>
</g>
<rect class="fr" x="78.5" y="132.5" width="1331" height="656"/>
<text class="ti" x="744" y="107" xml:space="preserve">Combined (GIM), 2006-12-20 12:00 UT</text>
<rect x="78.5" y="831.5" width="74.4" height="66" fill="#00009f"/>
<rect x="152.4" y="831.5" width="74.4" height="66" fill="#0000df"/>
<rect x="226.4" y="831.5" width="74.4" height="66" fill="#000cff"/>
<rect x="300.3" y="831.5" width="74.4" height="66" fill="#0044ff"/>
<rect x="374.3" y="831.5" width="74.4" height="66" fill="#0080ff"/>
<rect x="448.2" y="831.5" width="74.4" height="66" fill="#00b8ff"/>
<rect x="522.2" y="831.5" width="74.4" height="66" fill="#09f0ee"/>
<rect x="596.1" y="831.5" width="74.4" height="66" fill="#36ffc1"/>
<rect x="670.1" y="831.5" width="74.4" height="66" fill="#63ff94"/>
<rect x="744" y="831.5" width="74.4" height="66" fill="#94ff63"/>
<rect x="817.9" y="831.5" width="74.4" height="66" fill="#c1ff36"/>
<rect x="891.9" y="831.5" width="74.4" height="66" fill="#eeff09"/>
<rect x="965.8" y="831.5" width="74.4" height="66" fill="#ffcc00"/>
<rect x="1039.8" y="831.5" width="74.4" height="66" fill="#ff9400"/>
<rect x="1113.7" y="831.5" width="74.4" height="66" fill="#ff6000"/>
<rect x="1187.7" y="831.5" width="74.4" height="66" fill="#ff2d00"/>
<rect x="1261.6" y="831.5" width="74.4" height="66" fill="#df0000"/>
<rect x="1335.6" y="831.5" width="73.9" height="66" fill="#9f0000"/>
<rect class="fr" x="78.5" y="831.5" width="1331" height="66"/>
<line x1="78.5" y1="897.5" x2="78.5" y2="912.1" stroke="#000" stroke-width="3.33"/>
<text class="tk" x="78.5" y="959.6">0</text>
<line x1="226.4" y1="897.5" x2="226.4" y2="912.1" stroke="#000" stroke-width="3.33"/>
<text class="tk" x="226.4" y="959.6">5</text>
<line x1="374.3" y1="897.5" x2="374.3" y2="912.1" stroke="#000" stroke-width="3.33"/>
<text class="tk" x="374.3" y="959.6">10</text>
<line x1="522.2" y1="897.5" x2="522.2" y2="912.1" stroke="#000" stroke-width="3.33"/>
<text class="tk" x="522.2" y="959.6">15</text>
<line x1="670.1" y1="897.5" x2="670.1" y2="912.1" stroke="#000" stroke-width="3.33"/>
<text class="tk" x="670.1" y="959.6">20</text>
<line x1="817.9" y1="897.5" x2="817.9" y2="912.1" stroke="#000" stroke-width="3.33"/>
<text class="tk" x="817.9" y="959.6">25</text>
<line x1="965.8" y1="897.5" x2="965.8" y2="912.1" stroke="#000" stroke-width="3.33"/>
<text class="tk" x="965.8" y="959.6">30</text>
<line x1="1113.7" y1="897.5" x2="1113.7" y2="912.1" stroke="#000" stroke-width="3.33"/>
<text class="tk" x="1113.7" y="959.6">35</text>
<line x1="1261.6" y1="897.5" x2="1261.6" y2="912.1" stroke="#000" stroke-width="3.33"/>
<text class="tk" x="1261.6" y="959.6">40</text>
<line x1="1409.5" y1="897.5" x2="1409.5" y2="912.1" stroke="#000" stroke-width="3.33"/>
<text class="tk" x="1409.5" y="959.6">45</text>
</g>
<g id="panel2">
<clipPath id="cl1"><rect x="78.5" y="1117.3" width="1331" height="656"/></clipPath>
<g clip-path="url(#cl1)">
<rect x="76.5" y="1115.3" width="1335" height="660" fill="#00009f"/>
<g transform="translate(0 984.8)" fill-rule="evenodd">
<path d="M74.5 128.5L1414.5 128.5L1414.5 192.8L1409.6 188.5L1402.5 186.3L1374.5 187.8L1346.5 185.2L1210.5 176L1186.5 173.5L1162.5 168.9L1150.5 167.6L1110.5 169.6L1098.5 169.4L1078.5 167.3L1054.5 169.3L1042.5 168.8L1022.5 164.4L1002.5 154L990.5 151.1L978.5 152.5L962.5 159.9L950.5 162.4L914.5 164.4L890.5 164.7L862.5 174.6L859.6 176.5L857.2 180.5L858.5 184.9L886.2 192.5L906.5 192.8L926.5 195.8L942.5 195.5L978.5 204.8L1014.5 209L1034.5 213.3L1070.5 216.7L1074.5 219.9L1078.5 229.3L1082.2 232.5L1094.5 238.9L1110.5 248.8L1118.5 256.1L1120.4 260.5L1119.1 264.5L1114.5 267.5L1094.5 273.6L1079.6 280.5L1066.5 285.2L1054.5 292.5L1050.5 296.1L1046.2 304.5L1045.2 312.5L1047.2 320.5L1049.5 324.5L1054.5 329.9L1062.5 335L1074.5 339.6L1102.5 344.1L1138.5 351.4L1158.5 357.6L1166.5 363.1L1178.5 376.5L1190.5 384.6L1202.5 390.9L1210.5 393L1222.5 394.5L1245.4 404.5L1254.5 414L1262.5 420.5L1265.3 424.5L1270.5 428.5L1287.8 440.5L1304.7 448.5L1325.4 456.5L1350.5 463.6L1374.5 466.9L1394.5 467.1L1402.5 468.8L1406.5 471.1L1412 480.5L1414.5 482.7L1414.5 756L1410.8 752.5L1406.5 751.7L1378.5 751.8L1374.1 752.5L1366.6 756.5L1362.6 760.5L1366.3 764.5L1374.5 767.8L1378.5 768.3L1406.5 766.7L1410.5 765.8L1414.5 762.2L1414.5 792.5L74.5 792.5L74.5 766.8L78.5 766.2L81.9 764.5L84.5 760.5L83.9 756.5L82.5 754.9L79.5 752.5L74.5 751.7L74.5 470.4L76.7 472.5L82.5 481.9L94.5 489.9L146.5 534.5L158.5 542.7L178.5 552.7L190.5 560.1L200.8 568.5L221.1 588.5L233.9 596.5L246.5 600.1L258.5 601.4L294.5 599.1L318.5 594.1L332.6 588.5L348.5 580.5L358.5 574.3L366.5 568L373.8 560.5L382.5 548.9L390.9 532.5L398.5 520L404.3 512.5L426.5 488.5L437.9 472.5L445 460.5L448 452.5L449.4 440.5L444.9 408.5L445.6 392.5L448.7 380.5L457.2 356.5L462.5 328.5L469.8 312.5L478.5 301.1L486.9 292.5L530.5 263.2L549.6 252.5L554.5 247.9L556.6 244.5L557.5 240.5L556.3 236.5L552.8 232.5L534.5 223.7L530.2 220.5L523.2 212.5L516.9 200.5L513.2 184.5L510.5 177.2L502.5 165.3L498.5 161.8L490.5 157.1L478.5 153.1L454.5 149.6L438.5 148.3L382.5 148.5L362.5 149.8L326.5 154.6L302.5 155.4L290.5 157.2L282.6 160.5L278.5 164.5L276.4 168.5L275.9 172.5L278.5 179.1L282.5 182.7L294.5 188.9L306.5 192L310.1 196.5L310.8 200.5L310 204.5L307.3 208.5L302.6 212.5L290.5 215.5L286.5 215.4L266.5 210.6L254.5 210.1L238.5 213.2L222.5 218.7L214.5 219.7L206.5 218.8L198.5 216.3L182.5 210.1L170.5 204L158.5 200.3L146.5 199.5L126.5 203.7L110.5 205L98.5 202.7L90.5 198.5L78.5 188.3L74.5 186.5ZM1238.5 416L1234.5 416.8L1230.3 420.5L1229.1 424.5L1230.5 432.4L1234.5 436.4L1238.5 437.6L1246.5 436.8L1251.4 432.5L1252.7 428.5L1252.2 424.5L1249.6 420.5L1246.5 418ZM1338.5 758.5L1336.1 760.5L1342.5 763.7L1346.5 763.6L1351.6 760.5L1342.5 757ZM1330.5 250.4L1362.5 243.1L1394.5 246.6L1406.5 249.6L1414.5 254.6L1414.5 287L1366.5 293.8L1358.5 293.4L1329 284.5L1321.1 280.5L1315.7 276.5L1312.2 272.5L1310.3 268.5L1310.9 264.5L1313.4 260.5L1318 256.5ZM74.5 288.4L74.5 249.1L86.5 256.1L114.5 260.1L126.5 264L130.5 267.3L142.5 283.3L147.8 288.5L146.5 290.5L142.5 292.3L134.5 292.6L94.5 286.2ZM194.5 260.7L206.5 254L214.5 253.1L218.5 254.2L222.5 256.8L228.5 264.5L236 280.5L246.5 291.7L250.5 295.3L254.5 297.4L258.5 297.2L268.8 292.5L278.5 289.6L286.5 290.1L306.5 297.6L326.5 300.2L337 304.5L351.6 312.5L355 316.5L354.6 320.5L350.5 322.7L342.5 324.5L298.5 327.9L286.5 327.7L273.8 324.5L254.5 311L250.5 310.7L222.5 321.8L214.5 322.1L206.5 319.7L201.5 316.5L190.5 306.3L167.3 292.5L166.8 288.5L173.1 280.5L185.2 268.5Z" fill="#0000df"/>
<path d="M633.8 128.5L768 128.5L768.6 132.5L770.6 136.5L778.5 145.5L779.7 152.5L777.8 156.5L770.5 164.6L762.5 167.9L746.5 170.8L742.5 171.2L730.5 169.7L726.5 170.3L718.5 174.2L710.7 180.5L706.5 182.3L702.5 182L698.6 180.5L695.5 176.5L693.9 168.5L693.5 156.5L689.5 152.5L682.5 150.3L670.5 149.2L658.5 150.1L653.4 152.5L651.7 156.5L652.1 168.5L653.6 176.5L655.7 180.5L660 184.5L666.7 188.5L678.5 191.1L682.5 192.9L686.5 197.3L689.8 208.5L692.5 232.5L694.5 238.2L698.5 240.1L722.5 230.6L742.5 228.5L758.5 225.1L766.5 224.6L798.5 226.2L822.5 229.4L898.5 235.3L926.5 240.5L946.5 240.4L958.5 243.3L980.6 244.5L982.5 245.9L983.6 248.5L981.4 252.5L974.5 257L954.5 261.2L950.5 263.3L947.3 268.5L947.9 272.5L954.7 280.5L974.5 299L985 316.5L992.3 336.5L1002.5 348.5L1007.9 352.5L1017.2 356.5L1046.5 365.2L1082.5 371.1L1106.5 373.6L1130.5 378.3L1142.5 381.8L1154.5 387.3L1156.2 388.5L1158.5 392.5L1159.3 408.5L1162.3 412.5L1166.5 415.3L1170.5 419.9L1175.7 428.5L1184.5 436.5L1189 448.5L1196.5 456.5L1203.5 468.5L1218.5 479.4L1230.5 485.6L1238.5 487.9L1266.5 492.5L1286.5 492L1318.5 494.3L1338.5 498.8L1362.5 499.9L1382.5 504L1402.5 504.4L1406.5 505L1410.5 507L1414.5 511.2L1414.5 636.2L1411.9 640.5L1411.1 648.5L1412.1 672.5L1414.5 682.8L1414.5 729.3L1410.5 730.2L1394.5 728.9L1386.5 729.5L1378.5 731.1L1362.5 736L1358.5 736.3L1338.5 734.2L1326.5 735.4L1314.5 739.3L1294.5 749L1286.5 750.7L1270.5 750.5L1263.5 752.5L1257.5 756.5L1254.5 760.5L1254.5 764.5L1256.6 768.5L1266.5 779.4L1274.5 783.5L1282.5 784L1298.5 781.1L1314.5 785.2L1326.5 786.5L1350.5 783.9L1366.5 788.6L1378.5 790.5L1390.5 789.5L1406.5 784.8L1414.5 784L1414.5 792.5L211.6 792.5L214.6 788.5L214.9 780.5L210.5 772.8L206.5 770.1L194.5 766L182.5 759.2L162.5 754.9L134.5 737.8L126.5 734.2L94.5 728.1L78.5 730.3L74.5 729.9L74.5 578.9L78.8 576.5L81.3 572.5L83.4 564.5L78.8 548.5L74.5 544.6L74.5 504.8L78.5 506.3L84.5 512.5L90.1 520.5L95.6 532.5L96.3 536.5L96 544.5L94.5 554.2L92 560.5L92 564.5L96.2 568.5L134.5 588.4L156.3 604.5L159.7 608.5L161.1 612.5L161.1 616.5L158.5 621.2L148.2 628.5L138.5 633.4L126.5 635.7L90.5 634.2L86.5 634.8L82.5 637.2L80.9 640.5L80.1 648.5L81.1 672.5L82.3 680.5L86.5 686.9L90.5 690.7L98.5 694.6L102.5 695L110.5 693.6L134.5 684.1L146.5 682L158.5 683.2L182.5 689.1L202.5 690.2L234.5 689.9L254.5 686.8L270.5 687.9L274.5 687.3L281.1 684.5L284.3 680.5L283.9 676.5L282.5 674.5L270.5 661.4L265 652.5L263.8 644.5L265.2 640.5L270.5 635L275.3 632.5L294.5 625.9L314.5 622.2L350.5 609.5L406.5 594.8L411.6 592.5L420.4 584.5L438.5 576.6L443.9 572.5L445.6 568.5L444.7 564.5L442.5 560.8L434.5 553.9L423.9 548.5L423.1 544.5L425.9 536.5L430 528.5L466.5 472.5L474.3 456.5L476.6 448.5L477.2 440.5L473.4 412.5L473.4 400.5L476.2 388.5L480.6 380.5L486.5 372.9L494.5 364.9L528.2 340.5L538.6 328.5L550.5 309.3L560.4 300.5L566.5 296.8L582.5 293.9L590.5 291.1L602.5 283.9L618.5 271.7L626.5 267.7L642.5 262L646.5 256.5L647.4 252.5L647.3 244.5L643.2 224.5L640.2 200.5L638.5 194L634.5 190.4L612.9 184.5L606.5 178.7L603.8 172.5L604.3 168.5L606.5 163.7L614.5 155.3L622.5 150.7L633.4 148.5L637.9 144.5L637.8 140.5ZM1318.5 519.4L1306.5 523.3L1286.5 527.8L1282.5 529.6L1278.4 532.5L1274.5 537.6L1273.4 540.5L1273.4 544.5L1275.1 548.5L1278.5 552.6L1286.5 558.1L1306.5 566.9L1318.5 574.5L1330.5 578.2L1338.5 578.2L1350.5 576L1358.5 575.8L1374.5 576.8L1394.5 579.7L1402.5 579.6L1409.7 576.5L1412.4 572.5L1413.8 568.5L1413.7 560.5L1409.8 548.5L1405.4 544.5L1398.5 541.9L1386.5 535.1L1350.5 525.1L1334.5 518.5L1326.5 518ZM74.5 785.1L82.5 784L106.5 784.9L130.5 782.9L154.5 783.5L178.5 781.5L182.5 782.8L195.7 792.5L74.5 792.5Z" fill="#000cff"/>
<path d="M742.7 260.5L778.5 262.6L818.5 261L830.5 263.4L842.3 268.5L854.5 275.6L903.5 300.5L914.9 308.5L918.7 312.5L921 316.5L921.5 320.5L920.3 324.5L918.5 327L914.5 329.6L906.5 331.1L890.5 330.5L874.5 331.4L858.5 328.1L846.5 327.6L826.5 323.1L814.5 322.4L806.5 323.4L802.5 325L798 328.5L793.4 336.5L792.8 340.5L795.5 348.5L799.3 352.5L802.5 353.7L842.5 366.3L894.5 377.9L914.5 378L919.8 376.5L926.5 372.7L930.5 371.9L958.5 373.1L1012.9 384.5L1102.5 396.5L1126.5 403L1138.5 408.9L1148.4 420.5L1158.5 428.1L1162.6 436.5L1172.6 448.5L1176.2 456.5L1184.5 464.5L1190.5 476.5L1202.9 492.5L1206.1 500.5L1209 512.5L1210.9 548.5L1215.6 576.5L1223.5 596.5L1230.5 607.9L1237.3 616.5L1245 624.5L1255.5 632.5L1280.3 644.5L1322.5 659.1L1354.5 667.5L1370.5 674.5L1377.4 680.5L1379.6 684.5L1379.8 692.5L1378.3 696.5L1373.6 700.5L1366.5 703.3L1306.5 713L1274.5 722.2L1202.5 727.8L1198.5 725L1189.2 696.5L1181.8 684.5L1170.5 674.7L1162.5 670.7L1154.5 668.2L1126.5 664.5L1114.5 664.4L1094.5 669.9L1078.5 671.5L1054.3 676.5L1026.9 684.5L1018.9 688.5L1014.5 694.3L1013.8 696.5L1014.6 700.5L1018.5 704.7L1027 708.5L1042.5 712.5L1050.5 713.1L1058.5 712.9L1078.5 710.2L1086.5 710.1L1094.5 712.9L1122.2 728.5L1126.5 730.1L1130.5 730.6L1150.5 726.5L1158.5 726.6L1166.5 728.5L1178.5 734.3L1186.5 736.6L1190.5 738.3L1192.2 740.5L1193.5 748.5L1191.9 760.5L1187.6 768.5L1178.5 775L1162.5 781.6L1154.5 783.8L1146.5 784.5L1130.5 783.9L1110.5 788.3L1102.5 789L1090.5 787.5L1074.5 782.5L1025.2 792.5L958.4 792.5L918.5 784.3L898.5 781.3L850.5 786.9L826.5 788.1L810.5 787.2L770.5 782.3L746.5 781L710.5 790.7L698.5 792L686.5 791.9L666.5 788.6L634.5 777.7L614.5 773.7L594.5 773.6L562.5 777.7L538.5 776.7L514.5 773.5L442.5 761.4L430.5 760.7L406.5 762L366.5 754.4L346.5 752.8L336.9 748.5L332.8 744.5L331.9 740.5L333.5 736.5L338.5 733L366.5 735.9L394.5 732.1L402.5 729.5L406.5 727.1L409.2 724.5L414.5 716.4L417.2 708.5L416.6 704.5L414.5 700.2L410.5 698L398.5 702.3L394.5 702.5L386.5 698.2L362.5 676.7L356.7 668.5L351 656.5L350.6 652.5L351.6 648.5L353.9 644.5L358.3 640.5L365.7 636.5L378.3 632.5L426.5 622.6L434.5 618.2L439.7 612.5L443.4 604.5L446.3 588.5L448.5 584.5L454.5 577.8L457.2 572.5L457.8 564.5L454.1 552.5L453.9 548.5L454.5 543.8L457.3 536.5L464.1 524.5L482.5 487.2L494.5 469.8L502.5 462.3L518.4 452.5L522.7 448.5L525.2 444.5L525.8 440.5L524.8 436.5L513.5 420.5L510.5 414.6L508.8 408.5L508.7 404.5L510.5 397.1L515.7 388.5L523.3 380.5L542.5 367.5L558.5 361.4L582.5 354.9L594.5 350.7L602.5 346.6L610.9 340.5L615.3 336.5L620.7 328.5L627.4 304.5L630.9 296.5L637.9 288.5L642.5 285.1L670.5 275.3L694.5 271.9ZM626.5 383.5L618.5 387.3L610.5 392.9L606.3 396.5L601.3 404.5L598.8 412.5L599.5 420.5L601.9 424.5L606.5 427.3L614.5 427.9L622.5 426.4L626.5 424.7L638.5 414.6L645.8 404.5L649.7 392.5L649.4 388.5L647.2 384.5L642.5 382L638.5 381.5ZM173 716.5L182.5 713.5L202.5 716.3L210.5 715.3L218.5 713L222.5 713L242.5 718.3L262.5 715.7L286.5 716.9L294.5 719.7L302.3 724.5L310.6 732.5L313.1 736.5L313.9 740.5L314.3 752.5L312.6 756.5L308.8 760.5L302.5 763.8L294.5 765.3L286.5 764.3L278.5 761.3L271.4 756.5L258.5 742.6L254.5 739.9L242.5 736.9L218.5 736.1L206.5 734L178.5 725.3L172.9 720.5Z" fill="#0044ff"/>
<path d="M736.6 368.5L754.5 366.3L790.5 367.6L830.5 374.1L890.5 388.2L910.5 389.3L918.5 388.4L926.5 388.6L938.5 386.7L954.5 387.6L1010.5 397.9L1078.5 406.7L1102.5 411.1L1118.5 415.9L1134.5 423.2L1146.3 432.5L1152.2 440.5L1157.8 456.5L1158.6 464.5L1158 476.5L1159.4 492.5L1158.2 504.5L1158.5 515.6L1165.1 552.5L1163 604.5L1160.6 616.5L1156.7 624.5L1149 632.5L1142.2 636.5L1134.5 639.6L1078.5 652.5L1030.5 658.1L1006.5 657.1L998.5 657.6L978.5 661.4L970.5 665.7L966.5 670.9L963.7 680.5L962.5 692.5L964.1 704.5L969.4 716.5L974.5 721.2L982.5 725.4L994.5 729.2L1002.5 730.6L1022.5 730.6L1038.5 729.5L1042.5 730.4L1046.5 732.7L1058.5 743L1062.5 745L1070.5 746.5L1078.5 746L1094.5 739.5L1102.5 739.1L1110.5 741.3L1126.5 747.9L1142.5 748.6L1149 752.5L1150.6 756.5L1148.7 760.5L1142.5 764.7L1130.5 766.5L1106.5 775.7L1098.5 776.6L1046.5 765.6L1006.5 763.8L978.5 760.8L954.5 756.7L934.5 757.6L898.5 762.5L866.5 760.1L822.5 760.8L786.5 754.5L770.5 753.5L762.5 754.4L754.4 756.5L750.5 758.1L741.1 764.5L722.5 765.5L713.9 764.5L702.6 760.5L696.1 756.5L690.5 751.2L686.4 744.5L686 740.5L688.9 732.5L703.8 712.5L707.6 704.5L706.4 696.5L700.2 688.5L686.8 680.5L678.5 677.7L644.1 668.5L622.5 665L590.5 657.3L574.5 651.7L554.5 641.4L530.5 626L514.5 614.4L498.5 604.5L486.5 594.3L482.2 588.5L480.6 580.5L482.5 568.5L486.5 557.3L494.5 546.1L514.5 529.2L522.3 520.5L534.6 492.5L540.2 484.5L544.2 480.5L570.5 463.2L578.5 459.7L622.5 453.3L634.5 449L642.5 443.4L656.4 424.5L662.5 414.4L674.5 403.3L690.5 391.4L710.5 379.1L722.5 373.4ZM950.5 636.7L940.4 640.5L938.5 644.5L940.3 648.5L942.5 650.3L946.5 651.9L954.5 652.5L958.5 651.7L961.8 648.5L962.7 644.5L961.7 640.5L958.5 638.2ZM1263.4 676.5L1270.5 673.1L1274.5 673.2L1277.8 676.5L1274.5 682.5L1270.5 685L1265.5 684.5L1262.5 681.3L1262 680.5Z" fill="#0080ff"/>
<path d="M785.8 380.5L798.5 381.1L834.5 386.7L866.5 394.1L878.5 395.8L886.5 398.4L906.5 399.7L918.5 398.2L926.5 400.1L942.5 398.8L950.5 399L1011.1 408.5L1074.5 416.3L1102.5 422.2L1114.5 426.5L1125.9 432.5L1131.2 436.5L1137.9 444.5L1141.1 452.5L1142.3 460.5L1142 472.5L1140.5 480.5L1136.1 492.5L1126.9 508.5L1123.4 516.5L1116.1 540.5L1110.5 548.1L1106.5 550.6L1094.5 554.9L1066.5 560.5L1014.5 578L986.5 585.7L966.5 590L958.5 594L946.5 603.3L938.5 606.9L922.5 610.5L910.5 615.3L898.5 618L874.5 629.7L842.5 641.2L806.5 649.4L782.5 650.8L766.5 653.4L754.5 654L690.5 647.9L678.5 645.5L630.5 633.5L614.5 625.5L598.5 620.7L582.5 608.5L570.5 604L566.5 601.6L554.5 591.3L550.5 585.5L548.4 580.5L547.5 572.5L556.3 536.5L559.6 500.5L562.5 494.3L567.7 488.5L577.5 480.5L590.5 473.2L614.5 470L626.5 467.8L634.5 465.2L650.5 452.2L653.3 448.5L658.5 438.3L666.5 430.7L678.5 417.1L698.5 402.9L714.5 394.2L730.5 388L746.5 384ZM1063.8 616.5L1072.3 616.5L1074.5 617.3L1077.8 620.5L1078.5 624.5L1075.7 628.5L1066.5 629.5L1060.2 628.5L1058.5 627.4L1056.4 624.5L1057.3 620.5ZM854.5 684.5L866.5 683L878.5 685.3L887.6 688.5L893.6 692.5L896.7 696.5L898.1 700.5L897.5 704.5L894.5 709.3L886.5 714.6L874.5 718.2L866.5 719.3L846.5 716.3L836.3 712.5L829.5 708.5L827 704.5L827.4 700.5L830 696.5L834.6 692.5L842.1 688.5ZM1093.9 756.5L1101.1 756.5L1102.2 760.5L1098.5 761.6L1089.8 760.5Z" fill="#00b8ff"/>
<path d="M786.2 388.5L794.5 387.8L830.5 393.4L890.5 407.6L906.5 409.5L918.5 408.4L926.5 410.2L942.5 409.1L950.5 409.5L990.5 415.2L1062.5 423.6L1088.7 428.5L1101.6 432.5L1110.3 436.5L1120.5 444.5L1123.8 448.5L1127.3 456.5L1128.6 464.5L1127.9 472.5L1125.2 480.5L1118.5 491.6L1102.5 509.8L1080.2 528.5L1058.5 541.9L1038.5 551.5L1014.5 560.2L966.5 571.6L952.4 576.5L942.4 580.5L934.5 586.8L918.5 591.2L902.5 601.1L870.5 609.9L858.5 614.5L814.5 623.7L786.5 627.3L750.5 625.2L730.5 621.8L710.5 620.1L698.5 617.2L686.7 612.5L673 604.5L658.5 593.6L646.5 580.8L618.5 555.5L602.5 537.8L598.5 532.5L595.1 524.5L594.3 516.5L596.2 508.5L601.9 500.5L619.2 488.5L622.5 486.7L634.5 483.3L638.5 481L649.3 468.5L654.5 464.5L658.5 459.6L664.1 448.5L670.5 441.8L678.5 431.1L685.4 424.5L694.5 418.3L714.5 406.5L734.5 398.4L750.5 394.1L778.5 390.4ZM1102.5 462.8L1101.3 464.5L1101.6 468.5L1102.5 469.6L1106.3 468.5L1106.8 464.5Z" fill="#09f0ee"/>
<path d="M778.5 398.3L790.5 394.8L794.5 394.7L802.5 396.5L814.5 397.1L850.5 404.7L886.5 415.1L906.5 418.3L918.5 418.1L930.5 420.5L954.5 420.5L1050.5 431.5L1078.8 436.5L1094.5 442.4L1097.9 444.5L1100.9 448.5L1096.3 460.5L1095.7 468.5L1098.5 476.2L1101.7 480.5L1102.3 484.5L1100.5 488.5L1090 500.5L1072.7 516.5L1058.5 527.6L1038.5 538.8L1014.5 548.5L994.5 554.2L954.5 563.3L926.5 571.1L917 572.5L910.5 575.5L902.5 581.8L890.5 585.9L842.5 593.7L810.5 600L794.5 600.3L774.9 596.5L706.5 570.2L694.5 562.8L684.3 552.5L674.4 544.5L664.9 528.5L663.5 524.5L660.9 508.5L660.4 496.5L662.2 480.5L666.5 470.7L668.7 460.5L682.1 440.5L690.1 432.5L714.5 417.3L730.5 409.7L750.5 403Z" fill="#36ffc1"/>
<path d="M750.5 411.7L794.5 403L802.5 404.1L810.5 403.8L834.5 408.1L850.5 412.5L859.4 416.5L874.5 426.3L881.4 428.5L886.5 431.3L890.5 431.9L914.5 431.6L926.5 433.5L946.5 432.4L958.5 432.9L1033.1 440.5L1070.5 447L1078.5 449.6L1082.5 451.7L1086.5 455.4L1088.8 460.5L1089.5 464.5L1089.3 476.5L1085.3 484.5L1070.8 500.5L1057.5 512.5L1042.5 523.2L1030.5 529.8L1010.5 538.2L978.5 547.2L934.5 556.5L918.5 558.7L894.5 563.6L874.5 562.7L830.5 555.5L814.5 556.1L798.5 558.6L774.5 558.9L746.5 556.5L738.5 555L714.6 544.5L706.5 538.6L701.4 532.5L696.8 512.5L695 496.5L688.1 484.5L686.5 477.6L686.7 460.5L688.7 452.5L693.2 444.5L698.5 438.9L722.5 423.6L737.4 416.5Z" fill="#63ff94"/>
<path d="M766.5 419.7L798.5 413.6L814.5 413.3L832.8 416.5L841.2 420.5L846.1 424.5L848.4 428.5L849.3 432.5L848.2 440.5L833.7 468.5L833.2 472.5L834.4 476.5L838.5 478.9L842.5 479.4L850.5 478.6L874.5 472.4L902.5 456.8L918.5 450.6L958.5 447.4L1018.5 452.8L1046.5 457.5L1055.9 460.5L1064.1 464.5L1068.5 468.5L1069.7 472.5L1069.1 476.5L1065.2 484.5L1055.8 496.5L1046.5 505.3L1034.5 514.3L1022.5 521.2L1006.5 528L990.5 533.2L974.5 537.2L898.5 548.4L870.5 546.2L834.5 537.7L822.5 536.1L806.5 537.5L790.5 540.8L758.5 542.2L750.5 541L739.3 536.5L734.5 532.6L730.7 524.5L730.2 516.5L731.4 508.5L738.4 484.5L737 476.5L728.7 460.5L727.7 456.5L728.5 448.5L729.9 444.5L736.2 436.5L750.5 426.2Z" fill="#94ff63"/>
<path d="M791.9 428.5L806.5 425.9L818.5 428.5L822.8 432.5L823.7 436.5L823 440.5L820.8 444.5L816.7 448.5L810.5 452.7L802.5 456L790.5 458.2L786.5 458.1L778.5 455.6L774.5 452.5L773.2 448.5L773.6 444.5L775.3 440.5L778.6 436.5L783.9 432.5ZM959.3 464.5L970.5 464.8L1006.5 468.3L1030.5 472L1038.1 476.5L1040.4 480.5L1040.6 484.5L1037 492.5L1029.2 500.5L1017.9 508.5L1001.3 516.5L974.5 523.8L910.5 535.2L890.5 535.8L871.6 532.5L861.9 528.5L855.5 524.5L851 520.5L848.2 516.5L847.3 512.5L848.1 508.5L850.5 504.5L860.3 496.5L868.2 492.5L882.5 486.7L898.5 483.1L902.5 481.2L910.5 473.8L918.5 469.7Z" fill="#c1ff36"/>
<path d="M918.5 489.2L942.5 487.6L960 488.5L975.9 492.5L980.9 496.5L974.2 500.5L942.5 510.9L926.5 514L906.5 519.8L898.5 520.2L890.5 518.9L884.8 516.5L881.5 512.5L881.4 508.5L883.8 504.5L889.7 500.5L906.5 495.2Z" fill="#eeff09"/>
</g>
<g transform="translate(0 984.8)">
<path class="co" d="M731.3 326.3L733.5 326L738.8 328.6L742.5 328.2L745.5 329L751.1 326.7L757.1 324.1L765 322.6L772.5 322.6L782.6 322.2L790.1 320.7L795 321.5L793.1 324.1L793.1 326.3L795 328.6L793.9 330.5L791.2 333.5L794.6 334.6L796.5 336.1L802.9 337.2L810 339.1L812.2 342.8L815.6 343.6L824.2 347L828.4 345.1L828.7 340.2L834.4 337.2L838.1 337.6L843.4 340.2L847.9 342.1L855.4 342.8L861.7 344.7L865.5 343.6L869.6 342.1L874.5 343.2L875.6 348.1L876 353.7L880.1 358.6L882 362.7L886.5 370.6L887.2 374.3L891.7 378.1L892.8 381.8L892.8 387.1L894 390.5L897.3 393.1L899.6 397.6L901.1 402.1L903.7 404.3L907.8 406.2L913.5 411.8L915.7 414.1L915 417.1L916.5 418.2L919.5 421.6L922.1 421.6L925.8 420.1L929.6 418.9L933.3 418.6L937.8 418.2L942 416.7L945.7 416.3L945 418.6L946.1 421.6L943.8 424.9L941.2 429.8L940.1 430.6L937.1 438.1L935.2 440.7L932.2 444.8L929.6 447.4L925.8 450.8L923.2 453.1L918.3 456.8L915 459.4L912.7 462.1L909.3 466.9L906.7 469.2L903.7 472.6L902.2 475.9L900 479.7L898.8 483.8L900.7 486.1L901.5 490.6L900.7 493.2L901.5 494.3L902.6 498.1L904.1 499.2L905.6 501.1L905.2 505.6L905.6 509.3L905.6 513.8L906.3 515.7L906 517.9L903 521.3L900.3 523.6L895.8 525.1L891.7 527.7L889.5 531.1L886.1 532.9L884.2 534.8L883.5 537.4L884.6 538.9L886.1 541.2L886.5 544.5L886.5 550.2L886.1 552.4L881.6 553.9L877.1 555.4L875.6 558L876.7 561.8L875.2 567L871.5 570.4L869.6 572.7L866.6 577.2L863.6 580.2L858 584.3L852.7 587.3L849.4 588L846.4 588.8L841.5 588L836.2 588.4L832.1 589.5L828.4 591L825.7 589.9L822.4 588.4L822 583.2L821.6 579.4L818.2 574.5L815.2 567.8L811.9 564.4L810.4 560.3L809.2 554.3L807.7 550.2L807.4 545.3L805.5 541.9L803.6 538.9L801.4 534.4L799.1 531.1L797.6 525.4L797.2 522.4L799.1 517.6L800.2 511.2L803.6 507.8L804.7 504.8L805.1 501.8L804.7 499.9L802.9 496.6L802.9 493.6L801.7 489.1L799.5 483.4L799.1 482.7L798.7 479.3L797.6 478.6L795 475.2L790.9 471.4L788.2 468.4L786.4 464.7L786.4 463.2L788.6 459.1L789.4 456.4L790.1 453.1L789.7 449.3L789.7 445.6L786.7 443.3L784.5 443.3L779.6 444.1L775.9 444.4L773.6 441.4L770.2 436.9L766.1 436.6L762.4 436.9L757.9 437.7L752.6 439.9L745.5 442.9L742.1 441.4L738.4 440.7L732.8 441.4L724.5 444.1L719.6 441.8L712.9 436.9L710.3 434.7L706.5 432.8L703.9 428.7L702 424.9L698.3 420.4L694.9 415.9L690.8 414.1L691.1 409.9L687.8 405.4L691.5 400.6L693.4 392.7L692.3 389L689.3 382.6L689.6 380.3L693.8 371.7L697.9 366.5L699 362.7L703.9 359L705 356L709.5 353L715.1 350.3L717.4 346.6L716.6 342.8L718.9 339.5L724.9 334.6L727.9 333.1L730.1 329L731.3 326.3M938.2 505.6L940.5 511.6L941.6 516.1L942.7 518.3L940.1 518.7L939.7 523.9L938.6 527.7L937.1 532.6L935.2 537.4L933 544.5L931.5 549.8L929.6 554.3L923.6 556.5L918.3 554.3L917.2 550.5L915.7 546L915.7 542.3L918.3 537.4L920.2 533.3L919.1 528.1L918.3 525.8L919.8 521.3L924 520.6L927 519.8L929.6 517.6L932.2 515.3L933.3 512.7L936.3 509.7L936.7 507.4L938.2 505.6M874.5 343.2L880.1 344L882 342.8L884.2 339.1L885 336.5L886.8 332.3L888 327.8L889.1 323.3L886.5 323.3L883.5 322.6L880.5 324.8L875.2 325.2L869.6 323L868.1 322.6L864.7 324.8L861 323L856.9 323L855.7 319.2L853.9 316.6L853.9 313.2L851.6 312.5L855.7 309.1L862.1 309.1L862.9 306.1L870 306.5L874.5 304.2L879 303.1L885.3 303.1L891.7 305.7L897 307.2L904.8 306.8L909.3 305L909 300.8L904.5 299L898.5 294.5L894 293L891 291.1L893.6 290.3L896.6 287.3L894.7 285.8L900 283.2L896.6 284L893.6 284.3L891.3 285.5L887.6 285.8L884.6 287L884.6 289.2L886.5 290.3L890.2 290L889.5 291.5L885.3 292.2L880.5 294.1L878.2 293.3L879 291.8L875.2 290.7L875.6 290L879.4 288.5L878.2 287.7L872.2 287L872.2 285.5L868.5 285.8L867.4 288.1L864.4 290.7L864.4 291.8L861.4 292.2L860.6 296.7L858.4 298.2L857.2 300.8L858.4 303.1L858.7 304.6L862.1 305.7L861.4 306.5L856.9 306.8L855.4 308L852.4 309.8L850.9 308.3L851.2 307.6L848.6 307.2L846.7 307.2L842.2 308L844.9 310.2L843 310.6L840.7 310.6L838.9 308.7L838.1 309.5L838.9 311.7L840.7 313.6L839.6 314.7L841.5 316.2L843.4 317.3L843.4 319.2L840 318.5L841.1 320.3L838.9 320.7L840.4 324.1L837.7 324.1L834.7 322.6L833.2 319.6L832.5 317L831 315.1L829.1 313.2L829.1 312.1L826.1 309.5L825.7 308L826.5 304.2L826.1 303.5L824.2 302L822.7 301.2L819 299.7L816.7 298.6L813.4 297.5L810.4 294.8L811.1 294.5L809.2 293L809.2 291.5L807 291.1L805.5 292.6L804.7 291.5L804.7 290L805.5 289.6L802.5 289.2L799.5 290.3L799.9 292.2L799.5 293.3L800.6 295.2L804 297.1L805.9 300.1L810 303.5L813 303.5L814.1 304.2L813 305L816.4 306.1L819 307.2L822.4 309.1L822.7 309.8L822 311.3L819.7 309.5L816.7 309.1L814.9 311.3L817.9 312.8L817.5 314.7L815.6 315.1L813.7 318.1L812.2 318.5L812.2 317.3L813 315.1L813.7 314.5L812.2 312.5L811.1 310.6L809.6 309.8L808.5 308.3L806.2 307.6L804.4 306.1L801.7 305.7L798.7 304.2L795.4 301.6L792.7 299.7L791.6 296L789.7 295.6L786.7 294.1L784.9 294.8L783 296.3L781.1 296.7L781.5 297.8L777.7 299L770.6 297.8L765 299L764.6 301.2L764.6 303.5L761.2 306.1L756.4 306.8L756 308L753.7 310.2L752.2 313.2L753.7 315.5L751.5 317L750.7 319.6L748.1 320.3L745.5 323L740.6 323L736.9 323L734.6 324.5L733.1 326L731.3 325.6L730.1 324.1L729 322.2L725.3 321.5L723.8 322.6L720 322.2L720.8 319.2L720.4 317L718.5 316.6L717.8 315.5L718.1 312.8L719.6 311.3L720.4 307.6L720.4 306.1L719.6 305L719.6 303.5L719.6 300.8L718.1 299.3L723.4 296.7L727.9 297.1L733.1 297.1L737.3 297.8L740.3 297.5L746.3 297.8L748.1 295.6L748.9 288.1L745.1 284L742.1 282.1L736.5 280.6L736.1 278L741 277.2L747.4 278.3L746.3 273.8L749.6 275.7L758.2 272.7L759.4 269.7L762.7 269L765.7 268.2L767.6 267.1L771 261.5L776.2 260L779.2 260L780 259.2L783 259.2L783.7 260L786.4 258.1L785.6 256.6L785.2 254.4L783.7 252.5L783.7 248.7L784.5 246.9L785.2 246.5L788.6 246.1L790.1 245.4L793.1 244.2L792.7 246.1L791.6 247.2L792.4 248.4L794.2 248.7L793.5 250.2L792.4 249.9L789.4 252.5L790.5 254.4L788.2 255.1L790.5 255.9L794.2 256.6L794.2 258.1L798.2 257.4L800.2 256.2L804.4 257.7L806.2 258.9L808.9 257.7L814.9 256.2L819.4 254.7L823.1 255.5L823.5 256.6L827.2 256.6L831.7 255.1L833.2 253.6L832.5 250.6L832.5 247.6L834.4 245.4L837.7 243.9L840.7 246.9L843.7 246.9L844.5 243.9L844.9 241.6L843.7 242L841.1 240.9L840.7 238.6L845.6 237.5L850.5 237.1L854.2 237.9L858.4 237.5L862.5 235.6L858.7 233.7L852 234.1L845.2 235.2L839.2 236.4L837 234.1L833.2 233L834 229.2L832.5 225.9L834 223.6L837.4 221.4L846 217.2L848.6 216.5L848.2 215L843 213.1L836.6 214.2L832.9 216.9L833.6 219.1L827.6 222.1L820.1 225.5L817.5 230.7L820.1 233.4L823.9 235.2L820.5 239.5L816.4 240.5L814.9 246.9L813 250.2L808.5 249.9L806.2 252.9L801.7 252.9L800.6 249.5L797.6 245.4L794.6 239.7L792.4 237.5L784.9 242L779.6 242.7L774.7 240.9L773.2 236.7L772.1 228.1L775.5 225.9L785.6 222.5L792.7 218.7L799.9 213.5L808.9 206.4L814.9 203.4L825.4 198.9L833.6 197L839.6 197.4L845.2 194.4L852.4 194.4L859.1 193.6L870.7 196.2L865.9 197.4L870 199.6L873.7 198.5L880.1 200.7L890.2 201.5L904.5 206L907.5 207.5L907.5 210.1L903.3 212L897.3 213.1L880.5 210.1L877.9 210.9L883.8 213.5L884.2 215.4L884.2 219.1L889.1 220.2L892.1 221.4L892.5 219.5L890.2 217.6L892.8 216.5L901.8 218.7L904.8 217.6L902.6 215L911.2 211.2L914.6 211.6L918 212.7L920.2 210.1L917.2 207.9L919.1 205.6L916.5 203.4L927 204.5L928.8 206.7L924.3 207.1L924.3 209.4L927 210.5L933 209.7L933.7 207.5L941.6 205.6L954.7 202.2L957.7 202.6L954 204.9L958.5 205.2L961.1 204.1L968.2 203.7L973.8 202.2L978 204.5L982.5 202.2L978.3 200L980.6 198.9L991.5 200L996.7 201.1L1010.2 205.2L1012.8 203.4L1009.1 201.5L1008.7 200.4L1004.2 200L1005.7 198.5L1003.5 195.5L1003.5 194.4L1010.2 191L1012.8 187.6L1015.5 186.9L1025.6 187.6L1026.3 189.9L1022.6 192.9L1025.2 194L1026.3 196.6L1025.6 201.9L1029.7 204.1L1027.8 206.7L1020.7 212L1024.8 212.4L1026.3 211.2L1030.4 210.1L1031.6 208.2L1034.9 206.4L1032.7 204.5L1034.2 201.9L1030.1 201.5L1029.3 199.6L1032.3 195.9L1027.4 192.9L1034.2 190.2L1033.4 187.6L1035.3 187.2L1037.2 189.5L1035.7 193.2L1039.8 193.6L1037.9 191L1044.3 189.5L1052.2 189.5L1058.9 191.4L1055.6 188.4L1055.2 184.6L1061.9 183.5L1070.9 183.9L1078.8 183.5L1075.8 181.2L1080.3 179L1084.4 179L1091.9 177.1L1101.7 176.4L1102.8 175.6L1112.9 175.2L1115.9 176L1124.2 174.1L1131.3 174.1L1132.1 172.2L1135.8 170.7L1144.8 169.2L1151.2 170.4L1145.9 171.5L1154.5 172L1159 173L1169.9 173L1178.2 174.9L1181.2 176.4L1180.4 178.2L1176.3 179.4L1166.5 181.2L1163.5 182.4L1168 183.1L1173.7 183.9L1177 183.2L1178.9 185.7L1180.7 184.6L1186.8 183.9L1198.8 184.6L1199.5 186.5L1215.3 187L1215.7 184.2L1223.5 184.6L1229.5 184.6L1235.5 186.9L1237.4 189.1L1235.2 190.7L1239.7 193.6L1245.7 195.1L1249.4 191.4L1255.4 192.9L1261.8 191.7L1268.9 193.2L1271.5 192.1L1277.9 192.5L1274.9 189.1L1280.2 187.6L1313.9 189.9L1317.3 192.1L1326.9 195.1L1342 194.4L1349.5 194.7L1352.5 196.2L1352.1 199.2L1356.6 200.4L1361.9 199.6L1368.6 199.2L1375.4 200L1382.5 199.6L1389.3 203L1393.8 201.9L1390.8 199.2L1392.6 197.7L1404.3 198.9L1412.1 198.5M875.6 348.1L877.9 353.3L882 356.7L883.5 352.6L884.6 350L883.8 352.2L885 355.2L886.8 357.8L890.6 364.2L892.8 367.2L894 369.5L897.7 372.5L900 375.8L900 380.7L902.6 384.5L906.7 387.5L907.8 390.5L912 395L913.8 399.5L913.8 403.2L915.3 410.7L916.5 413.3L919.1 413.3L922.1 412.9L923.6 411.8L928.5 410.3L931.1 409.6L936 408.1L939.3 405.4L945.3 403.6L949.1 402.1L949.8 399.1L952.5 398L956.6 396.8L960.7 394.6L964.5 393.5L965.6 390.8L969.7 389.7L970.1 384.8L974.2 384.1L976.1 379.2L977.6 376.2L975.3 374.4L973.1 372.1L968.6 371L964.8 367.2L964.5 362.3L963.7 362.7L961.1 365.3L958.5 367.6L955.8 370.2L950.6 369.8L947.6 370.6L946.8 369.8L946.1 368.3L946.8 366.1L946.8 363.8L945.7 362.7L943.5 365L943.8 367.6L941.6 364.6L941.2 360.5L939 359L936.3 356.7L934.8 353.3L933.3 350.7L933.3 348.1L935.6 348.1L936.7 347L939.3 348.1L941.2 347.7L944.2 352.6L946.5 356L950.2 357.1L954 360.1L958.5 361.2L962.2 359.5L965.2 359L967.1 360.8L968.6 364.2L972.7 364.6L978.3 365.3L984 366.5L989.2 366.1L995.2 366.1L1002.3 365.3L1005 368L1006.1 371L1009.1 371.7L1013.2 375.1L1012.8 377.7L1017.7 382.2L1020.3 382.6L1025.6 380.3L1026.3 384.1L1026.3 389.3L1027.4 393.5L1028.9 400.6L1030.4 404.3L1032.3 405.8L1033.1 408.1L1034.2 412.9L1036.1 416.3L1037.2 418.2L1038.7 421.9L1040.6 427.2L1043.9 430.6L1046.9 427.2L1050.3 426.1L1049.2 424.9L1050.7 421.9L1052.9 421.6L1052.9 415.2L1054.1 411.8L1053.3 403.9L1054.4 400.9L1056.3 400.8L1061.6 398.3L1065.3 394.2L1070.9 389L1072.4 387.5L1077.7 384.8L1079.6 383L1079.6 380L1084.1 379.2L1086.7 379.2L1087.1 377.7L1089.7 378.5L1091.9 378.8L1093.1 376.6L1096.1 375.1L1097.6 377.3L1098.3 380.7L1099.8 383L1102.4 386L1104.7 386.7L1106.9 392.3L1107.7 395.7L1106.6 400.6L1108.8 401.3L1111.1 401.7L1115.2 399.1L1117.8 397.2L1119.3 400.2L1120.1 405.1L1121.2 409.6L1122.7 411.4L1122.3 415.6L1123.8 417.8L1123.1 423.4L1121.6 429.1L1121.9 431.3L1122.7 429.1L1124.6 430.9L1126.4 435.1L1128.7 436.2L1129.4 438.1L1129.1 440.7L1130.6 445.9L1133.2 450.1L1138.1 453.2L1141.4 456.1L1144.1 455.7L1144.1 454.6L1142.9 451.2L1141.1 450.1L1141.1 447.8L1141.1 444.8L1139.4 439.9L1137.3 437.7L1136.2 437.3L1134.3 435.4L1132.1 434.7L1130.2 432.8L1129.4 429.4L1127.9 426.1L1125.3 426.1L1125.3 419.5L1126.8 415.9L1128.3 414.4L1128.7 410.3L1131.3 413.3L1134.7 413.3L1138.1 414.8L1139.9 418.6L1141.4 420.8L1144.4 421.2L1147.8 423.1L1146.3 426.1L1147.4 428.3L1152.3 424.9L1155.3 421.6L1159.8 419.3L1162.8 416.7L1163.2 410.3L1161.7 403.2L1159.4 400.2L1156 398L1152.3 393.1L1149.7 389L1150.4 386.3L1153.4 383L1154.5 381.8L1158.7 379.6L1160.2 379.2L1165.4 380.3L1164.3 381.8L1165.4 384.5L1167.3 384.5L1167.3 381.5L1168.8 380.3L1172.5 379.6L1177.8 377.7L1180 376.2L1181.5 377.3L1183.8 375.5L1187.9 375.1L1193.2 372.1L1198.4 368.7L1201.8 364.2L1204.8 359L1207.4 355.2L1209.7 354.8L1210.4 351.8L1208.2 345.5L1210.4 344.7L1210.4 341.7L1207.8 338.7L1205.5 335.3L1200.3 329.7L1202.2 327.1L1204 325.2L1207.4 323L1212.3 322.2L1212.7 320L1206.3 318.5L1199.2 320.3L1196.2 317.7L1193.9 315.5L1195.8 313.6L1199.5 313.2L1201.8 311L1207.4 307.6L1209.3 307.2L1211.5 309.1L1208.5 311.3L1209.3 312.8L1207.4 314.7L1211.5 313.6L1219.4 311L1223.2 312.1L1223.5 312.8L1222.4 315.1L1220.9 317.7L1222 318.5L1226.5 319.2L1229.2 322.2L1226.2 323L1228 326.7L1227.3 329.7L1227.7 331.6L1231 331.2L1234 329.7L1237.4 329L1238.9 322.6L1237.8 320.3L1234.4 315.8L1232.5 313.6L1231 313.6L1231.4 311.3L1233.2 310.6L1237.8 308L1239.7 307.2L1239.7 304.6L1242.3 302L1243.8 302.3L1244.2 300.8L1249.4 298.2L1251.7 300.1L1253.9 300.1L1259.2 297.8L1271.5 287L1273 284.3L1278.7 279.1L1280.2 273.1L1280.5 268.6L1283.5 264.9L1283.2 261.5L1277.9 257.4L1273.8 257L1271.5 258.9L1267.8 258.2L1265.9 255.9L1259.9 255.5L1274.4 246.5L1286.5 239.4L1298.9 238.2L1310.1 238.6L1315 236.7L1320.6 240.1L1320.6 237.5L1326.3 239.7L1334.5 239L1331.5 236.4L1340.9 230.4L1350.6 228.9L1353.6 233.7L1363.4 229.6L1365.6 226.2L1370.1 225.9L1367.1 231.5L1360.4 234.5L1354 238.2L1347.3 242.7L1341.3 243.9L1337.9 247.6L1336 252.9L1337.9 261.1L1339.8 266.7L1341.3 269.3L1346.5 266L1347.6 261.9L1353.3 261.1L1354.8 257L1361.1 254.7L1359.6 253.2L1361.1 250.2L1364.9 249.9L1365.3 244.6L1361.1 243.9L1360.8 242.4L1365.3 238.6L1366.4 236L1371.6 236.7L1376.9 236.4L1375 234.9L1391.9 236L1393.4 234.5L1399 232L1408 228.9M78.5 202L87.5 204.9L97.6 208.6L97.2 210.9L99.9 212L98.7 209L108.9 209.7L116.4 213.2L112.6 215L106.6 215.4L106.2 218.7L104.7 219.5L101.4 219.5L98.4 218.4L93.5 217.2L92.7 215.4L89 215L84.5 215.4L82.6 214.2L83.4 212.7L78.9 213.5L80.7 215.4L78.5 216.9M937.5 286.6L940.8 285.8L945.3 284.3L948.3 285.1L952.1 284.7L952.8 287.3L952.1 290.7L949.1 290.3L945.7 291.1L945.7 293.7L942 293.3L942 294.5L944.2 295.6L945.7 299L950.2 300.1L951 301.6L949.8 303.1L950.2 303.8L951.3 306.5L951.7 307.2L953.6 310.6L951 310.6L952.5 313.2L955.5 314.3L954.7 318.5L955.5 321.1L955.1 322L949.5 323L943.8 322.2L941.2 320.3L937.8 319.6L936.7 317L936.7 315.1L937.8 314.3L938.6 312.8L939.3 309.8L942.3 309.5L941.2 308.7L939.3 308.3L937.5 305.7L935.6 303.8L931.5 299.4L931.8 296.7L928.5 293.3L932.2 289.6L935.6 288.8L937.5 286.6M732 272.7L739.9 272.3L742.5 270.5L746.3 270.8L750.4 270.1L755.6 270.1L758.6 268.6L755.6 267.5L757.1 266.4L759.7 263L755.2 262.2L753.7 260.7L751.9 256.2L749.2 255.9L747.4 252.1L745.9 251L741.8 250.6L745.5 247.2L745.9 244.2L741.8 244.2L738 244.6L741.8 240.9L734.6 240.9L732.4 245.4L730.5 247.6L732.4 253.2L734.6 254L735.4 255.1L739.9 255.9L742.1 258.1L742.1 260.4L736.1 260L737.6 264.5L733.5 265.6L734.7 267.1L740.6 267.8L737.3 268.6L733.9 273.1L732 272.7M730.1 258.5L730.9 261.1L727.9 264.5L721.1 266.7L716 266.4L718.9 262.2L717 258.5L722.3 255.5L724.9 254L728.3 253.6L732 255.9L730.1 258.5M699 211.2L698.3 213.9L702.4 216.5L697.5 219.1L686.6 221.7L683.3 222.5L667.9 220.8L671.6 219.1L663.5 217.2L670.1 216.5L670.1 215.4L662.3 214.6L664.5 212L670.5 211.6L676.1 214.2L681.8 212L686.6 213.1L692.6 211.2L699 211.2M810 161.7L811.5 160.6L817.1 160.2L822 161.7L834 164.5L824.6 165.9L822.7 168.9L819.4 169.6L817.5 172.6L813 172.6L805.1 170.4L808.5 169.2L802.9 168.1L795.4 164.7L792.4 161.7L802.9 160.6L804.7 161.7L810 161.7M822 161.7L830.2 158.4L835.5 159.1L839.2 158L848.6 159.1L856.1 160.2L850.5 162.5L839.6 162.9L828.7 162.1L822 161.7M846 168.5L837.7 170.4L831 169.2L833.6 168.5L831.4 167L839.2 166.2L840.7 167.7L846 168.5M946.5 190.6L950.2 192.5L954 193.6L961.8 195.9L969 195.5L966.7 194.4L961.1 192.1L963.3 189.5L961.8 185.7L954 184.2L957.3 184.6L954.7 187.6L950.2 189.9L946.5 190.6M954 184.2L963 180.9L961.8 179L970.5 177.1L982.8 174.5L995.2 174.1L1001.6 172.6L1009.1 172.2L1011.7 173.7L1009.1 174.9L995.6 176.7L984.3 178.2L972.7 182L967.1 185.7L961.1 189.1L954 184.2M1112.9 155.7L1120.4 158L1129.1 161.4L1127.9 164.7L1120.1 165.1L1109.6 164.4L1103.2 162.9L1100.2 160.2L1095.3 159.5L1105.1 156.9L1112.9 155.7M1126.1 168.5L1133.2 163.6L1138.8 163.2L1148.6 165.5L1147.4 167L1126.1 168.5L1126.1 168.5M1273.8 175.2L1283.9 175.2L1297.4 177.1L1294.4 180.1L1280.5 180.1L1274.4 180.9L1266.9 178.2L1268.9 176L1273.8 175.2M1301.1 178.6L1302.3 177.5L1309 178.2L1318.4 179L1314.3 180.5L1308.2 180.1L1301.1 178.6M1277.9 185.4L1281.3 183.9L1286.1 183.5L1291.4 185L1291.8 186.1L1286.1 186.1L1278.3 185.7L1277.9 185.4M78.5 192.5L78.9 192.1L87.5 193.2L87.1 194L83.4 194.7L78.5 195.1L78.5 192.5M1289.1 256.6L1290.6 263L1290.3 266.4L1291.8 270.5L1295.9 276.9L1290.3 275.7L1288 281L1291.4 285.1L1291.4 287.7L1288.4 285.5L1286.1 288.2L1285.4 285.1L1285.8 281.3L1285.4 277.2L1286.1 274.6L1286.5 269.5L1284.3 266L1284.6 260.7L1288 258.9L1286.5 257.4L1289.1 256.6M1285.4 289.6L1289.9 293.7L1295.5 295.7L1298.1 294.1L1298.9 298.2L1293.6 299.4L1290.3 303.1L1284.3 300.5L1282.4 304.6L1278.1 304.6L1277.5 300.8L1279.4 298.2L1283.5 297.8L1284.6 292.6L1285.7 289.6L1285.4 289.6M1281.9 305L1283.5 305.3L1285.4 310.6L1285.4 313.6L1281.9 317.3L1281.9 321.5L1280.5 324.5L1281.3 326.3L1279.4 329L1274.5 330.5L1267.8 330.8L1262.5 335L1259.9 333.8L1259.9 330.8L1253.2 331.6L1249 333.5L1244.5 333.5L1247.9 336.5L1245.7 342.5L1243.4 344.3L1241.5 342.8L1242.3 339.5L1240 338.3L1238.5 335.7L1242.3 334.6L1244.2 332.3L1247.9 330.5L1250.5 327.8L1258 326.7L1262.2 327.5L1265.9 320.7L1268.5 322.6L1274.2 318.8L1276 317.3L1278.7 312.8L1277.9 308.3L1279.4 306.1L1281.9 305M1258 332.7L1258.8 333.8L1256.5 336.1L1255 335L1253.2 335.7L1252 338L1249.8 336.9L1249.8 335L1251.7 332.7L1253.9 333.5L1255.4 331.6L1258 332.7M1210 369.1L1207.8 375.1L1205.9 378.1L1204 375.1L1203.7 372.1L1205.9 368.7L1208.9 365.7L1210.6 366.8L1210 369.1M1166.9 390.5L1163.9 392.3L1160.9 391.2L1160.5 387.8L1162.4 386.3L1166.5 385.2L1168.8 385.2L1169.5 386.7L1168 388.2L1166.9 390.5M1060.1 432.4L1059.3 436.2L1057.8 437.3L1054.4 438.2L1052.9 435.1L1052.2 429.8L1053.7 423.8L1056.3 425.7L1058.2 428.3L1060.1 432.4M1208.2 391.2L1210.4 392.3L1211.5 391.2L1211.9 392.3L1211.5 393.8L1212.7 396.5L1211.9 399.5L1209.7 400.9L1208.9 403.9L1209.7 406.9L1211.9 407.3L1213.4 406.9L1218.1 408.8L1217.9 411.1L1219 411.9L1218.7 413.7L1215.7 411.8L1214.2 409.6L1213.4 411.1L1210.8 408.8L1207.4 409.6L1205.5 408.4L1205.9 406.9L1207 406.2L1205.9 405.1L1205.5 406.6L1203.7 404.4L1202.9 402.8L1202.9 399.1L1204.4 400.6L1204.8 394.6L1205.9 391.2L1208.2 391.2M1208.9 411.4L1208.2 414.8L1206.3 412.9L1204.4 409.9L1207.8 410.3L1208.9 411.4M1223.9 414.8L1225 419.3L1222 418.2L1222 419.4L1223.2 421.6L1221.3 422.7L1221.3 420.1L1220.2 419.7L1219.4 417.4L1221.7 417.8L1221.7 416.3L1219.4 413.3L1222.8 413.7L1223.9 414.8M1213 423.1L1213.8 421.9L1214.4 419.7L1216.4 419.7L1215.7 421.9L1218.7 418.6L1218.2 421.9L1216.8 423.3L1215.7 425.7L1214.5 426.8L1212.3 424.2L1213 423.1M1210.8 421.6L1210.7 419.7L1210.8 417.8L1210.4 415.9L1212.7 417.1L1214.9 417.1L1214.9 418.6L1213 420.4L1210.8 421.6M1201.4 417.8L1202.2 420.8L1199.5 423.1L1197.7 425.7L1192.8 429.1L1194.7 426.4L1197.3 424.2L1199.5 421.6L1201.4 417.8M1227.3 429.1L1227.7 431.5L1227.7 433.6L1226.5 436.9L1225 433.2L1223.5 435.1L1224.7 438.1L1223.5 439.6L1219 437.3L1217.9 434.7L1219 432.8L1216.8 431.3L1215.7 432.8L1213.8 432.4L1211.2 434.7L1210.4 433.6L1211.9 430.6L1214.2 429.4L1216.4 427.9L1217.5 429.8L1220.5 428.7L1221.3 427L1223.9 426.9L1223.5 423.8L1226.5 425.7L1227.3 429.1M1195.4 445.2L1193.2 448.6L1195.8 451.9L1195.4 453.8L1199.5 457.2L1195 457.6L1193.9 460.2L1193.9 463.6L1190.5 466.2L1190.2 469.9L1188.7 475.6L1188.3 474.4L1184.2 475.9L1182.7 473.7L1180 473.3L1178.2 472.2L1173.7 473.7L1172.2 471.8L1169.5 471.8L1166.5 471.4L1166.2 466.6L1164.3 465.4L1162.4 462.4L1161.9 459.1L1162.4 455.7L1164.7 453.1L1167.3 454.2L1170.3 453.6L1171 450.4L1172.5 449.7L1177 448.9L1179.7 445.9L1181.5 443.7L1183.4 445.6L1184.2 444.4L1185.7 444.4L1186 440.3L1189 437.7L1190.9 434.7L1192.4 434.7L1194.3 436.6L1194.7 438.1L1200.3 440.3L1199.9 441.8L1197.3 441.9L1198 443.7L1195.4 445.2M1150 482.5L1145.9 482.7L1142.9 479.3L1138.1 476.3L1136.6 474.1L1133.6 471.1L1131.7 468.4L1128.7 463L1125.7 459.8L1124.4 456.8L1123.1 453.8L1119.7 451.2L1117.8 448.2L1114.8 445.9L1111.1 441.9L1110.7 439.9L1112.9 440.3L1118.9 441.1L1122.3 444.4L1124.9 447.1L1127.2 448.6L1130.6 452.7L1134.7 452.7L1137.7 455.3L1139.9 458.3L1142.6 460.2L1141.1 463.2L1143.3 464.7L1144.8 464.7L1145.2 467.3L1146.7 469.2L1149.3 469.6L1151.2 472.2L1150.4 476.7L1150 482.5M1160.5 486.1L1167.7 486.4L1168.8 484.9L1175.5 486.4L1177 489.1L1182.7 489.8L1187.2 492.1L1183 493.4L1178.9 491.7L1175.5 492.1L1171.4 491.7L1168 490.9L1163.5 489.4L1160.9 489.1L1159.4 489.8L1152.7 488.3L1151.9 486.4L1148.6 486.2L1151.2 482.7L1155.7 482.9L1158.7 484.2L1160.2 484.6L1160.5 486.1M1222.8 455.3L1219.8 459.1L1217.2 459.8L1213.4 459.1L1207.4 459.1L1204 459.8L1203.7 462.4L1206.7 465.8L1208.9 464.2L1215.7 462.8L1215.7 464.7L1213.8 463.9L1212.3 466.2L1208.9 467.7L1212.7 472.6L1211.9 473.7L1215.3 478.2L1215.3 480.4L1213 481.6L1211.5 480.4L1213.4 477.4L1209.7 478.7L1208.9 477.8L1209.3 476.3L1206.7 474.1L1206.9 470.3L1204.4 471.4L1204.8 481.2L1202.5 481.9L1201 480.8L1202.2 477.4L1201.4 473.7L1199.9 473.7L1198.8 471.1L1200.3 468.4L1200.7 465.8L1202.5 460L1203.3 458.3L1206.7 455.7L1209.7 456.8L1214.2 457.2L1218.7 457.2L1222.4 454.6L1222.8 455.3M1195.4 490.9L1196.9 492.1L1199.2 491.7L1199.9 493.2L1195.7 493.9L1193.2 494.3L1190.9 494.3L1192.4 492.4L1194.3 492.1L1195.4 490.9M1214.2 490.9L1213.8 493L1208.2 493.9L1202.9 493.6L1202.9 492.1L1205.9 491.3L1208.2 492.4L1210.8 492.4L1214.2 490.9M1204.4 499.2L1199.4 496.6L1202.9 495.8L1204.8 496.9L1206.3 497.9L1205.9 498.8L1204.4 499.2M1221.9 493.9L1222.4 495.8L1222.4 495.8L1219.8 498.4L1216.8 499.6L1216.4 498.8L1216.6 497.7L1218.2 495.4L1221.9 493.9L1225.4 492.1L1228 492.1L1229.4 491.7L1230.7 492.1L1229.4 493.2L1225.4 494.7L1221.9 493.9M1235.9 456.4L1233.3 454.6L1233.2 452.3L1231.8 453.8L1232.9 461.5L1233.7 463.9L1234.8 463.6L1233.3 459.1L1235.5 459.4L1233.7 458.3L1235.9 456.4L1235.9 456.4M1242.7 472.2L1238.5 471.1L1233.7 471.1L1232.9 473.3L1237 473.3L1240.7 473.5L1243.8 475.2L1243.8 473.3L1242.7 472.2M1230.3 473.7L1229.2 474.8L1226.5 474.1L1225.7 472.6L1229.5 472.2L1230.3 473.7M1256.2 464.9L1257.3 471.1L1261.4 473.3L1264.4 469.2L1268.5 466.9L1271.9 466.9L1275.3 468.2L1277.9 469.6L1282 470.3L1288.4 472.9L1295.5 475.2L1298.1 477.1L1300 478.9L1300.7 481.2L1306.8 483.4L1307.9 485.3L1304.4 485.7L1305.3 488.3L1308.6 490.6L1310.9 494.7L1313.1 494.7L1313.1 496.2L1315.8 496.9L1314.6 497.7L1318.8 499.2L1318.4 500.3L1315.8 500.5L1315 499.6L1311.6 499.2L1307.9 498.4L1304.9 496.2L1303 493.9L1300.8 490.9L1295.9 489.1L1292.9 490.2L1290.6 491.3L1291 494.2L1288 495.4L1282 494.7L1278.7 491.7L1274.9 490.9L1274.2 492.1L1269.3 492.1L1270.8 489.1L1273.4 487.9L1272.3 483.8L1270.4 480.8L1263.2 477.4L1260.3 477.4L1254.7 473.7L1253.5 475.6L1252 475.9L1251.3 474.4L1251.1 472.9L1248.2 471.1L1252.4 469.9L1255 469.9L1254.7 468.8L1249 468.8L1247.5 466.6L1244.2 465.8L1242.7 463.9L1247.9 463.2L1249.8 462.1L1255.7 463.6L1256.2 464.9M1323.6 476.1L1324.4 478.9L1323.2 481.2L1321.4 481.6L1320.6 482.3L1318.6 483.4L1316.5 484.2L1314.6 484.2L1311.6 483.1L1309.4 481.9L1309.8 480.8L1313.1 481.6L1315 481.2L1315.8 479.3L1316.1 479.3L1316.5 481.2L1318.8 481.2L1319.9 479.7L1321.8 478.6L1321.4 476.3L1323.6 476.1M1318.4 470.7L1319.1 469.9L1321.4 471.1L1324 472.6L1325.5 474.4L1327 475.6L1327.4 477.4L1326.3 478.6L1325.5 476.3L1324.8 474.8L1323.1 473.7L1321 471.8L1318.4 470.7M1333.8 480.4L1334.9 481.6L1336.4 483.8L1338.3 484.9L1337.9 486.1L1336.8 486.4L1335.3 484.9L1333.4 482.7L1332.6 479.7L1333.8 480.4M1340.1 486.1L1342.4 486.8L1343.9 487.9L1343.1 488.3L1341.6 487.6L1340.1 486.1L1340.1 486.1M1351.8 490.6L1352.9 491.7L1352.9 492.4L1349.9 490.9L1348 489.6L1346.5 488.3L1347.3 487.9L1348.8 489.1L1351.8 490.6M1351.8 495.1L1354.8 495.8L1355.9 496.6L1356.4 497.7L1355.1 497.7L1352.7 497.3L1351.8 496.6L1352.1 495.1L1351.8 495.1M1356.6 491.7L1358.1 494.7L1359.6 496.6L1358.9 497.3L1356.3 493.9L1355.5 491.7L1356.6 491.7M1359.6 498.8L1361.1 499.9L1362.3 501.1L1359.6 501.1L1358.1 498.8L1359.6 498.8M1368.3 535.9L1370.1 535.9L1373.9 538.5L1375 539.7L1378 541.9L1379.9 543.8L1378.4 544.5L1376.5 543.4L1373.9 541.9L1371.3 539.7L1369 537L1368.3 535.9M1378.8 519.4L1379.5 516.4L1380.3 520.2L1378 518.3L1378.8 519.4M1379.9 516.4L1380.6 519.4L1382.5 522.4L1381.4 522.8L1380.3 521.3L1380.3 520.2L1379.9 516.4M1287.6 500.7L1291.8 512.3L1292.9 514.9L1295.5 513.8L1298.5 516.7L1298.1 518.3L1298.9 521.7L1301.5 527.3L1301.1 529.2L1302.3 531.7L1306.4 533.7L1309 535.4L1311.3 537L1310.9 537.8L1313.1 540.4L1314.6 544.2L1316.1 543.4L1317.6 545.3L1318.4 544.5L1319.1 548.7L1323.6 552.4L1326.6 555.4L1327.4 558.4L1327.8 560.3L1327.4 562.9L1329.3 565.9L1328.9 569.3L1327.4 574.5L1327.4 576.4L1326.6 579L1325.1 582.8L1322.1 584.3L1320.6 587.3L1318.4 592.5L1316.9 594.4L1316.1 597L1315.4 599.7L1315.8 600.8L1313.5 602.3L1309.4 602.3L1306 603.8L1304.1 605.3L1301.9 606.8L1298.9 605.3L1296.6 604.5L1297 602.7L1295.1 603.4L1291.8 606L1288.4 604.9L1286.5 604.5L1284.3 604.2L1280.5 603L1278.2 600.8L1277.5 597.8L1276.8 595.5L1274.9 594.4L1271.2 594L1272.3 592.2L1271.5 589.5L1269.7 592.2L1266.3 592.9L1268.5 590.7L1268.9 588.4L1270.4 586.5L1270 583.9L1267 587.1L1264.8 588.4L1263.2 591.4L1260.3 589.9L1260.3 587.9L1258 585L1256.2 583.5L1256.9 582.8L1252 580.5L1249.4 580.5L1245.7 578.7L1238.9 579L1234 581.3L1229.9 581.7L1226.2 581.3L1222.4 583.2L1219 584.1L1218.3 586.2L1217.2 587.7L1213.8 587.7L1211.5 588L1208.2 587.3L1202.9 588L1200.7 589.9L1199.5 589.9L1197.7 590.7L1195.8 592.2L1193.2 591.8L1190.5 591.8L1186.8 589.5L1184.5 588.8L1184.5 586.5L1186.4 586.2L1187.2 585.4L1187.2 583.9L1187.5 581.3L1187.2 579L1185.3 575.3L1184.5 573L1184.5 571.2L1183 568.5L1183 567.4L1181.5 565.9L1180.8 562.9L1178.9 559.9L1178.2 558.4L1180 559.9L1178.5 556.5L1180.4 557.7L1181.5 559.2L1181.5 557.3L1179.7 554.3L1179.3 553.2L1178.5 552L1178.9 549.8L1179.7 549L1180 544.9L1179.7 544.9L1181.2 542.3L1181.5 544.9L1183 542.3L1186.4 541.2L1187.9 539.7L1190.9 538.2L1192.8 537.8L1193.5 538.2L1196.5 537L1198.8 536.7L1199.5 535.5L1200.7 535.4L1202.5 535.5L1206.7 534.4L1208.5 532.6L1209.7 530.7L1211.5 528.8L1211.9 525.4L1214.5 522.1L1216 525.4L1217.9 524.7L1216.4 522.8L1217.5 520.9L1219.4 521.7L1219.8 519.1L1221.7 517.2L1222.8 515.7L1224.7 514.9L1224.7 513.8L1226.2 514.2L1226.2 513.4L1229.9 512.3L1232.5 514.2L1234.8 516.4L1237 516.4L1239.3 516.7L1238.5 514.6L1240.4 511.6L1241.9 510.8L1241.5 509.7L1243 507.4L1245.3 506.3L1247.2 506.7L1250.5 505.9L1250.5 504.1L1247.5 502.9L1249.8 502.2L1252 503.3L1254.3 504.8L1257.3 505.6L1258.4 505.2L1260.7 506.3L1262.9 505.4L1264.4 505.6L1265.2 505.2L1266.8 507.1L1265.9 508.9L1264.4 510.4L1263.1 510.4L1263.7 511.9L1262.5 513.8L1261 515.7L1261.4 516.8L1264.4 519.1L1267.4 520.2L1269.3 521.3L1271.9 523.6L1273 523.6L1274.9 524.7L1275.7 525.8L1279 526.9L1281.7 525.8L1282.4 523.6L1283.2 522.1L1283.5 519.8L1284.6 516.8L1284.3 515.3L1284.3 514.2L1283.9 511.9L1284.6 508.9L1285 508.2L1284.6 507.1L1285.4 505.2L1286.1 502.9L1286.1 501.8L1287.6 500.7M1298.5 613.5L1302.3 614.7L1304.1 614.3L1307.1 613.5L1309.4 613.9L1309.8 618.4L1308.3 619.5L1307.9 622.5L1306.8 621.4L1304.1 624L1303.4 624L1300.8 623.7L1298.5 620.7L1298.1 618L1295.9 615L1295.9 613.2L1298.5 613.5M1402 613.9L1402.8 615.4L1405.6 613.9L1406.5 615.4L1406.5 617.3L1405.4 618.8L1402.8 621.7L1400.9 623.3L1402.4 625.2L1399.4 625.2L1396.4 626.3L1395.3 628.9L1393 632.7L1390 634.5L1388.1 635.3L1384.8 635.3L1382.5 634.2L1378.4 633.8L1377.6 632.7L1379.5 629.7L1384.4 625.9L1386.6 625.2L1389.6 624L1392.6 621.8L1394.9 619.9L1396.8 617.3L1397.9 616.2L1398.6 614.1L1401.3 612.4L1402 613.9M1408 596.3L1410.6 600L1411 597.4L1412.5 598.5L1413.1 601.5L1416.3 602.7M1415.1 612.8L1413.3 615.4L1410.3 616.9L1409.9 615.8L1408.4 615.4L1410.3 612.4L1409.1 610.2L1405 608.7L1405.4 607.2L1408 606L1408.4 603L1408.4 600.8L1406.9 598.2L1406.9 597.4L1405 595.9L1402.4 592.5L1400.5 589.9L1402 589.9L1404.3 591.8L1406.9 592.9L1408 596.3M811.5 317.3L810.4 320.3L810.7 321.5L810 323.3L807 321.8L805.1 321.5L799.9 319.6L800.6 317.7L804.7 318.1L811.5 317.3L811.5 317.3M787.9 306.1L790.1 308.7L789.7 313.6L787.9 313.6L786.4 314.7L784.9 313.6L784.9 309.1L784.1 306.8L786 307.2L787.9 306.1M789.4 302.3L787.9 305.3L786.4 304.6L785.2 302L786 300.8L788.6 299.3L789.4 302.3M842.2 326.7L844.1 327.8L847.1 327.8L850.1 327.8L849.7 328.6L852 328.2L851.6 329.3L846 329.7L846 329L841.5 328.2L842.2 326.7M876 329L876.7 327.8L879.7 327.8L883.1 326.7L880.5 328.6L880.9 329.4L877 330.8L875.2 330.5L874.5 329L876 329M1011.7 642.8L1014.3 643.9L1017.7 644.7L1018.1 645.4L1016.9 646.9L1011 647.3L1011 645L1011.7 642.8M170.4 389L169.6 389.7L168.9 389L168.9 388.2L168.1 386.7L169 385.7L168.9 384.8L171.5 385.6L173 387.5L170.4 389M168.1 383.3L167 383.3L165.9 382.2L166.2 381.8L167.4 382.2L168.5 382.6L168.1 383.3M162.1 380.7L160.6 380.7L159.9 379.6L161 379.2L162.3 380.7L162.1 380.7M156.1 378.2L155.4 378.5L154.2 377.7L155 377.3L155.7 377.3L156.1 378.2M523.9 655L528.4 652.7L531.6 653.7L533.9 652.2L536.9 653.8L535.7 655.2L530.7 656.3L529 655L525.8 656.7L523.9 655M123.1 214.2L128.4 212.7L136.6 210.9L139.6 210.9L139.2 212.7L147.1 212.7L144.1 210.5L139.6 209L137 207.1L133.2 205.6L128 204.1L130.2 202.2L137 202.2L141.5 200.4L142.6 198.5L146.4 197L150.1 196.6L157.2 194.7L160.6 195.1L166.2 192.9L171.9 194L174.9 195.5L176.4 194.7L182.7 195.1L182.4 195.9L188.4 196.6L192.1 196.2L200 197.4L207.1 197.7L210.1 198.2L215 197.4L220.6 198.5L224.8 199.2L231.8 200L237.8 201.9L241.6 202.2L245 200.7L249.5 199.6L255.1 200L260.7 198.5L266.7 197.4L269.3 198.9L272 198.1L273.1 196.2L275.7 196.6L281.7 200L287 197.4L287.3 200.4L291.8 199.6L293.3 198.5L297.8 198.9L303.8 200.4L312.5 201.9L317.7 202.6L321.5 202.2L326.3 204.1L321.1 206L327.8 206.7L338 206.4L341.3 205.7L345.1 207.9L349.2 206L345.5 204.5L347.7 203.2L352.4 203L355.2 202.6L358.6 203.4L362.3 205.6L366.4 205.2L372.8 207.1L378.8 206.4L384.4 206.4L383.7 204.1L387.1 203.4L393.1 204.9L393.1 208.2L395.3 205.2L398.3 205.2L400.2 201.5L396.1 199.2L391.6 197.7L391.9 193.6L396.4 191L401.3 191.4L405.1 193.2L410.3 197.4L406.9 199.2L414.1 200L413.7 203.7L418.9 200.7L423.4 203.4L422.3 206L425.7 208.6L429.8 206L432.4 202.6L432.8 198.5L438.1 198.9L443.7 199.2L448.6 201.1L448.9 203L446.1 205.2L448.6 207.1L448.2 209L441.1 211.6L435.8 212L431.7 210.9L430.6 212.7L427.2 216.1L426.1 217.6L421.6 220.2L416.3 220.6L413.3 222.1L412.9 224.5L408.8 225.1L403.9 228.1L400.2 232.2L398.7 235.2L398.3 239.7L403.9 240.1L405.4 243.9L407.3 246.5L412.6 245.7L419.7 247.2L423.4 248.7L426.1 250.6L430.6 251.7L434.7 253.2L440.7 253.6L444.8 254L444.4 257L445.6 260.7L448.2 264.9L453.8 268.6L456.8 267.5L458.7 263.4L456.8 257.7L454.2 255.5L460.2 254L464.3 251.4L466.6 248.7L466.2 246.1L463.6 242.7L459.1 240.1L463.6 236L461.7 232.6L460.6 227L463.2 225.9L469.6 227L473.3 227.4L476.7 226.6L480.1 227.7L484.5 230L485.7 231.5L492.4 231.5L492.4 234.9L493.5 239.5L496.9 240.1L499.9 242.4L505.2 240.1L508.9 236L511.2 234.5L514.2 237.9L519 242.4L523.2 247L521.7 249.5L526.5 251.4L536 254.7L538.5 255.9L540 258.9L542.7 259.6L544.2 260.7L544.5 265.2L541.9 266.4L539.3 267.8L532.9 269L528.4 272.3L522 272.7L513.8 272L508.2 272L504.4 272.3L501.4 275L496.5 276.5L491.1 281.7L486.8 285.1L489.8 284.4L496 279.5L503.7 276.5L509.3 276.1L512.7 278L509.3 280.2L510.4 284.4L511.5 287.3L516.4 289.2L522.8 288.5L526.5 284.3L526.9 287L529.2 288.5L524.7 290.7L516 293L512.7 294.5L508.2 297.5L505.5 297.1L505.2 293.7L511.9 290.7L505.9 290.7L501.8 291.5L502.3 292.6L498.4 294.5L494.3 295.7L490.5 296.7L488.7 299L487.9 299.7L487.9 302L489 303.8L490.5 303.8L490.2 302.7L491.3 303.5L491 304.6L488.7 305L486.8 305L483.8 305.7L480.1 306.1L477.1 307.2L482.7 306.5L483.8 307.2L478.6 308.3L476 308.3L474.8 308.7L476.1 309.1L475.2 311.7L472.6 314.7L471.4 313.6L470.3 312.5L471.1 314.5L471.8 315.1L471.8 316.6L470.7 318.1L468.8 321.1L469.6 318.5L467.7 317L466.9 313.6L466.6 315.5L467.3 317.7L464.7 317.3L467.3 318.5L467.3 322L468.5 322.2L468.8 323.3L469.6 327.1L466.9 330.1L463.2 331.2L460.6 333.5L458.7 333.5L456.8 335L456.4 336.1L452.3 338.7L450.1 340.6L448.6 342.8L447.8 345.5L448.6 348.1L449.8 351.1L451.6 353.7L451.6 355.6L453.1 359.7L453.1 362.3L453.1 363.8L451.9 366.1L450.8 366.5L448.9 366.1L448.6 364.6L447.1 363.5L445.2 360.5L443.3 357.5L442.6 356L443.5 353.5L442.6 351.5L439.6 348.5L438.1 347.7L434.3 349.6L433.6 349.2L431.7 347.5L429.4 346.6L425.3 347L421.9 346.6L418.9 347L417.4 347.3L418.2 348.5L418.2 350L418.9 350.7L418.2 351.1L416.7 350.7L415.2 351.5L412.6 351.5L409.9 349.2L406.6 349.6L403.9 348.8L401.7 349.2L398.3 350L394.9 353L391.2 354.5L389.3 356.3L388.2 357.8L388.2 360.5L388.6 362.3L389.3 363.5L387.8 366.8L387.1 369.5L386.7 374.7L386.3 376.6L387.1 378.5L388.2 380.3L388.9 383.3L391.6 386L392.3 388.2L393.8 390.1L397.9 390.8L399.4 392.7L402.8 391.6L405.4 391.2L408.4 390.5L410.7 389.7L412.9 388.2L414.1 386L414.2 383L414.8 381.8L417.4 380.7L421.6 380L424.6 380L426.8 380L427.9 380.7L427.7 382.6L425.7 384.5L424.9 387.1L425.7 387.5L424.9 389.3L424.2 392L423.1 391.2L422.3 391.6L423.1 392.7L422.3 394.6L422.7 396.8L421.9 398.7L420.1 400.9L422.7 401.7L423.8 400.9L425.7 401.3L429.4 401.3L430.9 400.6L433.2 400.9L434.8 400.6L436.9 401.3L439.2 402.8L440.7 403.2L441.8 404.3L441.1 405.4L441.4 406.9L440.3 409.6L440.3 412.2L440.3 414.1L439.6 415.9L439.7 417.1L438.8 417.8L439.6 419.7L440.7 421.6L442.2 423.1L444.1 424.6L445.2 426.1L445.2 426.8L447.1 426.8L448.2 427.6L450.1 427.2L451.6 426.4L453.8 425.7L454.9 424.6L457.2 424.8L459.1 425.3L460.6 425.9L462.1 427.2L463.4 427.9L465.4 428.3L468.1 425.7L469.6 425.3L469.6 423.8L470.3 420.8L472.6 418.9L474.8 418.9L475.2 418.2L478.2 418.6L481.2 416.7L482.7 415.7L484.4 414.1L485.7 414.1L486.8 415.2L486 416.3L485.7 417.4L483.8 417.8L484.9 419.4L484.9 421.6L483 423.4L484.5 426.4L486 426.4L487.2 423.4L485.9 422.3L485.7 419.4L490.2 417.8L489.8 416.1L491.3 414.8L492.4 417.4L495 417.8L497.7 419.7L497.7 421L501 421.2L505.2 420.6L507 422.3L510 422.7L512.3 421.6L512.3 420.8L516.8 420.4L521.3 420.4L518.3 421.6L519.4 423.4L522.4 423.4L525.4 425.3L525.8 428.3L527.9 428.3L529.2 429.1L531.8 430.6L534 433.2L534.2 435.1L535.5 435.1L539.3 438.2L543.8 438.8L547.2 438.1L551.1 438.8L555 440.3L559.2 443.3L559.5 444.8L561 444.8L561.8 446.9L564 453.4L566 454.2L566.3 456.6L563.3 459.8L564.4 460.9L571.2 461.3L571.2 465.1L574.2 462.8L578.7 463.9L585 466.4L586.9 468.4L586.2 470.7L590.7 469.6L597.8 471.4L603.5 471.4L609 474.4L613.9 478.6L616.7 479.7L619.9 479.9L621.4 481.2L622.5 485.7L623.3 487.9L621.8 494.3L619.9 496.7L614.5 501.8L612 506.3L609.4 509.3L608.3 509.7L607.3 512.3L607.5 519.4L606.4 525.1L606 527.7L604.9 529.2L604.2 534.1L600.4 538.9L600 542.7L596.8 544.5L595.9 546.7L591.8 546.7L586 548.1L583.3 549.8L579 550.9L574.7 553.9L571.5 557.7L571.2 560.3L571.5 562.5L570.8 566.3L570 568.2L567.4 570L563.3 576.7L559.9 579.8L557.3 581.3L555.8 585L553.2 587.3L551.7 589.5L547.5 591.6L544.5 590.9L542.7 591.4L539.3 589.5L536.7 589.9L534.4 587.7L534 589.5L538.9 592.9L538.2 595.5L540.8 597L540.4 598.9L536.9 603.8L531.4 605.7L523.9 606.4L519.8 606L520.5 608.3L519.8 611.3L520.4 613.2L518.1 614.3L514.2 615L510.8 613.5L509.3 614.7L509.7 618.4L512.3 619.5L514.2 618L515.3 620.3L511.9 621.4L508.9 623.7L508.5 627.4L507.4 629.3L504 629.3L501 631.5L499.9 634.2L503.7 636.8L507.4 637.5L506 640.9L501.4 643.2L499.2 647.7L495.8 649.2L494.3 650.7L495.4 654.8L497.9 656.8L496.2 656.7L492.8 655.9L487.7 658.9L487.2 662.3L485.7 662.7L481.2 661.2L477.1 658.5L472.4 656.7L471.1 654L472.3 651.8L470.3 649.5L469.9 643.2L471.4 639.4L475.6 636.4L469.9 635.3L473.3 632.3L474.6 625.9L478.9 627.2L480.8 619.5L478.2 618.4L477.1 623.3L474.8 622.5L475.9 617.3L477.1 610.2L478.9 607.9L477.8 604.2L477.4 600L478.9 599.7L481.4 593.7L483.8 587.7L485.7 582L484.5 576.4L485.7 573.4L485.3 568.9L487.5 564L488.3 556.9L489.4 549L490.5 540.8L490.2 534.8L489.4 529.2L485.7 527.3L485.3 525.8L478.2 522.1L471.4 517.9L468.4 515.3L466.9 512.3L467.3 511.2L464.3 506.3L460.6 499.6L457.2 492.1L455.7 490.2L454.2 487.6L451.6 484.9L448.7 483.4L450.1 481.9L448.2 478.2L449.3 475.6L452.3 473.3L454.2 470.7L453.5 468.8L451.9 470.7L449.8 468.8L450.4 467.9L450.1 464.7L451.2 463.9L451.9 461.7L453.4 459.1L453.1 457.6L455.3 456.8L457.6 455.3L457.2 454.2L458.7 453.8L458.3 451.9L459.4 450.8L461.3 450.4L462.8 448.2L464.3 446.3L462.8 445.2L463.6 442.9L462.8 439.6L463.6 438.8L462.8 435.4L461.3 433.6L461.9 431.7L463.2 432.1L462.8 428.7L460.2 429.4L459.4 429.1L458.7 427.9L456.8 426.8L454.9 427.2L454.2 428.3L452.7 429.4L451.6 430.2L453.4 432.4L451.9 433.2L450.1 433.6L449.3 431.3L447.8 431.7L447.1 430.2L444.4 429.4L442.9 429.4L442.6 430.2L440.3 429.1L439.6 427.9L439.9 426.4L438.8 425.7L436.2 424.6L435.8 423.4L434.8 422.7L435.1 423.8L434.3 424.6L432.1 423.4L431.7 421.6L432.1 420.3L431.3 419.7L432.1 418.9L429.1 416.3L426.4 413.7L424.6 412.2L425.7 412.2L425.3 410.7L423.8 411.3L420.4 410.7L416.7 409.9L413.7 408.4L411.4 408.4L407.7 406.2L403.2 402.1L401.3 400.9L398.3 399.8L396.3 400.2L393.1 401.5L391.2 401.9L388.6 400.9L385.9 400.2L382.6 398.3L379.6 398L375.4 396.1L372.1 394.4L371.3 393.5L369.1 393.2L365.3 392L363.8 390.3L359.7 388.2L357.8 385.8L357.1 384.1L358.2 383.7L357.8 382.6L358.6 381.5L358.6 380.3L357.4 378.5L357.1 377L355.9 375.1L352.6 371.3L348.8 368.7L346.9 366.1L343.6 364.6L343.2 363.8L343.6 361.6L341.7 360.5L339.5 358.6L338.7 356L336.5 356L334.2 353.7L332.7 352L332.3 350.7L330.5 348.1L329 345.1L329.1 343.6L326.3 342.1L325.2 342.5L323 341.3L322.6 342.8L323 344.7L323.3 347.3L324.8 349L327.5 351.5L328.2 352.6L329.3 354.1L330.5 356.3L331.6 357.5L332.7 358.6L335 360.5L336.1 364.2L337.2 365.7L338.3 367.6L338.3 369.5L340.2 369.5L341.7 371.3L343.2 372.8L343.2 373.6L341.5 375.1L341 375.1L339.8 372.8L337.4 370.6L334.6 368.7L332.7 368L333.1 365L332.3 363.1L330.5 362L327.8 360.1L327.5 360.8L326.7 359.7L324.1 359L321.8 356.7L322.3 356.3L323.7 356.7L325.2 355.2L325.2 353.3L322.6 350.7L320.3 349.6L318.8 347.3L317.3 345.1L315.8 342.1L314.3 338.7L313.6 336.8L311.3 334.6L309.5 334.2L309.1 333.1L306.8 332.7L305.7 332L302 331.4L301.2 330.8L300.8 328.6L297.1 324.8L294.1 319.8L294.1 318.8L292.4 317.7L289.6 314.5L288.8 311.3L287 309.5L287.7 306.5L287.7 303.1L286.6 300.1L288.1 296.7L288.8 290L288.1 284.7L287 281.7L285.8 279.8L286.2 279.1L291.8 280.6L293.7 284L294.8 282.8L294.1 279.8L293 276.8L292.3 276.8L285.1 273.2L282.5 271.6L275.7 270.1L273.5 266.7L274 264.5L269.3 262.6L268.6 259.6L264.1 257L264.1 255.1L261.8 253.6L258.6 252.5L257.5 249.1L252.8 246.1L250.6 242.7L247.2 242.4L241.2 242.4L236.7 241.2L228.8 237.5L225.5 236.7L218.7 235.2L213.6 235.6L206.4 233.7L201.9 232.2L197.7 233L198.5 235.7L196.2 236L192.1 236.7L188.7 237.9L184.6 238.6L183.9 236.7L185.7 233L189.9 231.9L188.7 230.7L183.9 233L181.2 235.2L176 238L178.6 239.7L175.2 242.7L171.1 244.2L167.4 245.4L166.2 246.9L160.6 248.7L159.5 250.6L155 252.1L152.4 252.1L149 252.9L145.2 254.4L141.9 255.5L135.5 256.6L135.1 255.9L139.2 254.4L142.6 253.2L146.7 251L151.2 250.6L153.1 249.1L158.4 246.9L159.1 246.1L162.1 244.6L162.7 242L164.7 239.7L160.2 240.9L159.1 240.1L156.9 241.6L154.6 239.7L153.6 240.9L152 239L148.2 240.5L146.1 240.5L145.6 238.2L146.4 237.1L144.1 235.6L139.2 236.4L135.9 234.5L133.6 233.7L133.4 231.5L130.6 230L132.1 227.7L135.1 225.9L136.2 224L139.4 223.6L141.9 224L144.9 222.5L147.9 222.5L150.5 221.4L149.9 219.9L147.9 219.1L150.5 217.6L148.2 217.6L144.1 218.4L143 219.5L140.4 218.4L134.9 219.1L129.5 218L128 216.5L123.1 214.2L123.1 214.2M496.2 657.8L497.5 659.7L499.4 662.5L504.2 664.7L509.5 665.7L507.8 667.5L504.2 667.7L502.3 666.4L500.1 666.3L496.1 666.3L493.9 668.6L491.1 667.5L487.2 667L482.3 664.9L478.6 662.9L473.3 658.7L476.7 659.5L481.9 661.9L486.8 663.3L488.7 661.5L489.9 659L493.4 657.4L496.2 657.8M478.6 168L479.1 166.6L493.2 164.7L507 162.9L508.5 161.5L498.4 160.2L501.6 158.7L514.5 156.1L520.2 155.7L518.5 154L527.3 153.1L538.9 152.4L550.5 152.4L554.5 153.5L564.4 151.6L573.4 152.9L578.7 153.2L586.5 154.4L577.5 152.4L578.1 150.8L590.7 148.6L603.8 148.6L608.7 147.5L621.8 147.1L651.8 147.5L675.4 150.5L668.3 152L654 152L633.8 152.4L635.6 153.1L648.9 152.7L660.4 153.9L667.5 152.7L670.6 154.2L666.4 156.3L676.1 155L694.1 153.5L705.5 154.2L707.6 155.7L692.3 158.4L690.2 159.3L678.2 159.9L687 160.2L682.5 162.9L679.5 165.3L679.6 169.6L684.1 171.9L678.2 172.2L672 173.4L679.1 175.2L679.9 178.4L675.9 178.8L680.8 182L672.4 182.4L676.9 183.9L675.5 185.1L670.3 185.7L665 185.7L669.8 188.4L669.8 189.9L662.3 188.4L660.4 189.5L665.6 190.3L670.5 192.5L671.8 195.6L665.3 196.2L662.3 194.9L657.8 192.9L658.9 195.3L654.4 197.4L664.5 197.4L669.6 197.7L659.5 200.9L649.3 203.8L638.4 205.2L634.2 205.2L630.4 206.7L625.1 210.6L617.1 213.2L614.5 213.3L609.5 214.2L604.2 215.1L600.9 217.5L600.9 220.1L598.9 222.6L592.8 225.6L594.3 228.5L592.6 231.6L590.7 235.2L585.4 235.5L579.9 232.4L572.4 232.4L568.8 230.4L566.3 226.7L559.8 222L557.9 219.6L557.4 216.2L552.2 212.7L553.5 210.1L551 208.6L554.7 204.3L560.4 202.9L561.9 201.3L562.6 198.4L558.4 199.7L556.3 200.2L552.9 200.8L548.4 199.6L548.1 197L549.6 195L553 195L560.7 196L554.2 193.6L550.9 192.3L547.2 192.9L544.1 191.9L548.2 188.4L545.9 187L543 184.4L538.5 180.5L533.7 179L533.7 177.4L523.7 175.2L515.7 175L505.7 175.1L496.5 175.4L492.2 174.2L485.7 171.8L495.5 170.7L503.1 170.4L487 169.5L478.6 168M521.5 209.9L520.2 212.4L513.8 216.9L509.3 215.4L503.3 211.6L498.4 212L498 214.2L501.8 216.5L507 218.4L508.5 219.1L510.8 222.9L509.7 225.5L504.8 224.7L495.4 221.7L500.7 224.7L504.8 227L505.2 228.5L495 227L487.2 224.7L482.7 222.9L483.8 221.7L478.2 219.9L472.9 218L472.9 219.1L462.1 219.9L458.7 218.4L461.3 215.7L468.4 215.7L476.1 215L474.8 213.9L476.3 212L480.8 208.2L480.1 206.7L478.6 205.2L472.9 203.4L465.1 202.2L467.7 201.5L463.6 198.9L460.2 198.9L457.3 197.4L455.3 198.5L448.6 199.2L435.1 198.2L426.8 197L420.8 196.6L417.8 195.1L421.6 193.6L416.3 193.6L415.2 189.9L418.2 186.5L421.9 185L431.7 183.9L428.7 186.1L431.7 188.7L435.2 185.7L444.8 184.1L451.2 188L450.6 190.4L458 189.3L461.7 187.8L469.9 189.9L475.2 191.4L475.6 193.2L482.7 192.1L486.4 194.7L495.4 196.2L498.8 197.7L502.3 201.1L495.4 203L504.2 205.2L510 206.4L515.7 209.7L521.5 209.9M321.5 185.7L325.2 186.5L323.3 188.2L332 187L337 188.9L341.3 187L344.7 188.4L347.7 191.9L349.6 190.4L346.9 186.5L350.3 186L354.1 186.6L358.2 188.1L360.4 191.7L361.6 194.4L367.9 196.2L374.8 198L374.3 199.7L368.3 200L370.6 201.4L369.4 202.8L362.7 202.2L356.1 201.2L351.8 201.4L344.7 202.7L335.3 203.2L328.6 203.7L326.5 201.9L321.5 200.8L318.1 201.2L313.6 198.3L315.8 197.9L321.8 197.2L327.1 197.4L332 196.7L324.6 195.9L316.6 196.2L311.3 196.2L318.1 193.2L312.1 193.2L305.7 192.3L308.9 189.5L311.3 188L321.5 185.7M301.6 192.9L291.8 194.7L290 193.2L281.3 191.1L285.5 186.9L288.8 184.2L285.1 182L297.8 181.4L303.1 182.4L312.5 182.4L316.2 183.5L320.3 185L315.5 186.1L306.5 188.7L301.6 191.4L301.6 192.9M409.9 153.5L427.2 152L444.4 149.7L456.1 149L467.5 148.6L469.6 149.1L480.4 148.6L488.3 148.6L496.5 149L506.7 149.3L514.5 149.7L521.5 150.9L521.3 151.6L512.3 153.5L503.1 154.2L499.7 155L507.8 155L499.2 157.2L492.8 158.4L486.4 161.4L478.9 162.1L476.3 162.9L465.1 163.2L470.3 163.6L467.7 164.4L470.7 166.2L467.3 167.4L461.3 168.5L459.4 170L454.2 171.1L454.9 171.9L461.3 171.8L461.3 172.6L451.2 174.9L441.4 173.9L430.6 174.5L424.9 174.1L417.8 173.7L417.4 172.1L424.2 171.1L422.3 168.5L424.7 168.2L434.8 170L429.8 167.4L423.6 166.6L426.4 164.2L433.2 164.4L434.3 163.1L429.1 161.7L427.6 159.7L437.7 159.9L440.7 160.2L446.5 158.7L438.1 158.4L424.9 158.7L418.2 157.2L415.2 155.7L410.7 154.8L409.9 153.5M427.2 161.7L431.7 163.2L426.4 164.4L419.7 167L412.9 167.4L405.1 167L401.1 165.3L401.3 164L404.1 162.9L397.3 162.9L393.1 161.7L390.8 159.9L396.1 157.2L399.8 156.9L398.3 156.1L406.9 155.9L411.8 158L418 158.7L424.2 159.5L427.2 161.7M402.4 172.7L409.9 172.6L413.3 173.9L412.3 175.4L416.7 176.2L418.9 177.1L424.2 177.2L429.4 177.5L435.4 176.7L443.1 176.4L449.3 176.7L453.2 178.1L454.2 179.7L451.7 180.6L446.1 181.5L441.4 181L430.6 181.6L422.9 181.6L416.8 181.2L406.9 180L405.6 177.9L405.1 176L401.3 174.5L393.6 174L389.3 172.8L390.6 171.3L398.3 171.5L402.4 172.7M347.7 174.9L349.2 176.2L352.6 175.6L356.3 175.7L357.1 177.5L354.8 179.4L342.1 179.9L332.7 181.6L327.1 181.6L326.3 180.5L334.2 178.6L317.3 179.2L312.1 178.6L317.1 174.9L320.7 173.7L331.2 175.2L338 177.3L344.4 177.6L339.1 174L342.5 172.6L346.4 173L347.7 174.9M376.9 183.7L381.4 184.6L388.2 184L389.3 185.1L385.8 186.9L391.6 188.5L390.8 191.9L384.4 193.4L381.1 193L374.7 189.5L369.1 188.7L369.1 187.5L376.9 188L372.8 185.5L376.9 183.7M403.9 187.7L399.8 190.5L395.7 190.4L393.3 187.1L393.4 185.2L395.3 183.6L399.1 182.6L406.9 182.7L414.1 183.6L408.4 187L403.9 187.7M384.1 173L387.1 174.6L387.1 176.6L385.3 179.4L379.2 179.7L375.1 179.1L375.2 177L369.1 177.3L368.8 174.3L372.8 174.5L378.5 173.2L383.8 173.4L384.1 173M394.8 201.5L392.4 202.8L387.4 201.6L384.4 202L379.2 200.4L382.6 199.2L385.2 197.6L389.1 198.6L391.3 199.3L392.5 200L394.8 201.5M434.1 214.4L434.8 216.1L436.7 215.5L438.9 216.5L442.9 217.7L447.3 218.9L447.6 220.7L450.4 220.4L453.1 221.6L449.7 222.9L443.9 221.9L441.8 220.2L438.1 222.2L432.8 224.2L431.4 222L426.4 222.3L429.6 220.5L430.2 217.6L431.3 214.1L434.1 214.4M317.7 169.4L317.3 172.2L314.3 173.6L310.8 173.8L303.8 175.4L297.8 176L292.8 175.2L299.1 172.4L306.8 170L312.5 170L317.7 169.4M357.8 163.2L365.3 163.7L375.4 165.1L378.2 167L379.6 168.5L373.6 168L367.4 166.8L358.9 166.6L362.7 165.5L358.2 164.7L357.8 163.2M340.2 169.2L333.3 170.4L327.8 169.2L330.8 167.9L336.1 167.6L341.5 168.1L340.2 169.2M468.8 204.5L471.8 205.6L471.8 207.1L471.4 207.9L468.8 208.8L464.7 209L463.8 207.1L465.4 205L468.8 204.5M456.1 227.4L454.7 229.6L453.1 229.2L451.9 228.1L452.3 227.7L456.1 227.4M441.2 224.7L446.3 224.7L446.3 225.5L441.8 227.4L439.2 227.4L438.5 226.4L441.2 224.7M543 270.5L540.4 273.8L542.9 272.5L545.4 273.3L544.2 274.6L547.5 275.7L549.1 274.7L552.9 275.9L551.7 278.7L554.3 278L554.8 280L556 282.5L554.4 285.6L552.8 285.8L550.2 285.1L551.1 282.1L550.2 281.5L545.7 284.7L543.4 284.6L546 282.9L542.5 282L538.4 282.2L531.2 282.1L530.6 281L532.9 279.7L531.3 278.6L534.5 276.4L538.3 270.4L540.6 268.3L543.9 267L545.6 267.1L544.9 268.1L543 270.5M513.4 284.3L514.7 286L517.5 286.6L520.9 286.6L519 288.1L517.7 288.2L512.9 286.6L511.9 285.5L513.4 284.3M511.5 273.6L512.8 273.2L517.7 274.2L521.7 275.7L521.7 276.5L519.8 276.5L514.9 275.3L511.5 273.6M290.3 278.7L288.5 279.1L282.1 277.6L281.1 276.1L277.8 275L277.1 273.8L273.2 273.1L271.8 271.1L272.1 270.2L276.1 271L278.3 271.6L281.9 272L283.2 273.3L285.1 275L288.8 276.6L290.3 278.7M254 257.5L255.8 258L259.4 257.7L258.3 261.9L261.5 264.9L260 264.9L257.8 263.2L256.4 261.5L254.5 260.3L253.8 258.7L254 257.5M179.7 246.5L176 248L174.1 246.9L173.5 245.1L176.9 243.9L179 243.2L181.4 243.5L183 244.6L179.7 246.5M109.6 221.4L111.9 222.1L114.1 221.7L117.1 222.7L120.9 223.2L120.5 223.6L117.9 224.4L114.9 223.6L113.5 222.9L110.2 223.2L109.2 222.9L109.6 221.4M132.6 236L130.3 236.5L127.8 235.8L125.5 234.9L129.2 234.2L132.2 234.5L132.6 236M444.8 373.6L448.2 374L451.2 374L454.6 375.1L456.1 376.6L459.6 376.2L461 377L464.3 379.4L466.6 381.1L467.7 381.1L469.9 381.8L469.7 383L472.6 383L475.3 384.5L474.8 385.4L472.3 385.9L469.8 386.1L467.3 385.8L461.8 386.1L464.4 384.1L462.8 383.1L460.4 382.8L459.1 381.7L458.2 379.6L456.1 379.7L452.7 378.7L451.6 377.9L446.7 377.3L445.3 376.6L446.7 375.7L443 375.5L440.3 377.4L438.8 377.5L438.2 378.4L436.4 378.8L434.8 378.5L436.7 377.3L437.6 375.9L439.3 375.1L441.2 374.4L444.1 374L444.8 373.6M478.9 386L481.2 386L484.5 386.7L484.9 386L487.9 386L490.2 387.1L491.1 386.9L491.8 388.2L493.8 388.2L493.7 389.3L495.4 389.4L497.3 390.8L495.8 392.3L494.1 391.5L492.3 391.7L491.1 391.5L490.4 392.1L489 392.4L488.4 391.5L487.2 392L485.7 394.6L484.7 394L484.5 392.9L482 392.3L480.3 392.5L478 392.3L476.2 393L474.2 391.8L474.5 390.6L478 391.1L480.8 391.4L482.2 390.6L480.5 389L480.5 387.5L478.1 386.9L478.9 386M462.5 391.2L465.1 391.6L467 392.5L467.7 393.5L465.1 393.6L463.9 394.2L461.8 393.6L459.7 392.2L460.1 391.4L461.7 391.1L462.5 391.2M504.9 391.2L506.8 391.5L507.5 392.2L506.5 393.2L503.7 393.2L501.5 393.3L501.3 391.7L501.8 391.1L504.9 391.2M462.8 371.3L460.9 369.5L459.4 368.3L460.2 366.1L461.3 366.1L462.8 369.5L462.8 371.3M461.7 359.7L464.7 360.8L463.9 363.5L463.2 361.2L461.7 359.7M457.3 360.1L459.1 359.7L461.5 360.1L461.7 360.8L457.6 361.6L457.3 360.1M522 420.1L524.3 419.7L525 422.7L521.7 423.1L521.1 422.7L522.2 421.6L522 420.1M78.5 778.2L82 776L88.8 777.2L93.2 775.9L99.6 777.5L104.3 776L116.2 775.1L119.7 776L127.2 777.6L137.8 778.6L146.2 779.8L160.7 780.6L171.5 779.6L187.5 780.4L196.5 781.5L206.4 780.5L216.8 779.4L217.6 777.6L202.9 777.5L190.8 776.6L187.6 775.1L177.5 774.3L178.2 772.7L179.6 771.1L181 769.7L180.3 768.2L174 767.1L171.1 765.8L165.3 764.6L174.4 764.9L183.1 764.3L188.5 765.5L195.2 764.4L201.4 763L204.4 761.8L203.1 760.2L198.3 759.2L192.7 758.1L185 757.9L178.3 757.4L171 757L168.6 755.6L163.7 754.4L160.8 753.1L159.6 748.8L161.4 749.2L164.8 750.4L171 750L177 749.5L180 751.1L186 750.8L191 749.9L195.7 748.9L199.9 747.7L205.6 747.3L205.5 745.9L204.1 744.5L205.2 743.2L210.1 742.5L212.3 743.8L218 743L222.3 742.1L227.7 742L232.7 741.6L237.8 740.7L241.9 740L246.4 739.1L249.4 739.4L251.9 739.7L257.5 739.1L262.5 739.8L267.7 739.7L272.6 739.2L277.6 739.6L283.2 740L288.4 739.8L293.9 739.9L299.4 740L304.6 739.8L308.4 738.7L312.9 738.1L317.6 738.9L322.1 738.3L326.2 736.9L328.6 738.1L329.9 739.4L332.3 740.7L336.2 739.6L340.7 741L345.8 741.4L350.1 742.4L355.4 742.2L360.1 741.6L365.8 741.7L370.9 742.2L376 742.9L378 741.3L375.6 740L373.8 738.7L368.9 738.4L366.8 737L366 735.6L364.6 732.8L367.5 733.3L372.4 733.6L377.3 733.3L381.7 733.9L385.5 735.1L387.1 736.4L392.2 736.6L397 736.1L402.2 735.3L406.8 734.9L410.6 735.8L415.6 735.5L418.8 732.6L421.9 734.3L426.2 735L430.9 734.6L434 736.1L438.9 736.2L443.4 736.7L447.9 737.4L450.8 736.1L452.3 734.8L456.1 736.2L461.2 735.8L465 736.7L467.6 737.9L472.6 737.5L476.5 736.7L480.3 735.8L484.8 735.2L490.1 734.8L494.9 734.3L498.6 733.5L500.8 732.3L501.7 730.7L501.2 729.2L500.1 727.7L498.7 726.2L497.6 724.7L496.6 723.4L496.4 722L496.7 720.5L498.5 719.1L500 717.5L500.6 716.1L499.8 714.5L499.4 713L501.2 711.3L503.3 710.2L505.7 708.8L508.3 707.6L511.3 706.5L512.7 704.9L514.8 703.9L517.2 702.9L520.8 702.7L523.1 701.5L525.8 700.8L528.8 700.4L531.6 699.4L533.7 698.2L536.6 697.8L538.8 698.8L537.4 700L533.6 701.1L532 701.9L529.2 701.3L526.1 701.7L523.5 702.5L520.8 703.5L519 704.6L518.5 706.1L518.7 707.5L520.5 708.7L517.9 709.6L514.4 709.9L512.3 711.2L510.1 712.3L507.8 713.9L507.2 715.3L508.5 716.9L510.5 718.1L513.6 718.9L516.4 720.1L518 721.6L518.8 723L519.9 724.4L521.6 725.7L522.8 727.1L523.2 730.6L524.4 731.9L524.7 733.4L525.8 734.9L525.3 736.9L523.2 738.4L521.1 739.7L516 740.2L514.4 741.5L512.1 742.7L506.4 744.2L501.5 744.7L496.7 745.5L491.7 746.3L488.7 747.9L482.6 748L476 747.9L470.1 748.2L463.8 748.2L464.9 749.6L470.7 750.3L474.9 751.4L477.2 752.7L473 753.8L466.6 753.5L461.2 754.4L460.9 757.4L465.2 758.7L466.1 760.1L470.8 761.5L478.8 762.1L485.5 763.1L490.9 764.3L497.7 765.5L507 766L516.2 767.1L522.6 768.2L529.6 769.4L533.3 771.2L535.1 772.6L539.6 771.3L545.8 770.1L552.3 769L560.1 768L566.8 767L576.1 766.9L585.3 767.4L592.9 768.3L595.3 766.7L600.5 765.6L610 765.5L617.4 764.7L624.4 763.9L632.2 763.4L640.5 762.7L646.3 761.8L643.7 760.5L642.1 759.1L642.1 757.7L634.8 757.9L627.1 758.5L619.7 758.5L618.7 757.1L619.2 754.3L620.9 753.5L626.3 752.6L632.6 751.7L640.9 750.4L645.1 748L650.2 747.4L655.3 746.9L657.9 746.6L663.7 746.4L669.2 745.9L673.8 745.2L678.4 744.3L682.5 743.4L687.7 742.2L691 741L694.5 739.9L695.6 738.4L691.6 737.5L693 736L695.4 734.8L699.3 734.1L703.5 733.2L707.3 732L710.2 730.6L712.1 728.8L714.8 727.8L719.3 728L721.1 729.2L725.6 729.4L725.7 728L727.6 726.5L731.7 726.9L732.6 728.3L737.1 728.5L741.9 727.9L746.6 727.4L750.9 727.6L752.5 729.2L756.6 727.9L760.5 727.3L764.7 726.7L768.9 726.2L772.7 725.3L776.9 724.7L780.1 724L782.4 722.6L785.2 723.6L789.1 723.1L791.8 724.8L793.9 726.1L798.2 725.4L799.9 724L803.7 722.9L808.6 723.1L810.1 724.5L813.2 723.1L817.2 722.7L821.6 722.5L825.6 722.6L829.8 723.1L833.8 723.3L835.6 724.5L838 725.6L842.1 725L846.5 724.8L850.8 724.8L854.9 724.7L858.7 724.2L862.7 723.8L866 722.8L869.5 722.1L873.3 721.7L876.2 720.7L878.2 718.7L880.4 717.4L884.3 718L885.7 719.3L888.9 720.2L892.8 719.9L895.5 721.2L898.3 722.2L902.1 721.3L903.4 719.7L906.8 719L910.7 717.8L914.4 717.2L918.8 716.5L921.7 715.7L924.8 714.8L927.7 714L931.2 714.5L934.6 713.2L937.1 712.1L940.6 712.2L943.7 711.3L944.4 710L947.6 709L950.6 708.2L954.4 707.6L957.8 707.3L961.1 707.6L964.7 707.9L967.7 709L968.1 710.6L971.4 711.8L973.6 712.9L978.1 713.3L980.6 714.3L983.7 715.3L987.3 715.6L990.3 714.8L993.5 713.3L997 714.1L1000.7 714.5L1004.2 715L1007.9 715.3L1011.7 715.3L1014.7 719.2L1014.6 720.1L1014.2 721.8L1010.6 722.8L1007.6 724.2L1008.1 725.6L1012.3 725.6L1011.8 727L1009.9 728.4L1008.1 730L1011 731.2L1015.3 731.5L1019.6 730.9L1021.7 729.4L1023 728L1025 726.8L1027.4 725.7L1028.3 724.4L1030.3 722.5L1032.7 722.2L1036.9 722L1040.7 721.6L1044.5 721L1046.3 719.5L1047.4 718.1L1050 716.8L1053.7 715.8L1056.8 715.1L1058.9 713.8L1061 713.2L1063.7 712.6L1067.5 712.9L1070.9 712.6L1074.5 712.1L1078.6 712.3L1081.4 711.3L1083.3 708.8L1084.7 709.8L1086.4 711.6L1089.6 712.3L1093.2 712.6L1096.8 712.2L1100.6 712.5L1104.1 712.6L1106.5 712.2L1109.6 712.4L1112.5 713.2L1115.9 712.7L1119.9 712.7L1123.4 712.2L1127.3 712.7L1129.7 711.5L1131.6 710.2L1134.2 709.2L1138.9 706.4L1141.4 706.9L1144.2 707.9L1146.7 709.3L1151.5 711.5L1155.1 711.6L1158.6 711.6L1162.6 711.2L1166.7 710.6L1169.8 709.6L1172.3 708.5L1176.5 708.4L1179.3 707.6L1182.3 708.3L1184.2 709.5L1186.8 710.6L1190.9 710.5L1193.5 711.5L1198 712.4L1202.7 712.8L1206.6 712.5L1209.5 711.3L1212 710.1L1215.4 709.8L1218.7 710.3L1222.6 710.7L1226.2 710.1L1229.5 710.1L1232.8 710.5L1236.3 710.9L1239.7 710.2L1243.7 709.6L1247.5 709.5L1251.8 709.5L1255.3 709.1L1258.6 708.8L1259.6 707L1259.8 705.4L1262.2 706.4L1262.8 708.1L1264.1 709.7L1265.6 710.9L1268.8 711.6L1273 711.4L1277.9 711.3L1281.3 711.1L1286.2 711.1L1289.7 711L1294.7 711.2L1298.9 711.5L1301.5 712.6L1300.8 714L1303.2 715.1L1307.2 716L1311.4 717L1316.3 717.6L1321.3 718.2L1325.1 718.8L1329.4 718.9L1331.8 717.6L1335.2 718.7L1338 719.8L1341.3 720.7L1345.9 721.1L1350.2 721.5L1352 723L1356.3 723.9L1359.1 725.2L1363.3 725.8L1367.7 725.7L1371.7 725.9L1376.2 725.9L1380.7 726.1L1384.9 726.7L1388.7 727.6L1392.6 728.3L1395.3 729.4L1394.8 730.9L1392.9 732.2L1391.2 733.9L1389.9 735.2L1388.1 736.7L1383.2 737.3L1381 738.6L1376.1 739.4L1374.4 740.9L1371.9 742.3L1369.1 743.5L1367.6 745L1366.6 746.4L1366.3 748.1L1366.3 749.5L1368.5 751L1369.3 752.4L1371 753.7L1378 754.2L1379.5 755.8L1372.7 756.4L1367 757.2L1359.9 757.4L1356.7 759.5L1356.1 761.3L1352.5 764.1L1357.5 765.3L1359.4 766.8L1362.6 768.2L1367.2 769.5L1372.4 770.7L1378 771.8L1386.6 773L1388.5 774.9L1399.3 775.7L1402.8 777L1413.2 776.1M496.7 726.6L497.2 728.3L496.5 729.8L495.5 731.2L491.1 731.7L486.9 732.4L482 732.3L483.8 730.9L475.2 731.9L472.4 730.8L472.1 729.2L476.2 727.8L478.8 727.3L483.2 727.5L484.2 725.6L484.5 724.2L484.4 721.2L486.5 719.4L490 718.8L492 720.2L492.8 721.6L494.4 723.3L495.7 724.9L496.7 726.6M369.7 730.1L372.1 729.5L376.8 730L382.3 730.3L386.4 730.8L390.5 730.3L392.7 732.5L389.8 732.2L385.2 732.3L380.6 732.2L375.5 732.4L371.7 731.7L369.7 730.1M590.9 760.6L585.1 761.8L579 762.7L571.9 763.6L564.1 764.4L555.2 764.1L550.3 762.9L550.9 761.3L559 760.3L562.2 759L564.6 757.4L566.2 756L568.5 754.7L570.9 753.2L572.8 753.2L578.4 752.4L584.1 753.2L588.7 754.8L590.3 757.1L590.8 758.7L590.9 760.6M139.6 755.3L141.8 753.8L148.8 754.4L152.5 755.6L155.4 756.9L156.4 758.6L149.2 759.1L144.3 757.8L142.1 756.5L139.6 755.3M298.9 736.1L303.8 736.7L308.3 736.1L306.1 737.4L302.6 738.3L297.4 738L293.6 736.7L294.4 735.5L298.9 736.1M282.6 736.1L288.3 737.5L286.1 737.4L281.3 737L276.2 736L278.9 735.2L282.6 736.1M530 760.7L528.9 762.6L527.8 764.3L519.9 763.7L511.6 764L506.9 762.7L506.9 762.6L504.8 761.5L513.3 761.6L521.4 762L524.1 760.4L526.1 759.1L530 760.7M536.3 697.9L538.9 697.5L543.8 697.1L545.3 698.3L541.2 699L536.3 697.9"/>
</g>
</g>
<rect class="fr" x="78.5" y="1117.3" width="1331" height="656"/>
<text class="ti" x="744" y="1091.8" xml:space="preserve">Ionosphere  (h=450.0 km), 2006-12-20 12:00 UT</text>
<rect x="78.5" y="1816.3" width="74.4" height="66" fill="#00009f"/>
<rect x="152.4" y="1816.3" width="74.4" height="66" fill="#0000df"/>
<rect x="226.4" y="1816.3" width="74.4" height="66" fill="#000cff"/>
<rect x="300.3" y="1816.3" width="74.4" height="66" fill="#0044ff"/>
<rect x="374.3" y="1816.3" width="74.4" height="66" fill="#0080ff"/>
<rect x="448.2" y="1816.3" width="74.4" height="66" fill="#00b8ff"/>
<rect x="522.2" y="1816.3" width="74.4" height="66" fill="#09f0ee"/>
<rect x="596.1" y="1816.3" width="74.4" height="66" fill="#36ffc1"/>
<rect x="670.1" y="1816.3" width="74.4" height="66" fill="#63ff94"/>
<rect x="744" y="1816.3" width="74.4" height="66" fill="#94ff63"/>
<rect x="817.9" y="1816.3" width="74.4" height="66" fill="#c1ff36"/>
<rect x="891.9" y="1816.3" width="74.4" height="66" fill="#eeff09"/>
<rect x="965.8" y="1816.3" width="74.4" height="66" fill="#ffcc00"/>
<rect x="1039.8" y="1816.3" width="74.4" height="66" fill="#ff9400"/>
<rect x="1113.7" y="1816.3" width="74.4" height="66" fill="#ff6000"/>
<rect x="1187.7" y="1816.3" width="74.4" height="66" fill="#ff2d00"/>
<rect x="1261.6" y="1816.3" width="74.4" height="66" fill="#df0000"/>
<rect x="1335.6" y="1816.3" width="73.9" height="66" fill="#9f0000"/>
<rect class="fr" x="78.5" y="1816.3" width="1331" height="66"/>
<line x1="78.5" y1="1882.3" x2="78.5" y2="1896.9" stroke="#000" stroke-width="3.33"/>
<text class="tk" x="78.5" y="1944.4">0</text>
<line x1="226.4" y1="1882.3" x2="226.4" y2="1896.9" stroke="#000" stroke-width="3.33"/>
<text class="tk" x="226.4" y="1944.4">5</text>
<line x1="374.3" y1="1882.3" x2="374.3" y2="1896.9" stroke="#000" stroke-width="3.33"/>
<text class="tk" x="374.3" y="1944.4">10</text>
<line x1="522.2" y1="1882.3" x2="522.2" y2="1896.9" stroke="#000" stroke-width="3.33"/>
<text class="tk" x="522.2" y="1944.4">15</text>
<line x1="670.1" y1="1882.3" x2="670.1" y2="1896.9" stroke="#000" stroke-width="3.33"/>
<text class="tk" x="670.1" y="1944.4">20</text>
<line x1="817.9" y1="1882.3" x2="817.9" y2="1896.9" stroke="#000" stroke-width="3.33"/>
<text class="tk" x="817.9" y="1944.4">25</text>
<line x1="965.8" y1="1882.3" x2="965.8" y2="1896.9" stroke="#000" stroke-width="3.33"/>
<text class="tk" x="965.8" y="1944.4">30</text>
<line x1="1113.7" y1="1882.3" x2="1113.7" y2="1896.9" stroke="#000" stroke-width="3.33"/>
<text class="tk" x="1113.7" y="1944.4">35</text>
<line x1="1261.6" y1="1882.3" x2="1261.6" y2="1896.9" stroke="#000" stroke-width="3.33"/>
<text class="tk" x="1261.6" y="1944.4">40</text>
<line x1="1409.5" y1="1882.3" x2="1409.5" y2="1896.9" stroke="#000" stroke-width="3.33"/>
<text class="tk" x="1409.5" y="1944.4">45</text>
</g>
<g id="panel3">
<clipPath id="cl2"><rect x="78.5" y="2102.1" width="1331" height="656"/></clipPath>
<g clip-path="url(#cl2)">
<rect x="76.5" y="2100.1" width="1335" height="660" fill="#0000c8"/>
<g transform="translate(0 1969.6)" fill-rule="evenodd">
<path d="M1097.4 256.5L1134.5 254.6L1174.5 253.9L1214.5 254.6L1254.5 256.8L1326.5 264.1L1414.5 278L1414.5 622L1406.5 616.3L1342.8 600.5L1314.5 595.2L1270.5 591.2L1202.5 587.6L1142.5 580.4L1118.5 579L1098.5 580.7L1070.5 585.5L1054.5 589.3L990.5 608.1L962.5 614.5L942.5 617.6L926.5 619L906.5 619.2L806.5 613.2L770.5 613.9L714.5 620.3L638.5 638.4L610.5 643.6L594.5 645.3L566.5 646.4L518.5 646L466.5 642.8L410.5 634.5L358.5 622.2L322.5 617.7L302.5 617.3L234.5 621.5L198.5 621.2L138.5 622.5L102.5 626L94.5 625.3L86.5 623.3L74.5 616L74.5 276.9L150.5 285L182.5 290.7L210.5 294.1L258.5 302.5L286.5 309L310.5 312.5L338.5 318L358.3 320.5L378.5 322.3L438.5 324.4L534.5 336.5L578.5 339L618.5 339.6L650.5 337.8L686.4 332.5L706.5 327.4L746.5 314.5L810.5 298.5L842.5 291.1L890.5 281.7L942.5 273.6L1022.5 263.4Z" fill="#0040ff"/>
<path d="M1073.6 288.5L1110.5 286.2L1154.5 285.5L1194.5 286.1L1238.5 288.6L1278.5 292L1346.5 300.8L1402.5 309.1L1406.5 310L1414.5 313.8L1414.5 579.3L1406.5 575L1398.5 572.7L1354.5 563.3L1330.5 559.3L1306.5 556.7L1254.5 554.1L1222.5 551.3L1158.5 542.1L1114.5 534L1098.5 533.2L1086.5 534.9L1062.5 541.4L1002.5 561.5L970.5 568.1L946.5 569.9L898.5 569.5L858.5 570.4L758.5 579.9L718.5 584.6L619.2 604.5L594.5 607.1L562.5 607.1L522.5 603.4L491.3 596.5L442.5 581.6L410.5 576L394.3 568.5L378.5 557.4L370.5 549.5L367 544.5L359.9 528.5L356.4 508.5L354.3 472.5L351.1 456.5L348 448.5L342.5 440.3L334.5 434.1L326.5 431.5L318.5 430.9L310.5 431.8L302.5 434.2L294.5 438.2L286.5 444.5L277 456.5L260.9 488.5L253.7 500.5L243.8 512.5L234.5 519.5L226.5 523.2L214.5 525.5L202.5 525.7L170.5 523.4L158.5 525L152.1 528.5L146.5 534.1L130.9 560.5L123.7 568.5L118.5 572.6L106.5 577.3L90.5 579.6L82.5 579.1L74.5 574.7L74.5 309.8L86.5 315L98.5 318.3L130.5 322L162.5 328.8L234.5 340.2L258.5 345.8L286.5 350.8L338.5 364.8L354.5 367.9L370.5 369.4L414.5 370.2L446.5 371.9L542.5 384.1L574.5 386.3L598.5 386.5L650.5 384.5L687.7 380.5L726.5 374.3L738.5 370.8L761.7 360.5L806.1 344.5L886.5 322.2L922.5 314L950.5 308.9L1038.5 293.6Z" fill="#00c0ff"/>
<path d="M1113.8 320.5L1194.5 321.3L1234.5 323.3L1270.5 326.9L1300.5 332.5L1316 336.5L1338.3 344.5L1352.8 352.5L1358.1 356.5L1362.5 362L1364.3 368.5L1363.8 372.5L1359.7 380.5L1346.5 398.1L1343.6 404.5L1342.1 412.5L1344.4 424.5L1358 452.5L1360.7 460.5L1361.2 472.5L1359.2 480.5L1357.1 484.5L1354.1 488.5L1346.5 494.4L1338.5 497.7L1326.5 500.4L1230.5 514.6L1214.5 514.6L1198.5 512.4L1185.5 508.5L1176.4 504.5L1166.5 498.2L1159.8 492.5L1147.6 476.5L1121.2 428.5L1114.5 421.1L1110.5 419.2L1106.5 418.7L1098.5 420.7L1082.5 430.9L1077.8 436.5L1076.5 444.5L1073.8 448.5L1058.2 460.5L1038.5 472.8L1022.5 481L1002.5 489.2L938.5 510.8L890.5 522.9L866.5 524.9L854.5 524.8L838.5 523L822.5 518.2L813.1 512.5L805.8 504.5L800.7 492.5L798 472.5L798.1 452.5L801.4 432.5L808.9 412.5L818.3 396.5L829.4 384.5L846.5 371.6L866.5 361.6L886.5 355.6L906.5 352.4L950.5 350.1L970.5 347.7L986.5 343.5L1014.5 332.4L1027.4 328.5L1046.2 324.5L1074.5 321.4ZM617.6 428.5L646.5 426.5L666.8 428.5L682.5 433.3L690.5 437.4L700.1 444.5L710.5 455.7L718.5 467.3L723.4 476.5L727.8 488.5L730.4 500.5L730.5 508.5L729.2 516.5L725.1 524.5L718.5 530.5L707.5 536.5L694.5 541L674.5 545.2L646.5 548.8L622.5 550.2L602.5 549.7L578.5 546.9L566.5 544.1L554.5 539.6L542.5 533.5L530.5 525.2L520.5 516.5L506.5 502.1L499.4 492.5L495.2 484.5L493.3 476.5L494.3 468.5L495.8 464.5L501.3 456.5L507.4 452.5L518.1 448.5L530.5 445.5Z" fill="#49ffad"/>
<path d="M899.9 384.5L918.5 384.6L934.5 387.5L949.8 392.5L964.3 400.5L972.8 408.5L977.2 416.5L978.2 424.5L976 436.5L971.9 444.5L960.8 456.5L946.5 467.2L930.5 475.7L910.5 483.9L890.5 489.3L878.5 490.3L865.9 488.5L858.5 485.4L850.5 479.8L843.7 472.5L838.5 464.2L834.5 452.8L833.9 444.5L834.5 436.5L837.4 424.5L840.8 416.5L845.7 408.5L853.2 400.5L858.5 396.3L866.5 391.7L874.5 388.6L886.5 385.9Z" fill="#b1ff46"/>
<path d="M885.4 420.5L894.5 419.1L902.5 419.9L910.5 423.8L914.2 428.5L915.4 432.5L914.7 440.5L910.6 448.5L906.5 452.4L898.5 455.5L890.5 456.5L886.5 456L882.5 454.2L877.1 448.5L873.7 440.5L873.8 432.5L875.4 428.5L878.5 424.5Z" fill="#ffd000"/>
</g>
<g transform="translate(0 1969.6)">
<path class="co" d="M731.3 326.3L733.5 326L738.8 328.6L742.5 328.2L745.5 329L751.1 326.7L757.1 324.1L765 322.6L772.5 322.6L782.6 322.2L790.1 320.7L795 321.5L793.1 324.1L793.1 326.3L795 328.6L793.9 330.5L791.2 333.5L794.6 334.6L796.5 336.1L802.9 337.2L810 339.1L812.2 342.8L815.6 343.6L824.2 347L828.4 345.1L828.7 340.2L834.4 337.2L838.1 337.6L843.4 340.2L847.9 342.1L855.4 342.8L861.7 344.7L865.5 343.6L869.6 342.1L874.5 343.2L875.6 348.1L876 353.7L880.1 358.6L882 362.7L886.5 370.6L887.2 374.3L891.7 378.1L892.8 381.8L892.8 387.1L894 390.5L897.3 393.1L899.6 397.6L901.1 402.1L903.7 404.3L907.8 406.2L913.5 411.8L915.7 414.1L915 417.1L916.5 418.2L919.5 421.6L922.1 421.6L925.8 420.1L929.6 418.9L933.3 418.6L937.8 418.2L942 416.7L945.7 416.3L945 418.6L946.1 421.6L943.8 424.9L941.2 429.8L940.1 430.6L937.1 438.1L935.2 440.7L932.2 444.8L929.6 447.4L925.8 450.8L923.2 453.1L918.3 456.8L915 459.4L912.7 462.1L909.3 466.9L906.7 469.2L903.7 472.6L902.2 475.9L900 479.7L898.8 483.8L900.7 486.1L901.5 490.6L900.7 493.2L901.5 494.3L902.6 498.1L904.1 499.2L905.6 501.1L905.2 505.6L905.6 509.3L905.6 513.8L906.3 515.7L906 517.9L903 521.3L900.3 523.6L895.8 525.1L891.7 527.7L889.5 531.1L886.1 532.9L884.2 534.8L883.5 537.4L884.6 538.9L886.1 541.2L886.5 544.5L886.5 550.2L886.1 552.4L881.6 553.9L877.1 555.4L875.6 558L876.7 561.8L875.2 567L871.5 570.4L869.6 572.7L866.6 577.2L863.6 580.2L858 584.3L852.7 587.3L849.4 588L846.4 588.8L841.5 588L836.2 588.4L832.1 589.5L828.4 591L825.7 589.9L822.4 588.4L822 583.2L821.6 579.4L818.2 574.5L815.2 567.8L811.9 564.4L810.4 560.3L809.2 554.3L807.7 550.2L807.4 545.3L805.5 541.9L803.6 538.9L801.4 534.4L799.1 531.1L797.6 525.4L797.2 522.4L799.1 517.6L800.2 511.2L803.6 507.8L804.7 504.8L805.1 501.8L804.7 499.9L802.9 496.6L802.9 493.6L801.7 489.1L799.5 483.4L799.1 482.7L798.7 479.3L797.6 478.6L795 475.2L790.9 471.4L788.2 468.4L786.4 464.7L786.4 463.2L788.6 459.1L789.4 456.4L790.1 453.1L789.7 449.3L789.7 445.6L786.7 443.3L784.5 443.3L779.6 444.1L775.9 444.4L773.6 441.4L770.2 436.9L766.1 436.6L762.4 436.9L757.9 437.7L752.6 439.9L745.5 442.9L742.1 441.4L738.4 440.7L732.8 441.4L724.5 444.1L719.6 441.8L712.9 436.9L710.3 434.7L706.5 432.8L703.9 428.7L702 424.9L698.3 420.4L694.9 415.9L690.8 414.1L691.1 409.9L687.8 405.4L691.5 400.6L693.4 392.7L692.3 389L689.3 382.6L689.6 380.3L693.8 371.7L697.9 366.5L699 362.7L703.9 359L705 356L709.5 353L715.1 350.3L717.4 346.6L716.6 342.8L718.9 339.5L724.9 334.6L727.9 333.1L730.1 329L731.3 326.3M938.2 505.6L940.5 511.6L941.6 516.1L942.7 518.3L940.1 518.7L939.7 523.9L938.6 527.7L937.1 532.6L935.2 537.4L933 544.5L931.5 549.8L929.6 554.3L923.6 556.5L918.3 554.3L917.2 550.5L915.7 546L915.7 542.3L918.3 537.4L920.2 533.3L919.1 528.1L918.3 525.8L919.8 521.3L924 520.6L927 519.8L929.6 517.6L932.2 515.3L933.3 512.7L936.3 509.7L936.7 507.4L938.2 505.6M874.5 343.2L880.1 344L882 342.8L884.2 339.1L885 336.5L886.8 332.3L888 327.8L889.1 323.3L886.5 323.3L883.5 322.6L880.5 324.8L875.2 325.2L869.6 323L868.1 322.6L864.7 324.8L861 323L856.9 323L855.7 319.2L853.9 316.6L853.9 313.2L851.6 312.5L855.7 309.1L862.1 309.1L862.9 306.1L870 306.5L874.5 304.2L879 303.1L885.3 303.1L891.7 305.7L897 307.2L904.8 306.8L909.3 305L909 300.8L904.5 299L898.5 294.5L894 293L891 291.1L893.6 290.3L896.6 287.3L894.7 285.8L900 283.2L896.6 284L893.6 284.3L891.3 285.5L887.6 285.8L884.6 287L884.6 289.2L886.5 290.3L890.2 290L889.5 291.5L885.3 292.2L880.5 294.1L878.2 293.3L879 291.8L875.2 290.7L875.6 290L879.4 288.5L878.2 287.7L872.2 287L872.2 285.5L868.5 285.8L867.4 288.1L864.4 290.7L864.4 291.8L861.4 292.2L860.6 296.7L858.4 298.2L857.2 300.8L858.4 303.1L858.7 304.6L862.1 305.7L861.4 306.5L856.9 306.8L855.4 308L852.4 309.8L850.9 308.3L851.2 307.6L848.6 307.2L846.7 307.2L842.2 308L844.9 310.2L843 310.6L840.7 310.6L838.9 308.7L838.1 309.5L838.9 311.7L840.7 313.6L839.6 314.7L841.5 316.2L843.4 317.3L843.4 319.2L840 318.5L841.1 320.3L838.9 320.7L840.4 324.1L837.7 324.1L834.7 322.6L833.2 319.6L832.5 317L831 315.1L829.1 313.2L829.1 312.1L826.1 309.5L825.7 308L826.5 304.2L826.1 303.5L824.2 302L822.7 301.2L819 299.7L816.7 298.6L813.4 297.5L810.4 294.8L811.1 294.5L809.2 293L809.2 291.5L807 291.1L805.5 292.6L804.7 291.5L804.7 290L805.5 289.6L802.5 289.2L799.5 290.3L799.9 292.2L799.5 293.3L800.6 295.2L804 297.1L805.9 300.1L810 303.5L813 303.5L814.1 304.2L813 305L816.4 306.1L819 307.2L822.4 309.1L822.7 309.8L822 311.3L819.7 309.5L816.7 309.1L814.9 311.3L817.9 312.8L817.5 314.7L815.6 315.1L813.7 318.1L812.2 318.5L812.2 317.3L813 315.1L813.7 314.5L812.2 312.5L811.1 310.6L809.6 309.8L808.5 308.3L806.2 307.6L804.4 306.1L801.7 305.7L798.7 304.2L795.4 301.6L792.7 299.7L791.6 296L789.7 295.6L786.7 294.1L784.9 294.8L783 296.3L781.1 296.7L781.5 297.8L777.7 299L770.6 297.8L765 299L764.6 301.2L764.6 303.5L761.2 306.1L756.4 306.8L756 308L753.7 310.2L752.2 313.2L753.7 315.5L751.5 317L750.7 319.6L748.1 320.3L745.5 323L740.6 323L736.9 323L734.6 324.5L733.1 326L731.3 325.6L730.1 324.1L729 322.2L725.3 321.5L723.8 322.6L720 322.2L720.8 319.2L720.4 317L718.5 316.6L717.8 315.5L718.1 312.8L719.6 311.3L720.4 307.6L720.4 306.1L719.6 305L719.6 303.5L719.6 300.8L718.1 299.3L723.4 296.7L727.9 297.1L733.1 297.1L737.3 297.8L740.3 297.5L746.3 297.8L748.1 295.6L748.9 288.1L745.1 284L742.1 282.1L736.5 280.6L736.1 278L741 277.2L747.4 278.3L746.3 273.8L749.6 275.7L758.2 272.7L759.4 269.7L762.7 269L765.7 268.2L767.6 267.1L771 261.5L776.2 260L779.2 260L780 259.2L783 259.2L783.7 260L786.4 258.1L785.6 256.6L785.2 254.4L783.7 252.5L783.7 248.7L784.5 246.9L785.2 246.5L788.6 246.1L790.1 245.4L793.1 244.2L792.7 246.1L791.6 247.2L792.4 248.4L794.2 248.7L793.5 250.2L792.4 249.9L789.4 252.5L790.5 254.4L788.2 255.1L790.5 255.9L794.2 256.6L794.2 258.1L798.2 257.4L800.2 256.2L804.4 257.7L806.2 258.9L808.9 257.7L814.9 256.2L819.4 254.7L823.1 255.5L823.5 256.6L827.2 256.6L831.7 255.1L833.2 253.6L832.5 250.6L832.5 247.6L834.4 245.4L837.7 243.9L840.7 246.9L843.7 246.9L844.5 243.9L844.9 241.6L843.7 242L841.1 240.9L840.7 238.6L845.6 237.5L850.5 237.1L854.2 237.9L858.4 237.5L862.5 235.6L858.7 233.7L852 234.1L845.2 235.2L839.2 236.4L837 234.1L833.2 233L834 229.2L832.5 225.9L834 223.6L837.4 221.4L846 217.2L848.6 216.5L848.2 215L843 213.1L836.6 214.2L832.9 216.9L833.6 219.1L827.6 222.1L820.1 225.5L817.5 230.7L820.1 233.4L823.9 235.2L820.5 239.5L816.4 240.5L814.9 246.9L813 250.2L808.5 249.9L806.2 252.9L801.7 252.9L800.6 249.5L797.6 245.4L794.6 239.7L792.4 237.5L784.9 242L779.6 242.7L774.7 240.9L773.2 236.7L772.1 228.1L775.5 225.9L785.6 222.5L792.7 218.7L799.9 213.5L808.9 206.4L814.9 203.4L825.4 198.9L833.6 197L839.6 197.4L845.2 194.4L852.4 194.4L859.1 193.6L870.7 196.2L865.9 197.4L870 199.6L873.7 198.5L880.1 200.7L890.2 201.5L904.5 206L907.5 207.5L907.5 210.1L903.3 212L897.3 213.1L880.5 210.1L877.9 210.9L883.8 213.5L884.2 215.4L884.2 219.1L889.1 220.2L892.1 221.4L892.5 219.5L890.2 217.6L892.8 216.5L901.8 218.7L904.8 217.6L902.6 215L911.2 211.2L914.6 211.6L918 212.7L920.2 210.1L917.2 207.9L919.1 205.6L916.5 203.4L927 204.5L928.8 206.7L924.3 207.1L924.3 209.4L927 210.5L933 209.7L933.7 207.5L941.6 205.6L954.7 202.2L957.7 202.6L954 204.9L958.5 205.2L961.1 204.1L968.2 203.7L973.8 202.2L978 204.5L982.5 202.2L978.3 200L980.6 198.9L991.5 200L996.7 201.1L1010.2 205.2L1012.8 203.4L1009.1 201.5L1008.7 200.4L1004.2 200L1005.7 198.5L1003.5 195.5L1003.5 194.4L1010.2 191L1012.8 187.6L1015.5 186.9L1025.6 187.6L1026.3 189.9L1022.6 192.9L1025.2 194L1026.3 196.6L1025.6 201.9L1029.7 204.1L1027.8 206.7L1020.7 212L1024.8 212.4L1026.3 211.2L1030.4 210.1L1031.6 208.2L1034.9 206.4L1032.7 204.5L1034.2 201.9L1030.1 201.5L1029.3 199.6L1032.3 195.9L1027.4 192.9L1034.2 190.2L1033.4 187.6L1035.3 187.2L1037.2 189.5L1035.7 193.2L1039.8 193.6L1037.9 191L1044.3 189.5L1052.2 189.5L1058.9 191.4L1055.6 188.4L1055.2 184.6L1061.9 183.5L1070.9 183.9L1078.8 183.5L1075.8 181.2L1080.3 179L1084.4 179L1091.9 177.1L1101.7 176.4L1102.8 175.6L1112.9 175.2L1115.9 176L1124.2 174.1L1131.3 174.1L1132.1 172.2L1135.8 170.7L1144.8 169.2L1151.2 170.4L1145.9 171.5L1154.5 172L1159 173L1169.9 173L1178.2 174.9L1181.2 176.4L1180.4 178.2L1176.3 179.4L1166.5 181.2L1163.5 182.4L1168 183.1L1173.7 183.9L1177 183.2L1178.9 185.7L1180.7 184.6L1186.8 183.9L1198.8 184.6L1199.5 186.5L1215.3 187L1215.7 184.2L1223.5 184.6L1229.5 184.6L1235.5 186.9L1237.4 189.1L1235.2 190.7L1239.7 193.6L1245.7 195.1L1249.4 191.4L1255.4 192.9L1261.8 191.7L1268.9 193.2L1271.5 192.1L1277.9 192.5L1274.9 189.1L1280.2 187.6L1313.9 189.9L1317.3 192.1L1326.9 195.1L1342 194.4L1349.5 194.7L1352.5 196.2L1352.1 199.2L1356.6 200.4L1361.9 199.6L1368.6 199.2L1375.4 200L1382.5 199.6L1389.3 203L1393.8 201.9L1390.8 199.2L1392.6 197.7L1404.3 198.9L1412.1 198.5M875.6 348.1L877.9 353.3L882 356.7L883.5 352.6L884.6 350L883.8 352.2L885 355.2L886.8 357.8L890.6 364.2L892.8 367.2L894 369.5L897.7 372.5L900 375.8L900 380.7L902.6 384.5L906.7 387.5L907.8 390.5L912 395L913.8 399.5L913.8 403.2L915.3 410.7L916.5 413.3L919.1 413.3L922.1 412.9L923.6 411.8L928.5 410.3L931.1 409.6L936 408.1L939.3 405.4L945.3 403.6L949.1 402.1L949.8 399.1L952.5 398L956.6 396.8L960.7 394.6L964.5 393.5L965.6 390.8L969.7 389.7L970.1 384.8L974.2 384.1L976.1 379.2L977.6 376.2L975.3 374.4L973.1 372.1L968.6 371L964.8 367.2L964.5 362.3L963.7 362.7L961.1 365.3L958.5 367.6L955.8 370.2L950.6 369.8L947.6 370.6L946.8 369.8L946.1 368.3L946.8 366.1L946.8 363.8L945.7 362.7L943.5 365L943.8 367.6L941.6 364.6L941.2 360.5L939 359L936.3 356.7L934.8 353.3L933.3 350.7L933.3 348.1L935.6 348.1L936.7 347L939.3 348.1L941.2 347.7L944.2 352.6L946.5 356L950.2 357.1L954 360.1L958.5 361.2L962.2 359.5L965.2 359L967.1 360.8L968.6 364.2L972.7 364.6L978.3 365.3L984 366.5L989.2 366.1L995.2 366.1L1002.3 365.3L1005 368L1006.1 371L1009.1 371.7L1013.2 375.1L1012.8 377.7L1017.7 382.2L1020.3 382.6L1025.6 380.3L1026.3 384.1L1026.3 389.3L1027.4 393.5L1028.9 400.6L1030.4 404.3L1032.3 405.8L1033.1 408.1L1034.2 412.9L1036.1 416.3L1037.2 418.2L1038.7 421.9L1040.6 427.2L1043.9 430.6L1046.9 427.2L1050.3 426.1L1049.2 424.9L1050.7 421.9L1052.9 421.6L1052.9 415.2L1054.1 411.8L1053.3 403.9L1054.4 400.9L1056.3 400.8L1061.6 398.3L1065.3 394.2L1070.9 389L1072.4 387.5L1077.7 384.8L1079.6 383L1079.6 380L1084.1 379.2L1086.7 379.2L1087.1 377.7L1089.7 378.5L1091.9 378.8L1093.1 376.6L1096.1 375.1L1097.6 377.3L1098.3 380.7L1099.8 383L1102.4 386L1104.7 386.7L1106.9 392.3L1107.7 395.7L1106.6 400.6L1108.8 401.3L1111.1 401.7L1115.2 399.1L1117.8 397.2L1119.3 400.2L1120.1 405.1L1121.2 409.6L1122.7 411.4L1122.3 415.6L1123.8 417.8L1123.1 423.4L1121.6 429.1L1121.9 431.3L1122.7 429.1L1124.6 430.9L1126.4 435.1L1128.7 436.2L1129.4 438.1L1129.1 440.7L1130.6 445.9L1133.2 450.1L1138.1 453.2L1141.4 456.1L1144.1 455.7L1144.1 454.6L1142.9 451.2L1141.1 450.1L1141.1 447.8L1141.1 444.8L1139.4 439.9L1137.3 437.7L1136.2 437.3L1134.3 435.4L1132.1 434.7L1130.2 432.8L1129.4 429.4L1127.9 426.1L1125.3 426.1L1125.3 419.5L1126.8 415.9L1128.3 414.4L1128.7 410.3L1131.3 413.3L1134.7 413.3L1138.1 414.8L1139.9 418.6L1141.4 420.8L1144.4 421.2L1147.8 423.1L1146.3 426.1L1147.4 428.3L1152.3 424.9L1155.3 421.6L1159.8 419.3L1162.8 416.7L1163.2 410.3L1161.7 403.2L1159.4 400.2L1156 398L1152.3 393.1L1149.7 389L1150.4 386.3L1153.4 383L1154.5 381.8L1158.7 379.6L1160.2 379.2L1165.4 380.3L1164.3 381.8L1165.4 384.5L1167.3 384.5L1167.3 381.5L1168.8 380.3L1172.5 379.6L1177.8 377.7L1180 376.2L1181.5 377.3L1183.8 375.5L1187.9 375.1L1193.2 372.1L1198.4 368.7L1201.8 364.2L1204.8 359L1207.4 355.2L1209.7 354.8L1210.4 351.8L1208.2 345.5L1210.4 344.7L1210.4 341.7L1207.8 338.7L1205.5 335.3L1200.3 329.7L1202.2 327.1L1204 325.2L1207.4 323L1212.3 322.2L1212.7 320L1206.3 318.5L1199.2 320.3L1196.2 317.7L1193.9 315.5L1195.8 313.6L1199.5 313.2L1201.8 311L1207.4 307.6L1209.3 307.2L1211.5 309.1L1208.5 311.3L1209.3 312.8L1207.4 314.7L1211.5 313.6L1219.4 311L1223.2 312.1L1223.5 312.8L1222.4 315.1L1220.9 317.7L1222 318.5L1226.5 319.2L1229.2 322.2L1226.2 323L1228 326.7L1227.3 329.7L1227.7 331.6L1231 331.2L1234 329.7L1237.4 329L1238.9 322.6L1237.8 320.3L1234.4 315.8L1232.5 313.6L1231 313.6L1231.4 311.3L1233.2 310.6L1237.8 308L1239.7 307.2L1239.7 304.6L1242.3 302L1243.8 302.3L1244.2 300.8L1249.4 298.2L1251.7 300.1L1253.9 300.1L1259.2 297.8L1271.5 287L1273 284.3L1278.7 279.1L1280.2 273.1L1280.5 268.6L1283.5 264.9L1283.2 261.5L1277.9 257.4L1273.8 257L1271.5 258.9L1267.8 258.2L1265.9 255.9L1259.9 255.5L1274.4 246.5L1286.5 239.4L1298.9 238.2L1310.1 238.6L1315 236.7L1320.6 240.1L1320.6 237.5L1326.3 239.7L1334.5 239L1331.5 236.4L1340.9 230.4L1350.6 228.9L1353.6 233.7L1363.4 229.6L1365.6 226.2L1370.1 225.9L1367.1 231.5L1360.4 234.5L1354 238.2L1347.3 242.7L1341.3 243.9L1337.9 247.6L1336 252.9L1337.9 261.1L1339.8 266.7L1341.3 269.3L1346.5 266L1347.6 261.9L1353.3 261.1L1354.8 257L1361.1 254.7L1359.6 253.2L1361.1 250.2L1364.9 249.9L1365.3 244.6L1361.1 243.9L1360.8 242.4L1365.3 238.6L1366.4 236L1371.6 236.7L1376.9 236.4L1375 234.9L1391.9 236L1393.4 234.5L1399 232L1408 228.9M78.5 202L87.5 204.9L97.6 208.6L97.2 210.9L99.9 212L98.7 209L108.9 209.7L116.4 213.2L112.6 215L106.6 215.4L106.2 218.7L104.7 219.5L101.4 219.5L98.4 218.4L93.5 217.2L92.7 215.4L89 215L84.5 215.4L82.6 214.2L83.4 212.7L78.9 213.5L80.7 215.4L78.5 216.9M937.5 286.6L940.8 285.8L945.3 284.3L948.3 285.1L952.1 284.7L952.8 287.3L952.1 290.7L949.1 290.3L945.7 291.1L945.7 293.7L942 293.3L942 294.5L944.2 295.6L945.7 299L950.2 300.1L951 301.6L949.8 303.1L950.2 303.8L951.3 306.5L951.7 307.2L953.6 310.6L951 310.6L952.5 313.2L955.5 314.3L954.7 318.5L955.5 321.1L955.1 322L949.5 323L943.8 322.2L941.2 320.3L937.8 319.6L936.7 317L936.7 315.1L937.8 314.3L938.6 312.8L939.3 309.8L942.3 309.5L941.2 308.7L939.3 308.3L937.5 305.7L935.6 303.8L931.5 299.4L931.8 296.7L928.5 293.3L932.2 289.6L935.6 288.8L937.5 286.6M732 272.7L739.9 272.3L742.5 270.5L746.3 270.8L750.4 270.1L755.6 270.1L758.6 268.6L755.6 267.5L757.1 266.4L759.7 263L755.2 262.2L753.7 260.7L751.9 256.2L749.2 255.9L747.4 252.1L745.9 251L741.8 250.6L745.5 247.2L745.9 244.2L741.8 244.2L738 244.6L741.8 240.9L734.6 240.9L732.4 245.4L730.5 247.6L732.4 253.2L734.6 254L735.4 255.1L739.9 255.9L742.1 258.1L742.1 260.4L736.1 260L737.6 264.5L733.5 265.6L734.7 267.1L740.6 267.8L737.3 268.6L733.9 273.1L732 272.7M730.1 258.5L730.9 261.1L727.9 264.5L721.1 266.7L716 266.4L718.9 262.2L717 258.5L722.3 255.5L724.9 254L728.3 253.6L732 255.9L730.1 258.5M699 211.2L698.3 213.9L702.4 216.5L697.5 219.1L686.6 221.7L683.3 222.5L667.9 220.8L671.6 219.1L663.5 217.2L670.1 216.5L670.1 215.4L662.3 214.6L664.5 212L670.5 211.6L676.1 214.2L681.8 212L686.6 213.1L692.6 211.2L699 211.2M810 161.7L811.5 160.6L817.1 160.2L822 161.7L834 164.5L824.6 165.9L822.7 168.9L819.4 169.6L817.5 172.6L813 172.6L805.1 170.4L808.5 169.2L802.9 168.1L795.4 164.7L792.4 161.7L802.9 160.6L804.7 161.7L810 161.7M822 161.7L830.2 158.4L835.5 159.1L839.2 158L848.6 159.1L856.1 160.2L850.5 162.5L839.6 162.9L828.7 162.1L822 161.7M846 168.5L837.7 170.4L831 169.2L833.6 168.5L831.4 167L839.2 166.2L840.7 167.7L846 168.5M946.5 190.6L950.2 192.5L954 193.6L961.8 195.9L969 195.5L966.7 194.4L961.1 192.1L963.3 189.5L961.8 185.7L954 184.2L957.3 184.6L954.7 187.6L950.2 189.9L946.5 190.6M954 184.2L963 180.9L961.8 179L970.5 177.1L982.8 174.5L995.2 174.1L1001.6 172.6L1009.1 172.2L1011.7 173.7L1009.1 174.9L995.6 176.7L984.3 178.2L972.7 182L967.1 185.7L961.1 189.1L954 184.2M1112.9 155.7L1120.4 158L1129.1 161.4L1127.9 164.7L1120.1 165.1L1109.6 164.4L1103.2 162.9L1100.2 160.2L1095.3 159.5L1105.1 156.9L1112.9 155.7M1126.1 168.5L1133.2 163.6L1138.8 163.2L1148.6 165.5L1147.4 167L1126.1 168.5L1126.1 168.5M1273.8 175.2L1283.9 175.2L1297.4 177.1L1294.4 180.1L1280.5 180.1L1274.4 180.9L1266.9 178.2L1268.9 176L1273.8 175.2M1301.1 178.6L1302.3 177.5L1309 178.2L1318.4 179L1314.3 180.5L1308.2 180.1L1301.1 178.6M1277.9 185.4L1281.3 183.9L1286.1 183.5L1291.4 185L1291.8 186.1L1286.1 186.1L1278.3 185.7L1277.9 185.4M78.5 192.5L78.9 192.1L87.5 193.2L87.1 194L83.4 194.7L78.5 195.1L78.5 192.5M1289.1 256.6L1290.6 263L1290.3 266.4L1291.8 270.5L1295.9 276.9L1290.3 275.7L1288 281L1291.4 285.1L1291.4 287.7L1288.4 285.5L1286.1 288.2L1285.4 285.1L1285.8 281.3L1285.4 277.2L1286.1 274.6L1286.5 269.5L1284.3 266L1284.6 260.7L1288 258.9L1286.5 257.4L1289.1 256.6M1285.4 289.6L1289.9 293.7L1295.5 295.7L1298.1 294.1L1298.9 298.2L1293.6 299.4L1290.3 303.1L1284.3 300.5L1282.4 304.6L1278.1 304.6L1277.5 300.8L1279.4 298.2L1283.5 297.8L1284.6 292.6L1285.7 289.6L1285.4 289.6M1281.9 305L1283.5 305.3L1285.4 310.6L1285.4 313.6L1281.9 317.3L1281.9 321.5L1280.5 324.5L1281.3 326.3L1279.4 329L1274.5 330.5L1267.8 330.8L1262.5 335L1259.9 333.8L1259.9 330.8L1253.2 331.6L1249 333.5L1244.5 333.5L1247.9 336.5L1245.7 342.5L1243.4 344.3L1241.5 342.8L1242.3 339.5L1240 338.3L1238.5 335.7L1242.3 334.6L1244.2 332.3L1247.9 330.5L1250.5 327.8L1258 326.7L1262.2 327.5L1265.9 320.7L1268.5 322.6L1274.2 318.8L1276 317.3L1278.7 312.8L1277.9 308.3L1279.4 306.1L1281.9 305M1258 332.7L1258.8 333.8L1256.5 336.1L1255 335L1253.2 335.7L1252 338L1249.8 336.9L1249.8 335L1251.7 332.7L1253.9 333.5L1255.4 331.6L1258 332.7M1210 369.1L1207.8 375.1L1205.9 378.1L1204 375.1L1203.7 372.1L1205.9 368.7L1208.9 365.7L1210.6 366.8L1210 369.1M1166.9 390.5L1163.9 392.3L1160.9 391.2L1160.5 387.8L1162.4 386.3L1166.5 385.2L1168.8 385.2L1169.5 386.7L1168 388.2L1166.9 390.5M1060.1 432.4L1059.3 436.2L1057.8 437.3L1054.4 438.2L1052.9 435.1L1052.2 429.8L1053.7 423.8L1056.3 425.7L1058.2 428.3L1060.1 432.4M1208.2 391.2L1210.4 392.3L1211.5 391.2L1211.9 392.3L1211.5 393.8L1212.7 396.5L1211.9 399.5L1209.7 400.9L1208.9 403.9L1209.7 406.9L1211.9 407.3L1213.4 406.9L1218.1 408.8L1217.9 411.1L1219 411.9L1218.7 413.7L1215.7 411.8L1214.2 409.6L1213.4 411.1L1210.8 408.8L1207.4 409.6L1205.5 408.4L1205.9 406.9L1207 406.2L1205.9 405.1L1205.5 406.6L1203.7 404.4L1202.9 402.8L1202.9 399.1L1204.4 400.6L1204.8 394.6L1205.9 391.2L1208.2 391.2M1208.9 411.4L1208.2 414.8L1206.3 412.9L1204.4 409.9L1207.8 410.3L1208.9 411.4M1223.9 414.8L1225 419.3L1222 418.2L1222 419.4L1223.2 421.6L1221.3 422.7L1221.3 420.1L1220.2 419.7L1219.4 417.4L1221.7 417.8L1221.7 416.3L1219.4 413.3L1222.8 413.7L1223.9 414.8M1213 423.1L1213.8 421.9L1214.4 419.7L1216.4 419.7L1215.7 421.9L1218.7 418.6L1218.2 421.9L1216.8 423.3L1215.7 425.7L1214.5 426.8L1212.3 424.2L1213 423.1M1210.8 421.6L1210.7 419.7L1210.8 417.8L1210.4 415.9L1212.7 417.1L1214.9 417.1L1214.9 418.6L1213 420.4L1210.8 421.6M1201.4 417.8L1202.2 420.8L1199.5 423.1L1197.7 425.7L1192.8 429.1L1194.7 426.4L1197.3 424.2L1199.5 421.6L1201.4 417.8M1227.3 429.1L1227.7 431.5L1227.7 433.6L1226.5 436.9L1225 433.2L1223.5 435.1L1224.7 438.1L1223.5 439.6L1219 437.3L1217.9 434.7L1219 432.8L1216.8 431.3L1215.7 432.8L1213.8 432.4L1211.2 434.7L1210.4 433.6L1211.9 430.6L1214.2 429.4L1216.4 427.9L1217.5 429.8L1220.5 428.7L1221.3 427L1223.9 426.9L1223.5 423.8L1226.5 425.7L1227.3 429.1M1195.4 445.2L1193.2 448.6L1195.8 451.9L1195.4 453.8L1199.5 457.2L1195 457.6L1193.9 460.2L1193.9 463.6L1190.5 466.2L1190.2 469.9L1188.7 475.6L1188.3 474.4L1184.2 475.9L1182.7 473.7L1180 473.3L1178.2 472.2L1173.7 473.7L1172.2 471.8L1169.5 471.8L1166.5 471.4L1166.2 466.6L1164.3 465.4L1162.4 462.4L1161.9 459.1L1162.4 455.7L1164.7 453.1L1167.3 454.2L1170.3 453.6L1171 450.4L1172.5 449.7L1177 448.9L1179.7 445.9L1181.5 443.7L1183.4 445.6L1184.2 444.4L1185.7 444.4L1186 440.3L1189 437.7L1190.9 434.7L1192.4 434.7L1194.3 436.6L1194.7 438.1L1200.3 440.3L1199.9 441.8L1197.3 441.9L1198 443.7L1195.4 445.2M1150 482.5L1145.9 482.7L1142.9 479.3L1138.1 476.3L1136.6 474.1L1133.6 471.1L1131.7 468.4L1128.7 463L1125.7 459.8L1124.4 456.8L1123.1 453.8L1119.7 451.2L1117.8 448.2L1114.8 445.9L1111.1 441.9L1110.7 439.9L1112.9 440.3L1118.9 441.1L1122.3 444.4L1124.9 447.1L1127.2 448.6L1130.6 452.7L1134.7 452.7L1137.7 455.3L1139.9 458.3L1142.6 460.2L1141.1 463.2L1143.3 464.7L1144.8 464.7L1145.2 467.3L1146.7 469.2L1149.3 469.6L1151.2 472.2L1150.4 476.7L1150 482.5M1160.5 486.1L1167.7 486.4L1168.8 484.9L1175.5 486.4L1177 489.1L1182.7 489.8L1187.2 492.1L1183 493.4L1178.9 491.7L1175.5 492.1L1171.4 491.7L1168 490.9L1163.5 489.4L1160.9 489.1L1159.4 489.8L1152.7 488.3L1151.9 486.4L1148.6 486.2L1151.2 482.7L1155.7 482.9L1158.7 484.2L1160.2 484.6L1160.5 486.1M1222.8 455.3L1219.8 459.1L1217.2 459.8L1213.4 459.1L1207.4 459.1L1204 459.8L1203.7 462.4L1206.7 465.8L1208.9 464.2L1215.7 462.8L1215.7 464.7L1213.8 463.9L1212.3 466.2L1208.9 467.7L1212.7 472.6L1211.9 473.7L1215.3 478.2L1215.3 480.4L1213 481.6L1211.5 480.4L1213.4 477.4L1209.7 478.7L1208.9 477.8L1209.3 476.3L1206.7 474.1L1206.9 470.3L1204.4 471.4L1204.8 481.2L1202.5 481.9L1201 480.8L1202.2 477.4L1201.4 473.7L1199.9 473.7L1198.8 471.1L1200.3 468.4L1200.7 465.8L1202.5 460L1203.3 458.3L1206.7 455.7L1209.7 456.8L1214.2 457.2L1218.7 457.2L1222.4 454.6L1222.8 455.3M1195.4 490.9L1196.9 492.1L1199.2 491.7L1199.9 493.2L1195.7 493.9L1193.2 494.3L1190.9 494.3L1192.4 492.4L1194.3 492.1L1195.4 490.9M1214.2 490.9L1213.8 493L1208.2 493.9L1202.9 493.6L1202.9 492.1L1205.9 491.3L1208.2 492.4L1210.8 492.4L1214.2 490.9M1204.4 499.2L1199.4 496.6L1202.9 495.8L1204.8 496.9L1206.3 497.9L1205.9 498.8L1204.4 499.2M1221.9 493.9L1222.4 495.8L1222.4 495.8L1219.8 498.4L1216.8 499.6L1216.4 498.8L1216.6 497.7L1218.2 495.4L1221.9 493.9L1225.4 492.1L1228 492.1L1229.4 491.7L1230.7 492.1L1229.4 493.2L1225.4 494.7L1221.9 493.9M1235.9 456.4L1233.3 454.6L1233.2 452.3L1231.8 453.8L1232.9 461.5L1233.7 463.9L1234.8 463.6L1233.3 459.1L1235.5 459.4L1233.7 458.3L1235.9 456.4L1235.9 456.4M1242.7 472.2L1238.5 471.1L1233.7 471.1L1232.9 473.3L1237 473.3L1240.7 473.5L1243.8 475.2L1243.8 473.3L1242.7 472.2M1230.3 473.7L1229.2 474.8L1226.5 474.1L1225.7 472.6L1229.5 472.2L1230.3 473.7M1256.2 464.9L1257.3 471.1L1261.4 473.3L1264.4 469.2L1268.5 466.9L1271.9 466.9L1275.3 468.2L1277.9 469.6L1282 470.3L1288.4 472.9L1295.5 475.2L1298.1 477.1L1300 478.9L1300.7 481.2L1306.8 483.4L1307.9 485.3L1304.4 485.7L1305.3 488.3L1308.6 490.6L1310.9 494.7L1313.1 494.7L1313.1 496.2L1315.8 496.9L1314.6 497.7L1318.8 499.2L1318.4 500.3L1315.8 500.5L1315 499.6L1311.6 499.2L1307.9 498.4L1304.9 496.2L1303 493.9L1300.8 490.9L1295.9 489.1L1292.9 490.2L1290.6 491.3L1291 494.2L1288 495.4L1282 494.7L1278.7 491.7L1274.9 490.9L1274.2 492.1L1269.3 492.1L1270.8 489.1L1273.4 487.9L1272.3 483.8L1270.4 480.8L1263.2 477.4L1260.3 477.4L1254.7 473.7L1253.5 475.6L1252 475.9L1251.3 474.4L1251.1 472.9L1248.2 471.1L1252.4 469.9L1255 469.9L1254.7 468.8L1249 468.8L1247.5 466.6L1244.2 465.8L1242.7 463.9L1247.9 463.2L1249.8 462.1L1255.7 463.6L1256.2 464.9M1323.6 476.1L1324.4 478.9L1323.2 481.2L1321.4 481.6L1320.6 482.3L1318.6 483.4L1316.5 484.2L1314.6 484.2L1311.6 483.1L1309.4 481.9L1309.8 480.8L1313.1 481.6L1315 481.2L1315.8 479.3L1316.1 479.3L1316.5 481.2L1318.8 481.2L1319.9 479.7L1321.8 478.6L1321.4 476.3L1323.6 476.1M1318.4 470.7L1319.1 469.9L1321.4 471.1L1324 472.6L1325.5 474.4L1327 475.6L1327.4 477.4L1326.3 478.6L1325.5 476.3L1324.8 474.8L1323.1 473.7L1321 471.8L1318.4 470.7M1333.8 480.4L1334.9 481.6L1336.4 483.8L1338.3 484.9L1337.9 486.1L1336.8 486.4L1335.3 484.9L1333.4 482.7L1332.6 479.7L1333.8 480.4M1340.1 486.1L1342.4 486.8L1343.9 487.9L1343.1 488.3L1341.6 487.6L1340.1 486.1L1340.1 486.1M1351.8 490.6L1352.9 491.7L1352.9 492.4L1349.9 490.9L1348 489.6L1346.5 488.3L1347.3 487.9L1348.8 489.1L1351.8 490.6M1351.8 495.1L1354.8 495.8L1355.9 496.6L1356.4 497.7L1355.1 497.7L1352.7 497.3L1351.8 496.6L1352.1 495.1L1351.8 495.1M1356.6 491.7L1358.1 494.7L1359.6 496.6L1358.9 497.3L1356.3 493.9L1355.5 491.7L1356.6 491.7M1359.6 498.8L1361.1 499.9L1362.3 501.1L1359.6 501.1L1358.1 498.8L1359.6 498.8M1368.3 535.9L1370.1 535.9L1373.9 538.5L1375 539.7L1378 541.9L1379.9 543.8L1378.4 544.5L1376.5 543.4L1373.9 541.9L1371.3 539.7L1369 537L1368.3 535.9M1378.8 519.4L1379.5 516.4L1380.3 520.2L1378 518.3L1378.8 519.4M1379.9 516.4L1380.6 519.4L1382.5 522.4L1381.4 522.8L1380.3 521.3L1380.3 520.2L1379.9 516.4M1287.6 500.7L1291.8 512.3L1292.9 514.9L1295.5 513.8L1298.5 516.7L1298.1 518.3L1298.9 521.7L1301.5 527.3L1301.1 529.2L1302.3 531.7L1306.4 533.7L1309 535.4L1311.3 537L1310.9 537.8L1313.1 540.4L1314.6 544.2L1316.1 543.4L1317.6 545.3L1318.4 544.5L1319.1 548.7L1323.6 552.4L1326.6 555.4L1327.4 558.4L1327.8 560.3L1327.4 562.9L1329.3 565.9L1328.9 569.3L1327.4 574.5L1327.4 576.4L1326.6 579L1325.1 582.8L1322.1 584.3L1320.6 587.3L1318.4 592.5L1316.9 594.4L1316.1 597L1315.4 599.7L1315.8 600.8L1313.5 602.3L1309.4 602.3L1306 603.8L1304.1 605.3L1301.9 606.8L1298.9 605.3L1296.6 604.5L1297 602.7L1295.1 603.4L1291.8 606L1288.4 604.9L1286.5 604.5L1284.3 604.2L1280.5 603L1278.2 600.8L1277.5 597.8L1276.8 595.5L1274.9 594.4L1271.2 594L1272.3 592.2L1271.5 589.5L1269.7 592.2L1266.3 592.9L1268.5 590.7L1268.9 588.4L1270.4 586.5L1270 583.9L1267 587.1L1264.8 588.4L1263.2 591.4L1260.3 589.9L1260.3 587.9L1258 585L1256.2 583.5L1256.9 582.8L1252 580.5L1249.4 580.5L1245.7 578.7L1238.9 579L1234 581.3L1229.9 581.7L1226.2 581.3L1222.4 583.2L1219 584.1L1218.3 586.2L1217.2 587.7L1213.8 587.7L1211.5 588L1208.2 587.3L1202.9 588L1200.7 589.9L1199.5 589.9L1197.7 590.7L1195.8 592.2L1193.2 591.8L1190.5 591.8L1186.8 589.5L1184.5 588.8L1184.5 586.5L1186.4 586.2L1187.2 585.4L1187.2 583.9L1187.5 581.3L1187.2 579L1185.3 575.3L1184.5 573L1184.5 571.2L1183 568.5L1183 567.4L1181.5 565.9L1180.8 562.9L1178.9 559.9L1178.2 558.4L1180 559.9L1178.5 556.5L1180.4 557.7L1181.5 559.2L1181.5 557.3L1179.7 554.3L1179.3 553.2L1178.5 552L1178.9 549.8L1179.7 549L1180 544.9L1179.7 544.9L1181.2 542.3L1181.5 544.9L1183 542.3L1186.4 541.2L1187.9 539.7L1190.9 538.2L1192.8 537.8L1193.5 538.2L1196.5 537L1198.8 536.7L1199.5 535.5L1200.7 535.4L1202.5 535.5L1206.7 534.4L1208.5 532.6L1209.7 530.7L1211.5 528.8L1211.9 525.4L1214.5 522.1L1216 525.4L1217.9 524.7L1216.4 522.8L1217.5 520.9L1219.4 521.7L1219.8 519.1L1221.7 517.2L1222.8 515.7L1224.7 514.9L1224.7 513.8L1226.2 514.2L1226.2 513.4L1229.9 512.3L1232.5 514.2L1234.8 516.4L1237 516.4L1239.3 516.7L1238.5 514.6L1240.4 511.6L1241.9 510.8L1241.5 509.7L1243 507.4L1245.3 506.3L1247.2 506.7L1250.5 505.9L1250.5 504.1L1247.5 502.9L1249.8 502.2L1252 503.3L1254.3 504.8L1257.3 505.6L1258.4 505.2L1260.7 506.3L1262.9 505.4L1264.4 505.6L1265.2 505.2L1266.8 507.1L1265.9 508.9L1264.4 510.4L1263.1 510.4L1263.7 511.9L1262.5 513.8L1261 515.7L1261.4 516.8L1264.4 519.1L1267.4 520.2L1269.3 521.3L1271.9 523.6L1273 523.6L1274.9 524.7L1275.7 525.8L1279 526.9L1281.7 525.8L1282.4 523.6L1283.2 522.1L1283.5 519.8L1284.6 516.8L1284.3 515.3L1284.3 514.2L1283.9 511.9L1284.6 508.9L1285 508.2L1284.6 507.1L1285.4 505.2L1286.1 502.9L1286.1 501.8L1287.6 500.7M1298.5 613.5L1302.3 614.7L1304.1 614.3L1307.1 613.5L1309.4 613.9L1309.8 618.4L1308.3 619.5L1307.9 622.5L1306.8 621.4L1304.1 624L1303.4 624L1300.8 623.7L1298.5 620.7L1298.1 618L1295.9 615L1295.9 613.2L1298.5 613.5M1402 613.9L1402.8 615.4L1405.6 613.9L1406.5 615.4L1406.5 617.3L1405.4 618.8L1402.8 621.7L1400.9 623.3L1402.4 625.2L1399.4 625.2L1396.4 626.3L1395.3 628.9L1393 632.7L1390 634.5L1388.1 635.3L1384.8 635.3L1382.5 634.2L1378.4 633.8L1377.6 632.7L1379.5 629.7L1384.4 625.9L1386.6 625.2L1389.6 624L1392.6 621.8L1394.9 619.9L1396.8 617.3L1397.9 616.2L1398.6 614.1L1401.3 612.4L1402 613.9M1408 596.3L1410.6 600L1411 597.4L1412.5 598.5L1413.1 601.5L1416.3 602.7M1415.1 612.8L1413.3 615.4L1410.3 616.9L1409.9 615.8L1408.4 615.4L1410.3 612.4L1409.1 610.2L1405 608.7L1405.4 607.2L1408 606L1408.4 603L1408.4 600.8L1406.9 598.2L1406.9 597.4L1405 595.9L1402.4 592.5L1400.5 589.9L1402 589.9L1404.3 591.8L1406.9 592.9L1408 596.3M811.5 317.3L810.4 320.3L810.7 321.5L810 323.3L807 321.8L805.1 321.5L799.9 319.6L800.6 317.7L804.7 318.1L811.5 317.3L811.5 317.3M787.9 306.1L790.1 308.7L789.7 313.6L787.9 313.6L786.4 314.7L784.9 313.6L784.9 309.1L784.1 306.8L786 307.2L787.9 306.1M789.4 302.3L787.9 305.3L786.4 304.6L785.2 302L786 300.8L788.6 299.3L789.4 302.3M842.2 326.7L844.1 327.8L847.1 327.8L850.1 327.8L849.7 328.6L852 328.2L851.6 329.3L846 329.7L846 329L841.5 328.2L842.2 326.7M876 329L876.7 327.8L879.7 327.8L883.1 326.7L880.5 328.6L880.9 329.4L877 330.8L875.2 330.5L874.5 329L876 329M1011.7 642.8L1014.3 643.9L1017.7 644.7L1018.1 645.4L1016.9 646.9L1011 647.3L1011 645L1011.7 642.8M170.4 389L169.6 389.7L168.9 389L168.9 388.2L168.1 386.7L169 385.7L168.9 384.8L171.5 385.6L173 387.5L170.4 389M168.1 383.3L167 383.3L165.9 382.2L166.2 381.8L167.4 382.2L168.5 382.6L168.1 383.3M162.1 380.7L160.6 380.7L159.9 379.6L161 379.2L162.3 380.7L162.1 380.7M156.1 378.2L155.4 378.5L154.2 377.7L155 377.3L155.7 377.3L156.1 378.2M523.9 655L528.4 652.7L531.6 653.7L533.9 652.2L536.9 653.8L535.7 655.2L530.7 656.3L529 655L525.8 656.7L523.9 655M123.1 214.2L128.4 212.7L136.6 210.9L139.6 210.9L139.2 212.7L147.1 212.7L144.1 210.5L139.6 209L137 207.1L133.2 205.6L128 204.1L130.2 202.2L137 202.2L141.5 200.4L142.6 198.5L146.4 197L150.1 196.6L157.2 194.7L160.6 195.1L166.2 192.9L171.9 194L174.9 195.5L176.4 194.7L182.7 195.1L182.4 195.9L188.4 196.6L192.1 196.2L200 197.4L207.1 197.7L210.1 198.2L215 197.4L220.6 198.5L224.8 199.2L231.8 200L237.8 201.9L241.6 202.2L245 200.7L249.5 199.6L255.1 200L260.7 198.5L266.7 197.4L269.3 198.9L272 198.1L273.1 196.2L275.7 196.6L281.7 200L287 197.4L287.3 200.4L291.8 199.6L293.3 198.5L297.8 198.9L303.8 200.4L312.5 201.9L317.7 202.6L321.5 202.2L326.3 204.1L321.1 206L327.8 206.7L338 206.4L341.3 205.7L345.1 207.9L349.2 206L345.5 204.5L347.7 203.2L352.4 203L355.2 202.6L358.6 203.4L362.3 205.6L366.4 205.2L372.8 207.1L378.8 206.4L384.4 206.4L383.7 204.1L387.1 203.4L393.1 204.9L393.1 208.2L395.3 205.2L398.3 205.2L400.2 201.5L396.1 199.2L391.6 197.7L391.9 193.6L396.4 191L401.3 191.4L405.1 193.2L410.3 197.4L406.9 199.2L414.1 200L413.7 203.7L418.9 200.7L423.4 203.4L422.3 206L425.7 208.6L429.8 206L432.4 202.6L432.8 198.5L438.1 198.9L443.7 199.2L448.6 201.1L448.9 203L446.1 205.2L448.6 207.1L448.2 209L441.1 211.6L435.8 212L431.7 210.9L430.6 212.7L427.2 216.1L426.1 217.6L421.6 220.2L416.3 220.6L413.3 222.1L412.9 224.5L408.8 225.1L403.9 228.1L400.2 232.2L398.7 235.2L398.3 239.7L403.9 240.1L405.4 243.9L407.3 246.5L412.6 245.7L419.7 247.2L423.4 248.7L426.1 250.6L430.6 251.7L434.7 253.2L440.7 253.6L444.8 254L444.4 257L445.6 260.7L448.2 264.9L453.8 268.6L456.8 267.5L458.7 263.4L456.8 257.7L454.2 255.5L460.2 254L464.3 251.4L466.6 248.7L466.2 246.1L463.6 242.7L459.1 240.1L463.6 236L461.7 232.6L460.6 227L463.2 225.9L469.6 227L473.3 227.4L476.7 226.6L480.1 227.7L484.5 230L485.7 231.5L492.4 231.5L492.4 234.9L493.5 239.5L496.9 240.1L499.9 242.4L505.2 240.1L508.9 236L511.2 234.5L514.2 237.9L519 242.4L523.2 247L521.7 249.5L526.5 251.4L536 254.7L538.5 255.9L540 258.9L542.7 259.6L544.2 260.7L544.5 265.2L541.9 266.4L539.3 267.8L532.9 269L528.4 272.3L522 272.7L513.8 272L508.2 272L504.4 272.3L501.4 275L496.5 276.5L491.1 281.7L486.8 285.1L489.8 284.4L496 279.5L503.7 276.5L509.3 276.1L512.7 278L509.3 280.2L510.4 284.4L511.5 287.3L516.4 289.2L522.8 288.5L526.5 284.3L526.9 287L529.2 288.5L524.7 290.7L516 293L512.7 294.5L508.2 297.5L505.5 297.1L505.2 293.7L511.9 290.7L505.9 290.7L501.8 291.5L502.3 292.6L498.4 294.5L494.3 295.7L490.5 296.7L488.7 299L487.9 299.7L487.9 302L489 303.8L490.5 303.8L490.2 302.7L491.3 303.5L491 304.6L488.7 305L486.8 305L483.8 305.7L480.1 306.1L477.1 307.2L482.7 306.5L483.8 307.2L478.6 308.3L476 308.3L474.8 308.7L476.1 309.1L475.2 311.7L472.6 314.7L471.4 313.6L470.3 312.5L471.1 314.5L471.8 315.1L471.8 316.6L470.7 318.1L468.8 321.1L469.6 318.5L467.7 317L466.9 313.6L466.6 315.5L467.3 317.7L464.7 317.3L467.3 318.5L467.3 322L468.5 322.2L468.8 323.3L469.6 327.1L466.9 330.1L463.2 331.2L460.6 333.5L458.7 333.5L456.8 335L456.4 336.1L452.3 338.7L450.1 340.6L448.6 342.8L447.8 345.5L448.6 348.1L449.8 351.1L451.6 353.7L451.6 355.6L453.1 359.7L453.1 362.3L453.1 363.8L451.9 366.1L450.8 366.5L448.9 366.1L448.6 364.6L447.1 363.5L445.2 360.5L443.3 357.5L442.6 356L443.5 353.5L442.6 351.5L439.6 348.5L438.1 347.7L434.3 349.6L433.6 349.2L431.7 347.5L429.4 346.6L425.3 347L421.9 346.6L418.9 347L417.4 347.3L418.2 348.5L418.2 350L418.9 350.7L418.2 351.1L416.7 350.7L415.2 351.5L412.6 351.5L409.9 349.2L406.6 349.6L403.9 348.8L401.7 349.2L398.3 350L394.9 353L391.2 354.5L389.3 356.3L388.2 357.8L388.2 360.5L388.6 362.3L389.3 363.5L387.8 366.8L387.1 369.5L386.7 374.7L386.3 376.6L387.1 378.5L388.2 380.3L388.9 383.3L391.6 386L392.3 388.2L393.8 390.1L397.9 390.8L399.4 392.7L402.8 391.6L405.4 391.2L408.4 390.5L410.7 389.7L412.9 388.2L414.1 386L414.2 383L414.8 381.8L417.4 380.7L421.6 380L424.6 380L426.8 380L427.9 380.7L427.7 382.6L425.7 384.5L424.9 387.1L425.7 387.5L424.9 389.3L424.2 392L423.1 391.2L422.3 391.6L423.1 392.7L422.3 394.6L422.7 396.8L421.9 398.7L420.1 400.9L422.7 401.7L423.8 400.9L425.7 401.3L429.4 401.3L430.9 400.6L433.2 400.9L434.8 400.6L436.9 401.3L439.2 402.8L440.7 403.2L441.8 404.3L441.1 405.4L441.4 406.9L440.3 409.6L440.3 412.2L440.3 414.1L439.6 415.9L439.7 417.1L438.8 417.8L439.6 419.7L440.7 421.6L442.2 423.1L444.1 424.6L445.2 426.1L445.2 426.8L447.1 426.8L448.2 427.6L450.1 427.2L451.6 426.4L453.8 425.7L454.9 424.6L457.2 424.8L459.1 425.3L460.6 425.9L462.1 427.2L463.4 427.9L465.4 428.3L468.1 425.7L469.6 425.3L469.6 423.8L470.3 420.8L472.6 418.9L474.8 418.9L475.2 418.2L478.2 418.6L481.2 416.7L482.7 415.7L484.4 414.1L485.7 414.1L486.8 415.2L486 416.3L485.7 417.4L483.8 417.8L484.9 419.4L484.9 421.6L483 423.4L484.5 426.4L486 426.4L487.2 423.4L485.9 422.3L485.7 419.4L490.2 417.8L489.8 416.1L491.3 414.8L492.4 417.4L495 417.8L497.7 419.7L497.7 421L501 421.2L505.2 420.6L507 422.3L510 422.7L512.3 421.6L512.3 420.8L516.8 420.4L521.3 420.4L518.3 421.6L519.4 423.4L522.4 423.4L525.4 425.3L525.8 428.3L527.9 428.3L529.2 429.1L531.8 430.6L534 433.2L534.2 435.1L535.5 435.1L539.3 438.2L543.8 438.8L547.2 438.1L551.1 438.8L555 440.3L559.2 443.3L559.5 444.8L561 444.8L561.8 446.9L564 453.4L566 454.2L566.3 456.6L563.3 459.8L564.4 460.9L571.2 461.3L571.2 465.1L574.2 462.8L578.7 463.9L585 466.4L586.9 468.4L586.2 470.7L590.7 469.6L597.8 471.4L603.5 471.4L609 474.4L613.9 478.6L616.7 479.7L619.9 479.9L621.4 481.2L622.5 485.7L623.3 487.9L621.8 494.3L619.9 496.7L614.5 501.8L612 506.3L609.4 509.3L608.3 509.7L607.3 512.3L607.5 519.4L606.4 525.1L606 527.7L604.9 529.2L604.2 534.1L600.4 538.9L600 542.7L596.8 544.5L595.9 546.7L591.8 546.7L586 548.1L583.3 549.8L579 550.9L574.7 553.9L571.5 557.7L571.2 560.3L571.5 562.5L570.8 566.3L570 568.2L567.4 570L563.3 576.7L559.9 579.8L557.3 581.3L555.8 585L553.2 587.3L551.7 589.5L547.5 591.6L544.5 590.9L542.7 591.4L539.3 589.5L536.7 589.9L534.4 587.7L534 589.5L538.9 592.9L538.2 595.5L540.8 597L540.4 598.9L536.9 603.8L531.4 605.7L523.9 606.4L519.8 606L520.5 608.3L519.8 611.3L520.4 613.2L518.1 614.3L514.2 615L510.8 613.5L509.3 614.7L509.7 618.4L512.3 619.5L514.2 618L515.3 620.3L511.9 621.4L508.9 623.7L508.5 627.4L507.4 629.3L504 629.3L501 631.5L499.9 634.2L503.7 636.8L507.4 637.5L506 640.9L501.4 643.2L499.2 647.7L495.8 649.2L494.3 650.7L495.4 654.8L497.9 656.8L496.2 656.7L492.8 655.9L487.7 658.9L487.2 662.3L485.7 662.7L481.2 661.2L477.1 658.5L472.4 656.7L471.1 654L472.3 651.8L470.3 649.5L469.9 643.2L471.4 639.4L475.6 636.4L469.9 635.3L473.3 632.3L474.6 625.9L478.9 627.2L480.8 619.5L478.2 618.4L477.1 623.3L474.8 622.5L475.9 617.3L477.1 610.2L478.9 607.9L477.8 604.2L477.4 600L478.9 599.7L481.4 593.7L483.8 587.7L485.7 582L484.5 576.4L485.7 573.4L485.3 568.9L487.5 564L488.3 556.9L489.4 549L490.5 540.8L490.2 534.8L489.4 529.2L485.7 527.3L485.3 525.8L478.2 522.1L471.4 517.9L468.4 515.3L466.9 512.3L467.3 511.2L464.3 506.3L460.6 499.6L457.2 492.1L455.7 490.2L454.2 487.6L451.6 484.9L448.7 483.4L450.1 481.9L448.2 478.2L449.3 475.6L452.3 473.3L454.2 470.7L453.5 468.8L451.9 470.7L449.8 468.8L450.4 467.9L450.1 464.7L451.2 463.9L451.9 461.7L453.4 459.1L453.1 457.6L455.3 456.8L457.6 455.3L457.2 454.2L458.7 453.8L458.3 451.9L459.4 450.8L461.3 450.4L462.8 448.2L464.3 446.3L462.8 445.2L463.6 442.9L462.8 439.6L463.6 438.8L462.8 435.4L461.3 433.6L461.9 431.7L463.2 432.1L462.8 428.7L460.2 429.4L459.4 429.1L458.7 427.9L456.8 426.8L454.9 427.2L454.2 428.3L452.7 429.4L451.6 430.2L453.4 432.4L451.9 433.2L450.1 433.6L449.3 431.3L447.8 431.7L447.1 430.2L444.4 429.4L442.9 429.4L442.6 430.2L440.3 429.1L439.6 427.9L439.9 426.4L438.8 425.7L436.2 424.6L435.8 423.4L434.8 422.7L435.1 423.8L434.3 424.6L432.1 423.4L431.7 421.6L432.1 420.3L431.3 419.7L432.1 418.9L429.1 416.3L426.4 413.7L424.6 412.2L425.7 412.2L425.3 410.7L423.8 411.3L420.4 410.7L416.7 409.9L413.7 408.4L411.4 408.4L407.7 406.2L403.2 402.1L401.3 400.9L398.3 399.8L396.3 400.2L393.1 401.5L391.2 401.9L388.6 400.9L385.9 400.2L382.6 398.3L379.6 398L375.4 396.1L372.1 394.4L371.3 393.5L369.1 393.2L365.3 392L363.8 390.3L359.7 388.2L357.8 385.8L357.1 384.1L358.2 383.7L357.8 382.6L358.6 381.5L358.6 380.3L357.4 378.5L357.1 377L355.9 375.1L352.6 371.3L348.8 368.7L346.9 366.1L343.6 364.6L343.2 363.8L343.6 361.6L341.7 360.5L339.5 358.6L338.7 356L336.5 356L334.2 353.7L332.7 352L332.3 350.7L330.5 348.1L329 345.1L329.1 343.6L326.3 342.1L325.2 342.5L323 341.3L322.6 342.8L323 344.7L323.3 347.3L324.8 349L327.5 351.5L328.2 352.6L329.3 354.1L330.5 356.3L331.6 357.5L332.7 358.6L335 360.5L336.1 364.2L337.2 365.7L338.3 367.6L338.3 369.5L340.2 369.5L341.7 371.3L343.2 372.8L343.2 373.6L341.5 375.1L341 375.1L339.8 372.8L337.4 370.6L334.6 368.7L332.7 368L333.1 365L332.3 363.1L330.5 362L327.8 360.1L327.5 360.8L326.7 359.7L324.1 359L321.8 356.7L322.3 356.3L323.7 356.7L325.2 355.2L325.2 353.3L322.6 350.7L320.3 349.6L318.8 347.3L317.3 345.1L315.8 342.1L314.3 338.7L313.6 336.8L311.3 334.6L309.5 334.2L309.1 333.1L306.8 332.7L305.7 332L302 331.4L301.2 330.8L300.8 328.6L297.1 324.8L294.1 319.8L294.1 318.8L292.4 317.7L289.6 314.5L288.8 311.3L287 309.5L287.7 306.5L287.7 303.1L286.6 300.1L288.1 296.7L288.8 290L288.1 284.7L287 281.7L285.8 279.8L286.2 279.1L291.8 280.6L293.7 284L294.8 282.8L294.1 279.8L293 276.8L292.3 276.8L285.1 273.2L282.5 271.6L275.7 270.1L273.5 266.7L274 264.5L269.3 262.6L268.6 259.6L264.1 257L264.1 255.1L261.8 253.6L258.6 252.5L257.5 249.1L252.8 246.1L250.6 242.7L247.2 242.4L241.2 242.4L236.7 241.2L228.8 237.5L225.5 236.7L218.7 235.2L213.6 235.6L206.4 233.7L201.9 232.2L197.7 233L198.5 235.7L196.2 236L192.1 236.7L188.7 237.9L184.6 238.6L183.9 236.7L185.7 233L189.9 231.9L188.7 230.7L183.9 233L181.2 235.2L176 238L178.6 239.7L175.2 242.7L171.1 244.2L167.4 245.4L166.2 246.9L160.6 248.7L159.5 250.6L155 252.1L152.4 252.1L149 252.9L145.2 254.4L141.9 255.5L135.5 256.6L135.1 255.9L139.2 254.4L142.6 253.2L146.7 251L151.2 250.6L153.1 249.1L158.4 246.9L159.1 246.1L162.1 244.6L162.7 242L164.7 239.7L160.2 240.9L159.1 240.1L156.9 241.6L154.6 239.7L153.6 240.9L152 239L148.2 240.5L146.1 240.5L145.6 238.2L146.4 237.1L144.1 235.6L139.2 236.4L135.9 234.5L133.6 233.7L133.4 231.5L130.6 230L132.1 227.7L135.1 225.9L136.2 224L139.4 223.6L141.9 224L144.9 222.5L147.9 222.5L150.5 221.4L149.9 219.9L147.9 219.1L150.5 217.6L148.2 217.6L144.1 218.4L143 219.5L140.4 218.4L134.9 219.1L129.5 218L128 216.5L123.1 214.2L123.1 214.2M496.2 657.8L497.5 659.7L499.4 662.5L504.2 664.7L509.5 665.7L507.8 667.5L504.2 667.7L502.3 666.4L500.1 666.3L496.1 666.3L493.9 668.6L491.1 667.5L487.2 667L482.3 664.9L478.6 662.9L473.3 658.7L476.7 659.5L481.9 661.9L486.8 663.3L488.7 661.5L489.9 659L493.4 657.4L496.2 657.8M478.6 168L479.1 166.6L493.2 164.7L507 162.9L508.5 161.5L498.4 160.2L501.6 158.7L514.5 156.1L520.2 155.7L518.5 154L527.3 153.1L538.9 152.4L550.5 152.4L554.5 153.5L564.4 151.6L573.4 152.9L578.7 153.2L586.5 154.4L577.5 152.4L578.1 150.8L590.7 148.6L603.8 148.6L608.7 147.5L621.8 147.1L651.8 147.5L675.4 150.5L668.3 152L654 152L633.8 152.4L635.6 153.1L648.9 152.7L660.4 153.9L667.5 152.7L670.6 154.2L666.4 156.3L676.1 155L694.1 153.5L705.5 154.2L707.6 155.7L692.3 158.4L690.2 159.3L678.2 159.9L687 160.2L682.5 162.9L679.5 165.3L679.6 169.6L684.1 171.9L678.2 172.2L672 173.4L679.1 175.2L679.9 178.4L675.9 178.8L680.8 182L672.4 182.4L676.9 183.9L675.5 185.1L670.3 185.7L665 185.7L669.8 188.4L669.8 189.9L662.3 188.4L660.4 189.5L665.6 190.3L670.5 192.5L671.8 195.6L665.3 196.2L662.3 194.9L657.8 192.9L658.9 195.3L654.4 197.4L664.5 197.4L669.6 197.7L659.5 200.9L649.3 203.8L638.4 205.2L634.2 205.2L630.4 206.7L625.1 210.6L617.1 213.2L614.5 213.3L609.5 214.2L604.2 215.1L600.9 217.5L600.9 220.1L598.9 222.6L592.8 225.6L594.3 228.5L592.6 231.6L590.7 235.2L585.4 235.5L579.9 232.4L572.4 232.4L568.8 230.4L566.3 226.7L559.8 222L557.9 219.6L557.4 216.2L552.2 212.7L553.5 210.1L551 208.6L554.7 204.3L560.4 202.9L561.9 201.3L562.6 198.4L558.4 199.7L556.3 200.2L552.9 200.8L548.4 199.6L548.1 197L549.6 195L553 195L560.7 196L554.2 193.6L550.9 192.3L547.2 192.9L544.1 191.9L548.2 188.4L545.9 187L543 184.4L538.5 180.5L533.7 179L533.7 177.4L523.7 175.2L515.7 175L505.7 175.1L496.5 175.4L492.2 174.2L485.7 171.8L495.5 170.7L503.1 170.4L487 169.5L478.6 168M521.5 209.9L520.2 212.4L513.8 216.9L509.3 215.4L503.3 211.6L498.4 212L498 214.2L501.8 216.5L507 218.4L508.5 219.1L510.8 222.9L509.7 225.5L504.8 224.7L495.4 221.7L500.7 224.7L504.8 227L505.2 228.5L495 227L487.2 224.7L482.7 222.9L483.8 221.7L478.2 219.9L472.9 218L472.9 219.1L462.1 219.9L458.7 218.4L461.3 215.7L468.4 215.7L476.1 215L474.8 213.9L476.3 212L480.8 208.2L480.1 206.7L478.6 205.2L472.9 203.4L465.1 202.2L467.7 201.5L463.6 198.9L460.2 198.9L457.3 197.4L455.3 198.5L448.6 199.2L435.1 198.2L426.8 197L420.8 196.6L417.8 195.1L421.6 193.6L416.3 193.6L415.2 189.9L418.2 186.5L421.9 185L431.7 183.9L428.7 186.1L431.7 188.7L435.2 185.7L444.8 184.1L451.2 188L450.6 190.4L458 189.3L461.7 187.8L469.9 189.9L475.2 191.4L475.6 193.2L482.7 192.1L486.4 194.7L495.4 196.2L498.8 197.7L502.3 201.1L495.4 203L504.2 205.2L510 206.4L515.7 209.7L521.5 209.9M321.5 185.7L325.2 186.5L323.3 188.2L332 187L337 188.9L341.3 187L344.7 188.4L347.7 191.9L349.6 190.4L346.9 186.5L350.3 186L354.1 186.6L358.2 188.1L360.4 191.7L361.6 194.4L367.9 196.2L374.8 198L374.3 199.7L368.3 200L370.6 201.4L369.4 202.8L362.7 202.2L356.1 201.2L351.8 201.4L344.7 202.7L335.3 203.2L328.6 203.7L326.5 201.9L321.5 200.8L318.1 201.2L313.6 198.3L315.8 197.9L321.8 197.2L327.1 197.4L332 196.7L324.6 195.9L316.6 196.2L311.3 196.2L318.1 193.2L312.1 193.2L305.7 192.3L308.9 189.5L311.3 188L321.5 185.7M301.6 192.9L291.8 194.7L290 193.2L281.3 191.1L285.5 186.9L288.8 184.2L285.1 182L297.8 181.4L303.1 182.4L312.5 182.4L316.2 183.5L320.3 185L315.5 186.1L306.5 188.7L301.6 191.4L301.6 192.9M409.9 153.5L427.2 152L444.4 149.7L456.1 149L467.5 148.6L469.6 149.1L480.4 148.6L488.3 148.6L496.5 149L506.7 149.3L514.5 149.7L521.5 150.9L521.3 151.6L512.3 153.5L503.1 154.2L499.7 155L507.8 155L499.2 157.2L492.8 158.4L486.4 161.4L478.9 162.1L476.3 162.9L465.1 163.2L470.3 163.6L467.7 164.4L470.7 166.2L467.3 167.4L461.3 168.5L459.4 170L454.2 171.1L454.9 171.9L461.3 171.8L461.3 172.6L451.2 174.9L441.4 173.9L430.6 174.5L424.9 174.1L417.8 173.7L417.4 172.1L424.2 171.1L422.3 168.5L424.7 168.2L434.8 170L429.8 167.4L423.6 166.6L426.4 164.2L433.2 164.4L434.3 163.1L429.1 161.7L427.6 159.7L437.7 159.9L440.7 160.2L446.5 158.7L438.1 158.4L424.9 158.7L418.2 157.2L415.2 155.7L410.7 154.8L409.9 153.5M427.2 161.7L431.7 163.2L426.4 164.4L419.7 167L412.9 167.4L405.1 167L401.1 165.3L401.3 164L404.1 162.9L397.3 162.9L393.1 161.7L390.8 159.9L396.1 157.2L399.8 156.9L398.3 156.1L406.9 155.9L411.8 158L418 158.7L424.2 159.5L427.2 161.7M402.4 172.7L409.9 172.6L413.3 173.9L412.3 175.4L416.7 176.2L418.9 177.1L424.2 177.2L429.4 177.5L435.4 176.7L443.1 176.4L449.3 176.7L453.2 178.1L454.2 179.7L451.7 180.6L446.1 181.5L441.4 181L430.6 181.6L422.9 181.6L416.8 181.2L406.9 180L405.6 177.9L405.1 176L401.3 174.5L393.6 174L389.3 172.8L390.6 171.3L398.3 171.5L402.4 172.7M347.7 174.9L349.2 176.2L352.6 175.6L356.3 175.7L357.1 177.5L354.8 179.4L342.1 179.9L332.7 181.6L327.1 181.6L326.3 180.5L334.2 178.6L317.3 179.2L312.1 178.6L317.1 174.9L320.7 173.7L331.2 175.2L338 177.3L344.4 177.6L339.1 174L342.5 172.6L346.4 173L347.7 174.9M376.9 183.7L381.4 184.6L388.2 184L389.3 185.1L385.8 186.9L391.6 188.5L390.8 191.9L384.4 193.4L381.1 193L374.7 189.5L369.1 188.7L369.1 187.5L376.9 188L372.8 185.5L376.9 183.7M403.9 187.7L399.8 190.5L395.7 190.4L393.3 187.1L393.4 185.2L395.3 183.6L399.1 182.6L406.9 182.7L414.1 183.6L408.4 187L403.9 187.7M384.1 173L387.1 174.6L387.1 176.6L385.3 179.4L379.2 179.7L375.1 179.1L375.2 177L369.1 177.3L368.8 174.3L372.8 174.5L378.5 173.2L383.8 173.4L384.1 173M394.8 201.5L392.4 202.8L387.4 201.6L384.4 202L379.2 200.4L382.6 199.2L385.2 197.6L389.1 198.6L391.3 199.3L392.5 200L394.8 201.5M434.1 214.4L434.8 216.1L436.7 215.5L438.9 216.5L442.9 217.7L447.3 218.9L447.6 220.7L450.4 220.4L453.1 221.6L449.7 222.9L443.9 221.9L441.8 220.2L438.1 222.2L432.8 224.2L431.4 222L426.4 222.3L429.6 220.5L430.2 217.6L431.3 214.1L434.1 214.4M317.7 169.4L317.3 172.2L314.3 173.6L310.8 173.8L303.8 175.4L297.8 176L292.8 175.2L299.1 172.4L306.8 170L312.5 170L317.7 169.4M357.8 163.2L365.3 163.7L375.4 165.1L378.2 167L379.6 168.5L373.6 168L367.4 166.8L358.9 166.6L362.7 165.5L358.2 164.7L357.8 163.2M340.2 169.2L333.3 170.4L327.8 169.2L330.8 167.9L336.1 167.6L341.5 168.1L340.2 169.2M468.8 204.5L471.8 205.6L471.8 207.1L471.4 207.9L468.8 208.8L464.7 209L463.8 207.1L465.4 205L468.8 204.5M456.1 227.4L454.7 229.6L453.1 229.2L451.9 228.1L452.3 227.7L456.1 227.4M441.2 224.7L446.3 224.7L446.3 225.5L441.8 227.4L439.2 227.4L438.5 226.4L441.2 224.7M543 270.5L540.4 273.8L542.9 272.5L545.4 273.3L544.2 274.6L547.5 275.7L549.1 274.7L552.9 275.9L551.7 278.7L554.3 278L554.8 280L556 282.5L554.4 285.6L552.8 285.8L550.2 285.1L551.1 282.1L550.2 281.5L545.7 284.7L543.4 284.6L546 282.9L542.5 282L538.4 282.2L531.2 282.1L530.6 281L532.9 279.7L531.3 278.6L534.5 276.4L538.3 270.4L540.6 268.3L543.9 267L545.6 267.1L544.9 268.1L543 270.5M513.4 284.3L514.7 286L517.5 286.6L520.9 286.6L519 288.1L517.7 288.2L512.9 286.6L511.9 285.5L513.4 284.3M511.5 273.6L512.8 273.2L517.7 274.2L521.7 275.7L521.7 276.5L519.8 276.5L514.9 275.3L511.5 273.6M290.3 278.7L288.5 279.1L282.1 277.6L281.1 276.1L277.8 275L277.1 273.8L273.2 273.1L271.8 271.1L272.1 270.2L276.1 271L278.3 271.6L281.9 272L283.2 273.3L285.1 275L288.8 276.6L290.3 278.7M254 257.5L255.8 258L259.4 257.7L258.3 261.9L261.5 264.9L260 264.9L257.8 263.2L256.4 261.5L254.5 260.3L253.8 258.7L254 257.5M179.7 246.5L176 248L174.1 246.9L173.5 245.1L176.9 243.9L179 243.2L181.4 243.5L183 244.6L179.7 246.5M109.6 221.4L111.9 222.1L114.1 221.7L117.1 222.7L120.9 223.2L120.5 223.6L117.9 224.4L114.9 223.6L113.5 222.9L110.2 223.2L109.2 222.9L109.6 221.4M132.6 236L130.3 236.5L127.8 235.8L125.5 234.9L129.2 234.2L132.2 234.5L132.6 236M444.8 373.6L448.2 374L451.2 374L454.6 375.1L456.1 376.6L459.6 376.2L461 377L464.3 379.4L466.6 381.1L467.7 381.1L469.9 381.8L469.7 383L472.6 383L475.3 384.5L474.8 385.4L472.3 385.9L469.8 386.1L467.3 385.8L461.8 386.1L464.4 384.1L462.8 383.1L460.4 382.8L459.1 381.7L458.2 379.6L456.1 379.7L452.7 378.7L451.6 377.9L446.7 377.3L445.3 376.6L446.7 375.7L443 375.5L440.3 377.4L438.8 377.5L438.2 378.4L436.4 378.8L434.8 378.5L436.7 377.3L437.6 375.9L439.3 375.1L441.2 374.4L444.1 374L444.8 373.6M478.9 386L481.2 386L484.5 386.7L484.9 386L487.9 386L490.2 387.1L491.1 386.9L491.8 388.2L493.8 388.2L493.7 389.3L495.4 389.4L497.3 390.8L495.8 392.3L494.1 391.5L492.3 391.7L491.1 391.5L490.4 392.1L489 392.4L488.4 391.5L487.2 392L485.7 394.6L484.7 394L484.5 392.9L482 392.3L480.3 392.5L478 392.3L476.2 393L474.2 391.8L474.5 390.6L478 391.1L480.8 391.4L482.2 390.6L480.5 389L480.5 387.5L478.1 386.9L478.9 386M462.5 391.2L465.1 391.6L467 392.5L467.7 393.5L465.1 393.6L463.9 394.2L461.8 393.6L459.7 392.2L460.1 391.4L461.7 391.1L462.5 391.2M504.9 391.2L506.8 391.5L507.5 392.2L506.5 393.2L503.7 393.2L501.5 393.3L501.3 391.7L501.8 391.1L504.9 391.2M462.8 371.3L460.9 369.5L459.4 368.3L460.2 366.1L461.3 366.1L462.8 369.5L462.8 371.3M461.7 359.7L464.7 360.8L463.9 363.5L463.2 361.2L461.7 359.7M457.3 360.1L459.1 359.7L461.5 360.1L461.7 360.8L457.6 361.6L457.3 360.1M522 420.1L524.3 419.7L525 422.7L521.7 423.1L521.1 422.7L522.2 421.6L522 420.1M78.5 778.2L82 776L88.8 777.2L93.2 775.9L99.6 777.5L104.3 776L116.2 775.1L119.7 776L127.2 777.6L137.8 778.6L146.2 779.8L160.7 780.6L171.5 779.6L187.5 780.4L196.5 781.5L206.4 780.5L216.8 779.4L217.6 777.6L202.9 777.5L190.8 776.6L187.6 775.1L177.5 774.3L178.2 772.7L179.6 771.1L181 769.7L180.3 768.2L174 767.1L171.1 765.8L165.3 764.6L174.4 764.9L183.1 764.3L188.5 765.5L195.2 764.4L201.4 763L204.4 761.8L203.1 760.2L198.3 759.2L192.7 758.1L185 757.9L178.3 757.4L171 757L168.6 755.6L163.7 754.4L160.8 753.1L159.6 748.8L161.4 749.2L164.8 750.4L171 750L177 749.5L180 751.1L186 750.8L191 749.9L195.7 748.9L199.9 747.7L205.6 747.3L205.5 745.9L204.1 744.5L205.2 743.2L210.1 742.5L212.3 743.8L218 743L222.3 742.1L227.7 742L232.7 741.6L237.8 740.7L241.9 740L246.4 739.1L249.4 739.4L251.9 739.7L257.5 739.1L262.5 739.8L267.7 739.7L272.6 739.2L277.6 739.6L283.2 740L288.4 739.8L293.9 739.9L299.4 740L304.6 739.8L308.4 738.7L312.9 738.1L317.6 738.9L322.1 738.3L326.2 736.9L328.6 738.1L329.9 739.4L332.3 740.7L336.2 739.6L340.7 741L345.8 741.4L350.1 742.4L355.4 742.2L360.1 741.6L365.8 741.7L370.9 742.2L376 742.9L378 741.3L375.6 740L373.8 738.7L368.9 738.4L366.8 737L366 735.6L364.6 732.8L367.5 733.3L372.4 733.6L377.3 733.3L381.7 733.9L385.5 735.1L387.1 736.4L392.2 736.6L397 736.1L402.2 735.3L406.8 734.9L410.6 735.8L415.6 735.5L418.8 732.6L421.9 734.3L426.2 735L430.9 734.6L434 736.1L438.9 736.2L443.4 736.7L447.9 737.4L450.8 736.1L452.3 734.8L456.1 736.2L461.2 735.8L465 736.7L467.6 737.9L472.6 737.5L476.5 736.7L480.3 735.8L484.8 735.2L490.1 734.8L494.9 734.3L498.6 733.5L500.8 732.3L501.7 730.7L501.2 729.2L500.1 727.7L498.7 726.2L497.6 724.7L496.6 723.4L496.4 722L496.7 720.5L498.5 719.1L500 717.5L500.6 716.1L499.8 714.5L499.4 713L501.2 711.3L503.3 710.2L505.7 708.8L508.3 707.6L511.3 706.5L512.7 704.9L514.8 703.9L517.2 702.9L520.8 702.7L523.1 701.5L525.8 700.8L528.8 700.4L531.6 699.4L533.7 698.2L536.6 697.8L538.8 698.8L537.4 700L533.6 701.1L532 701.9L529.2 701.3L526.1 701.7L523.5 702.5L520.8 703.5L519 704.6L518.5 706.1L518.7 707.5L520.5 708.7L517.9 709.6L514.4 709.9L512.3 711.2L510.1 712.3L507.8 713.9L507.2 715.3L508.5 716.9L510.5 718.1L513.6 718.9L516.4 720.1L518 721.6L518.8 723L519.9 724.4L521.6 725.7L522.8 727.1L523.2 730.6L524.4 731.9L524.7 733.4L525.8 734.9L525.3 736.9L523.2 738.4L521.1 739.7L516 740.2L514.4 741.5L512.1 742.7L506.4 744.2L501.5 744.7L496.7 745.5L491.7 746.3L488.7 747.9L482.6 748L476 747.9L470.1 748.2L463.8 748.2L464.9 749.6L470.7 750.3L474.9 751.4L477.2 752.7L473 753.8L466.6 753.5L461.2 754.4L460.9 757.4L465.2 758.7L466.1 760.1L470.8 761.5L478.8 762.1L485.5 763.1L490.9 764.3L497.7 765.5L507 766L516.2 767.1L522.6 768.2L529.6 769.4L533.3 771.2L535.1 772.6L539.6 771.3L545.8 770.1L552.3 769L560.1 768L566.8 767L576.1 766.9L585.3 767.4L592.9 768.3L595.3 766.7L600.5 765.6L610 765.5L617.4 764.7L624.4 763.9L632.2 763.4L640.5 762.7L646.3 761.8L643.7 760.5L642.1 759.1L642.1 757.7L634.8 757.9L627.1 758.5L619.7 758.5L618.7 757.1L619.2 754.3L620.9 753.5L626.3 752.6L632.6 751.7L640.9 750.4L645.1 748L650.2 747.4L655.3 746.9L657.9 746.6L663.7 746.4L669.2 745.9L673.8 745.2L678.4 744.3L682.5 743.4L687.7 742.2L691 741L694.5 739.9L695.6 738.4L691.6 737.5L693 736L695.4 734.8L699.3 734.1L703.5 733.2L707.3 732L710.2 730.6L712.1 728.8L714.8 727.8L719.3 728L721.1 729.2L725.6 729.4L725.7 728L727.6 726.5L731.7 726.9L732.6 728.3L737.1 728.5L741.9 727.9L746.6 727.4L750.9 727.6L752.5 729.2L756.6 727.9L760.5 727.3L764.7 726.7L768.9 726.2L772.7 725.3L776.9 724.7L780.1 724L782.4 722.6L785.2 723.6L789.1 723.1L791.8 724.8L793.9 726.1L798.2 725.4L799.9 724L803.7 722.9L808.6 723.1L810.1 724.5L813.2 723.1L817.2 722.7L821.6 722.5L825.6 722.6L829.8 723.1L833.8 723.3L835.6 724.5L838 725.6L842.1 725L846.5 724.8L850.8 724.8L854.9 724.7L858.7 724.2L862.7 723.8L866 722.8L869.5 722.1L873.3 721.7L876.2 720.7L878.2 718.7L880.4 717.4L884.3 718L885.7 719.3L888.9 720.2L892.8 719.9L895.5 721.2L898.3 722.2L902.1 721.3L903.4 719.7L906.8 719L910.7 717.8L914.4 717.2L918.8 716.5L921.7 715.7L924.8 714.8L927.7 714L931.2 714.5L934.6 713.2L937.1 712.1L940.6 712.2L943.7 711.3L944.4 710L947.6 709L950.6 708.2L954.4 707.6L957.8 707.3L961.1 707.6L964.7 707.9L967.7 709L968.1 710.6L971.4 711.8L973.6 712.9L978.1 713.3L980.6 714.3L983.7 715.3L987.3 715.6L990.3 714.8L993.5 713.3L997 714.1L1000.7 714.5L1004.2 715L1007.9 715.3L1011.7 715.3L1014.7 719.2L1014.6 720.1L1014.2 721.8L1010.6 722.8L1007.6 724.2L1008.1 725.6L1012.3 725.6L1011.8 727L1009.9 728.4L1008.1 730L1011 731.2L1015.3 731.5L1019.6 730.9L1021.7 729.4L1023 728L1025 726.8L1027.4 725.7L1028.3 724.4L1030.3 722.5L1032.7 722.2L1036.9 722L1040.7 721.6L1044.5 721L1046.3 719.5L1047.4 718.1L1050 716.8L1053.7 715.8L1056.8 715.1L1058.9 713.8L1061 713.2L1063.7 712.6L1067.5 712.9L1070.9 712.6L1074.5 712.1L1078.6 712.3L1081.4 711.3L1083.3 708.8L1084.7 709.8L1086.4 711.6L1089.6 712.3L1093.2 712.6L1096.8 712.2L1100.6 712.5L1104.1 712.6L1106.5 712.2L1109.6 712.4L1112.5 713.2L1115.9 712.7L1119.9 712.7L1123.4 712.2L1127.3 712.7L1129.7 711.5L1131.6 710.2L1134.2 709.2L1138.9 706.4L1141.4 706.9L1144.2 707.9L1146.7 709.3L1151.5 711.5L1155.1 711.6L1158.6 711.6L1162.6 711.2L1166.7 710.6L1169.8 709.6L1172.3 708.5L1176.5 708.4L1179.3 707.6L1182.3 708.3L1184.2 709.5L1186.8 710.6L1190.9 710.5L1193.5 711.5L1198 712.4L1202.7 712.8L1206.6 712.5L1209.5 711.3L1212 710.1L1215.4 709.8L1218.7 710.3L1222.6 710.7L1226.2 710.1L1229.5 710.1L1232.8 710.5L1236.3 710.9L1239.7 710.2L1243.7 709.6L1247.5 709.5L1251.8 709.5L1255.3 709.1L1258.6 708.8L1259.6 707L1259.8 705.4L1262.2 706.4L1262.8 708.1L1264.1 709.7L1265.6 710.9L1268.8 711.6L1273 711.4L1277.9 711.3L1281.3 711.1L1286.2 711.1L1289.7 711L1294.7 711.2L1298.9 711.5L1301.5 712.6L1300.8 714L1303.2 715.1L1307.2 716L1311.4 717L1316.3 717.6L1321.3 718.2L1325.1 718.8L1329.4 718.9L1331.8 717.6L1335.2 718.7L1338 719.8L1341.3 720.7L1345.9 721.1L1350.2 721.5L1352 723L1356.3 723.9L1359.1 725.2L1363.3 725.8L1367.7 725.7L1371.7 725.9L1376.2 725.9L1380.7 726.1L1384.9 726.7L1388.7 727.6L1392.6 728.3L1395.3 729.4L1394.8 730.9L1392.9 732.2L1391.2 733.9L1389.9 735.2L1388.1 736.7L1383.2 737.3L1381 738.6L1376.1 739.4L1374.4 740.9L1371.9 742.3L1369.1 743.5L1367.6 745L1366.6 746.4L1366.3 748.1L1366.3 749.5L1368.5 751L1369.3 752.4L1371 753.7L1378 754.2L1379.5 755.8L1372.7 756.4L1367 757.2L1359.9 757.4L1356.7 759.5L1356.1 761.3L1352.5 764.1L1357.5 765.3L1359.4 766.8L1362.6 768.2L1367.2 769.5L1372.4 770.7L1378 771.8L1386.6 773L1388.5 774.9L1399.3 775.7L1402.8 777L1413.2 776.1M496.7 726.6L497.2 728.3L496.5 729.8L495.5 731.2L491.1 731.7L486.9 732.4L482 732.3L483.8 730.9L475.2 731.9L472.4 730.8L472.1 729.2L476.2 727.8L478.8 727.3L483.2 727.5L484.2 725.6L484.5 724.2L484.4 721.2L486.5 719.4L490 718.8L492 720.2L492.8 721.6L494.4 723.3L495.7 724.9L496.7 726.6M369.7 730.1L372.1 729.5L376.8 730L382.3 730.3L386.4 730.8L390.5 730.3L392.7 732.5L389.8 732.2L385.2 732.3L380.6 732.2L375.5 732.4L371.7 731.7L369.7 730.1M590.9 760.6L585.1 761.8L579 762.7L571.9 763.6L564.1 764.4L555.2 764.1L550.3 762.9L550.9 761.3L559 760.3L562.2 759L564.6 757.4L566.2 756L568.5 754.7L570.9 753.2L572.8 753.2L578.4 752.4L584.1 753.2L588.7 754.8L590.3 757.1L590.8 758.7L590.9 760.6M139.6 755.3L141.8 753.8L148.8 754.4L152.5 755.6L155.4 756.9L156.4 758.6L149.2 759.1L144.3 757.8L142.1 756.5L139.6 755.3M298.9 736.1L303.8 736.7L308.3 736.1L306.1 737.4L302.6 738.3L297.4 738L293.6 736.7L294.4 735.5L298.9 736.1M282.6 736.1L288.3 737.5L286.1 737.4L281.3 737L276.2 736L278.9 735.2L282.6 736.1M530 760.7L528.9 762.6L527.8 764.3L519.9 763.7L511.6 764L506.9 762.7L506.9 762.6L504.8 761.5L513.3 761.6L521.4 762L524.1 760.4L526.1 759.1L530 760.7M536.3 697.9L538.9 697.5L543.8 697.1L545.3 698.3L541.2 699L536.3 697.9"/>
</g>
</g>
<rect class="fr" x="78.5" y="2102.1" width="1331" height="656"/>
<text class="ti" x="744" y="2076.6" xml:space="preserve">Plasmasphere (h=1500.0 km), 2006-12-20 12:00 UT</text>
<rect x="78.5" y="2801.1" width="166.9" height="66" fill="#0000c8"/>
<rect x="244.9" y="2801.1" width="166.9" height="66" fill="#0040ff"/>
<rect x="411.2" y="2801.1" width="166.9" height="66" fill="#00c0ff"/>
<rect x="577.6" y="2801.1" width="166.9" height="66" fill="#49ffad"/>
<rect x="744" y="2801.1" width="166.9" height="66" fill="#b1ff46"/>
<rect x="910.4" y="2801.1" width="166.9" height="66" fill="#ffd000"/>
<rect x="1076.8" y="2801.1" width="166.9" height="66" fill="#ff5900"/>
<rect x="1243.1" y="2801.1" width="166.4" height="66" fill="#c40000"/>
<rect class="fr" x="78.5" y="2801.1" width="1331" height="66"/>
<line x1="78.5" y1="2867.1" x2="78.5" y2="2881.7" stroke="#000" stroke-width="3.33"/>
<text class="tk" x="78.5" y="2929.2">0.0</text>
<line x1="244.9" y1="2867.1" x2="244.9" y2="2881.7" stroke="#000" stroke-width="3.33"/>
<text class="tk" x="244.9" y="2929.2">2.5</text>
<line x1="411.2" y1="2867.1" x2="411.2" y2="2881.7" stroke="#000" stroke-width="3.33"/>
<text class="tk" x="411.2" y="2929.2">5.0</text>
<line x1="577.6" y1="2867.1" x2="577.6" y2="2881.7" stroke="#000" stroke-width="3.33"/>
<text class="tk" x="577.6" y="2929.2">7.5</text>
<line x1="744" y1="2867.1" x2="744" y2="2881.7" stroke="#000" stroke-width="3.33"/>
<text class="tk" x="744" y="2929.2">10.0</text>
<line x1="910.4" y1="2867.1" x2="910.4" y2="2881.7" stroke="#000" stroke-width="3.33"/>
<text class="tk" x="910.4" y="2929.2">12.5</text>
<line x1="1076.8" y1="2867.1" x2="1076.8" y2="2881.7" stroke="#000" stroke-width="3.33"/>
<text class="tk" x="1076.8" y="2929.2">15.0</text>
<line x1="1243.1" y1="2867.1" x2="1243.1" y2="2881.7" stroke="#000" stroke-width="3.33"/>
<text class="tk" x="1243.1" y="2929.2">17.5</text>
<line x1="1409.5" y1="2867.1" x2="1409.5" y2="2881.7" stroke="#000" stroke-width="3.33"/>
<text class="tk" x="1409.5" y="2929.2">20.0</text>
</g>
</svg></body></html>
